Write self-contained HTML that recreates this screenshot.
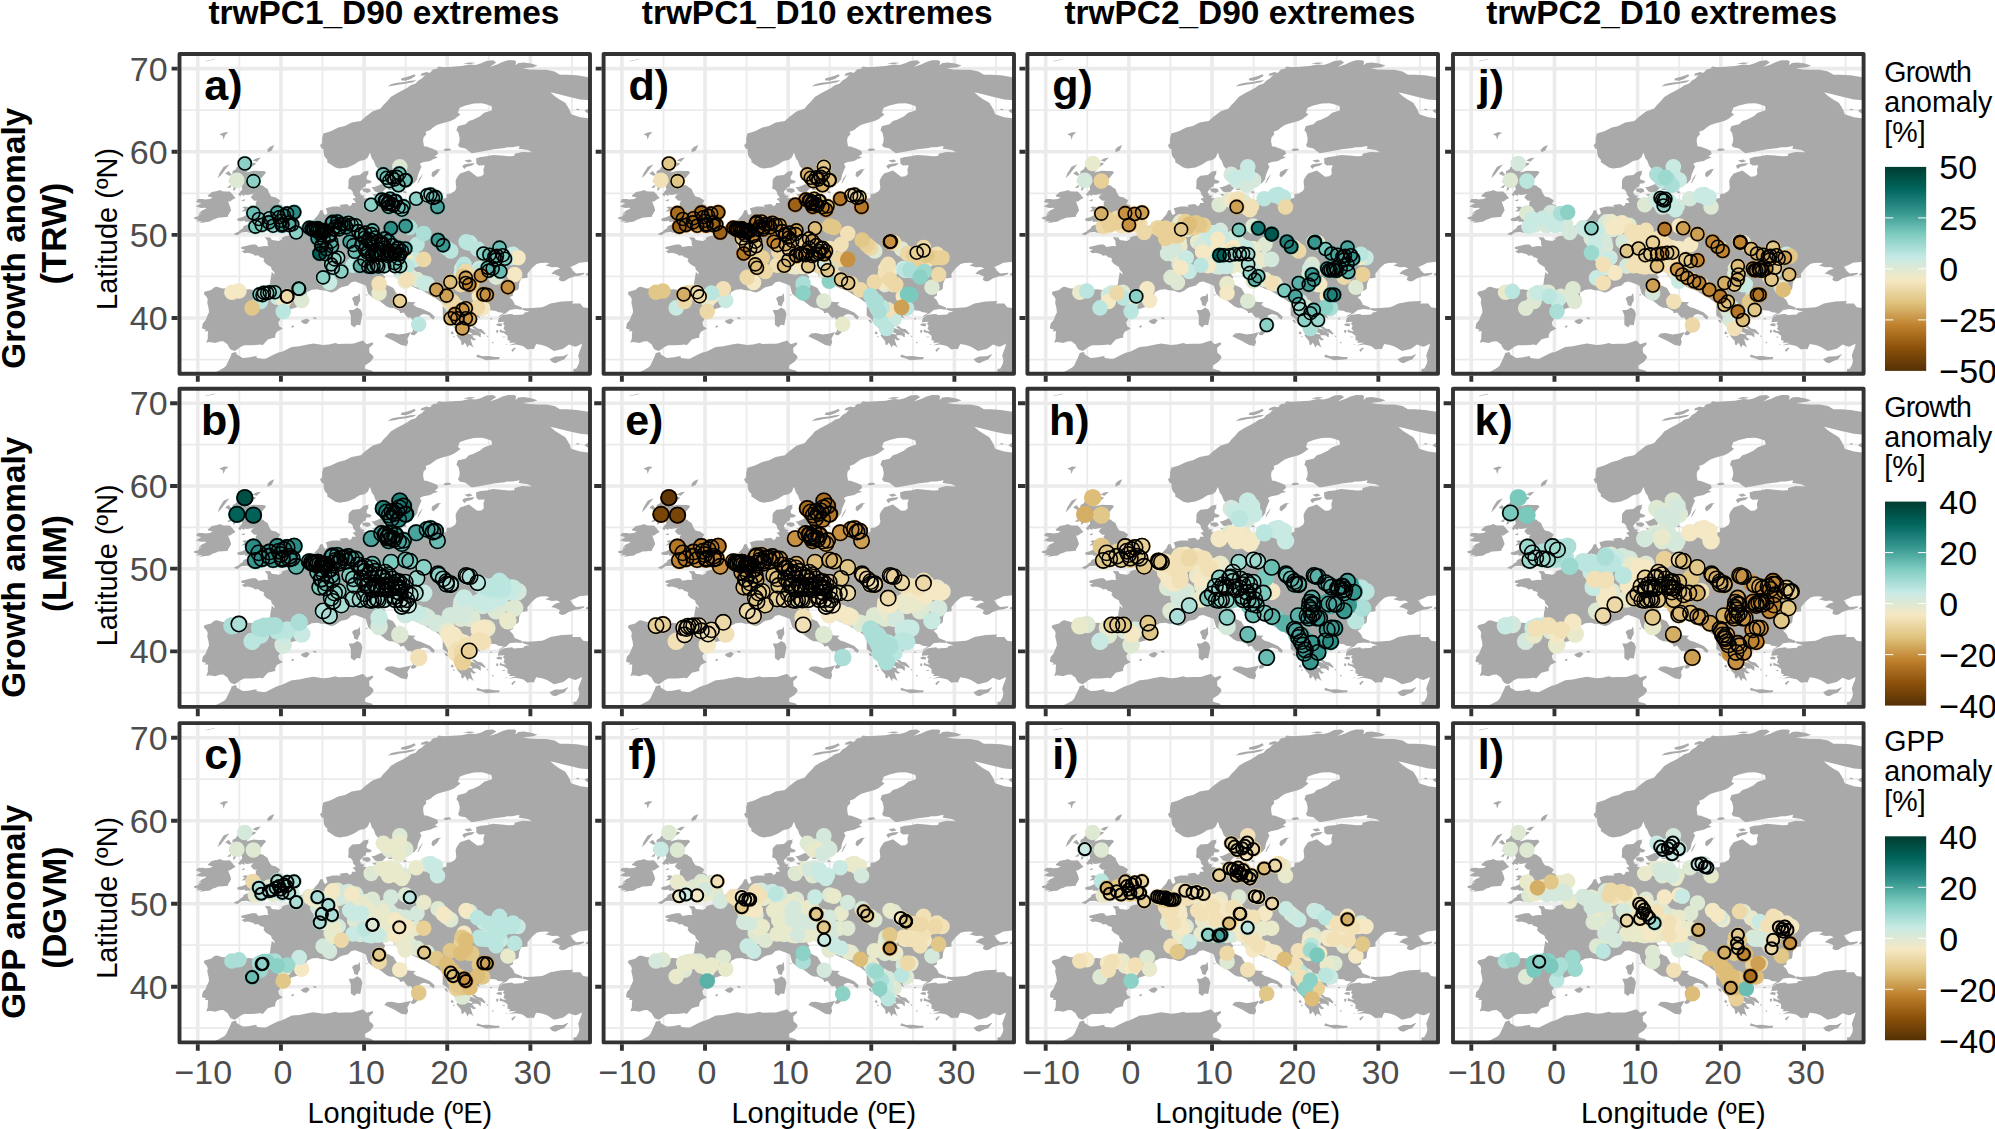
<!DOCTYPE html><html><head><meta charset="utf-8"><title>figure</title>
<style>html,body{margin:0;padding:0;background:#fff}svg{display:block}text{font-family:"Liberation Sans",Arial,Helvetica,sans-serif}.s0 circle,.s1 circle{stroke:#000;stroke-width:1.6px;fill:none}.s2 circle{stroke:#000;stroke-width:2px;fill:none}</style></head><body>
<svg width="1995" height="1129" viewBox="0 0 1995 1129">
<rect width="1995" height="1129" fill="#fff"/>
<defs>
<clipPath id="cp"><rect x="0" y="0" width="410.5" height="319.8"/></clipPath>
<linearGradient id="brbg" x1="0" y1="0" x2="0" y2="1"><stop offset="0.0000" stop-color="#003c30"/><stop offset="0.1111" stop-color="#01665e"/><stop offset="0.2222" stop-color="#35978f"/><stop offset="0.3333" stop-color="#80cdc1"/><stop offset="0.4444" stop-color="#c7eae5"/><stop offset="0.5556" stop-color="#f6e8c3"/><stop offset="0.6667" stop-color="#dfc27d"/><stop offset="0.7778" stop-color="#bf812d"/><stop offset="0.8889" stop-color="#8c510a"/><stop offset="1.0000" stop-color="#543005"/></linearGradient>
<g id="bg"><path d="M0 305.58H410.5M0 222.44H410.5M0 139.31H410.5M0 56.17H410.5M59.87 0V319.8M143.01 0V319.8M226.16 0V319.8M309.31 0V319.8M392.46 0V319.8" stroke="#ebebeb" stroke-width="1.8" fill="none"/><path d="M0 264.01H410.5M0 180.88H410.5M0 97.74H410.5M0 14.60H410.5M18.29 0V319.8M101.44 0V319.8M184.59 0V319.8M267.74 0V319.8M350.88 0V319.8" stroke="#ebebeb" stroke-width="3.6" fill="none"/><g fill="#a9a9a9"><path d="M57.0 296.0L54.9 297.1L51.1 295.6L49.1 292.7L48.2 290.6L43.7 287.3L39.9 287.5L35.8 289.0L29.9 288.1L26.7 288.8L28.3 284.4L28.3 280.6L28.7 277.3L24.9 277.2L26.6 275.7L24.1 275.0L22.4 274.2L23.3 269.4L26.2 266.1L27.4 262.8L29.5 258.2L29.1 254.5L27.7 248.5L28.3 245.7L27.4 243.2L24.4 239.9L24.9 237.8L31.6 236.0L34.9 233.3L37.4 232.7L43.2 234.5L52.8 233.7L64.0 235.7L69.8 235.2L76.5 236.2L86.5 236.2L89.0 234.9L90.6 229.1L91.0 225.4L91.9 220.8L92.3 217.9L95.2 220.8L94.8 218.3L92.3 215.8L91.5 212.9L86.5 210.0L84.0 207.1L84.8 205.0L83.1 203.7L80.7 203.3L78.6 201.2L75.7 201.7L73.2 200.0L68.2 198.8L65.1 199.2L62.1 197.2L65.7 195.8L61.8 194.8L61.9 192.9L68.2 191.5L72.3 190.4L76.5 190.4L79.0 193.1L84.8 192.1L89.0 192.3L88.1 190.5L88.1 187.1L85.3 183.2L90.9 183.4L92.3 186.1L99.4 186.9L102.3 185.4L102.7 183.4L106.4 182.1L110.4 181.5L114.3 179.2L114.6 173.6L116.8 172.8L121.2 172.1L125.6 170.6L129.3 169.2L133.9 169.2L131.4 167.2L134.7 165.5L135.5 164.2L138.9 160.5L140.8 156.3L143.4 156.3L143.8 158.4L145.5 161.3L148.0 159.3L146.3 154.3L153.0 152.6L159.6 152.6L161.3 153.4L160.1 150.9L167.1 149.9L168.8 150.9L170.0 152.2L172.1 150.9L172.5 148.9L176.3 148.9L175.4 147.2L175.0 146.5L172.9 145.1L176.3 143.5L173.4 140.1L173.4 138.1L171.3 135.4L168.6 134.7L169.0 131.0L169.0 126.4L170.0 124.3L172.9 121.7L180.4 121.0L184.2 117.7L189.6 116.5L188.3 118.1L189.2 119.1L187.1 122.7L187.1 125.2L192.3 127.3L190.8 129.3L186.7 129.7L186.3 132.2L183.8 133.5L182.5 135.1L180.4 137.6L180.4 138.9L182.5 140.6L180.0 141.0L184.2 141.4L184.8 142.5L183.3 143.7L186.3 144.3L190.4 145.1L192.9 144.3L193.7 146.0L191.2 147.2L192.1 148.0L196.6 148.3L198.7 146.4L202.0 146.1L205.4 143.7L208.7 144.0L210.4 145.1L213.3 146.8L216.2 146.8L219.9 148.3L222.8 147.6L230.9 146.1L237.0 144.7L241.5 142.8L247.4 141.3L253.8 140.7L257.8 142.6L254.8 141.6L255.7 143.5L256.5 144.7L262.7 144.7L266.9 143.9L266.9 142.4L267.3 139.7L271.1 139.7L275.6 136.8L276.9 133.5L276.5 131.7L276.1 126.8L277.5 123.5L280.6 119.4L289.4 116.4L294.3 120.2L297.7 122.7L301.8 122.3L304.3 120.2L303.9 115.4L305.2 111.3L299.3 111.5L296.8 109.5L296.8 106.5L296.4 104.4L301.0 102.9L307.2 102.3L313.5 100.9L321.8 101.5L329.3 102.3L334.7 102.1L335.1 99.8L342.6 97.9L352.5 98.3L348.4 96.1L339.2 94.8L340.1 91.9L332.6 93.2L327.6 93.2L325.1 94.0L314.3 95.2L308.9 96.3L301.0 97.7L292.3 99.2L289.4 97.3L286.0 94.4L280.2 93.2L278.5 91.1L279.8 88.3L280.2 84.4L279.0 78.9L276.9 76.1L278.5 72.0L286.0 70.3L289.4 67.0L293.5 65.7L300.2 62.4L304.7 58.8L312.6 56.2L311.8 52.0L305.6 50.1L302.2 49.3L294.3 49.5L286.0 51.6L280.2 53.7L278.5 58.7L281.0 60.5L275.2 64.9L271.1 67.0L261.9 69.5L257.3 71.1L253.6 73.6L250.7 75.9L246.1 77.8L246.9 80.3L244.0 83.4L243.6 86.9L244.5 92.2L247.8 92.7L254.4 95.2L257.8 96.9L258.6 99.8L255.3 102.3L258.6 103.6L253.6 105.2L250.7 106.9L243.2 108.3L240.3 109.8L242.0 112.7L240.3 116.4L238.6 120.4L237.6 125.5L234.5 129.3L231.2 129.7L224.9 129.6L220.3 131.6L220.8 134.7L216.2 135.8L208.3 136.1L209.5 134.3L207.0 130.6L205.0 128.5L208.3 125.6L203.3 121.8L200.4 116.9L196.2 112.1L194.1 106.6L192.5 104.8L190.4 98.6L188.3 103.6L185.0 106.1L180.0 107.1L174.6 110.6L168.0 113.4L160.1 114.5L155.9 113.5L151.3 110.6L147.6 108.1L148.0 106.1L145.1 102.7L144.3 99.8L143.8 94.4L142.6 95.2L140.5 91.3L142.6 89.0L142.6 84.4L143.8 79.4L151.3 77.2L158.8 73.6L165.5 72.0L172.1 68.6L181.3 67.0L185.4 63.2L192.9 57.4L201.2 54.5L203.7 51.2L207.9 47.0L211.2 42.9L217.0 39.5L222.8 36.6L227.8 33.7L231.2 31.2L236.1 29.6L238.6 26.7L242.8 24.2L244.5 22.1L249.4 19.2L256.1 15.0L264.4 13.2L272.7 12.7L281.9 12.1L290.2 10.4L296.0 10.9L301.0 9.6L306.8 6.9L313.5 6.3L316.8 8.4L310.1 12.9L317.6 10.4L323.0 7.9L328.4 6.3L334.7 6.3L336.7 7.5L335.9 11.3L338.9 8.9L344.2 8.4L351.7 9.6L358.0 11.6L353.8 13.2L343.2 14.3L349.6 15.4L358.0 15.8L366.7 15.8L375.0 17.5L380.4 20.7L387.5 20.7L397.4 21.3L414.7 24.2L414.7 46.6L400.8 45.4L387.1 42.2L378.3 40.0L370.8 38.3L375.0 42.0L380.0 45.4L385.8 48.7L388.3 52.8L390.4 56.6L391.6 60.3L400.8 63.2L414.7 64.9L414.7 205.8L407.4 207.9L399.9 208.7L395.0 211.2L390.8 212.7L393.3 216.6L396.6 219.5L404.5 218.7L404.9 220.0L399.1 222.0L395.8 222.2L389.1 224.5L385.4 227.0L382.1 227.5L379.2 225.8L380.4 222.4L375.8 220.4L371.7 219.5L375.8 216.2L380.8 214.5L377.5 212.9L372.5 213.3L365.8 211.6L370.0 209.6L366.7 208.7L360.9 208.9L357.1 210.0L352.5 214.1L348.0 219.5L348.0 223.7L341.7 224.5L339.7 229.3L339.2 234.5L338.4 235.7L333.4 237.4L333.4 241.6L330.1 243.2L333.0 246.0L334.3 248.2L335.1 250.5L342.6 253.6L342.2 255.7L336.3 255.1L330.1 255.9L326.8 259.0L323.2 260.7L319.0 263.6L320.1 261.5L324.3 259.0L318.0 258.0L316.8 256.9L309.3 256.1L304.3 256.3L298.5 258.2L300.2 260.7L304.3 262.9L298.9 261.1L301.0 264.4L295.6 261.9L298.9 264.6L292.7 261.1L292.3 259.0L289.4 259.9L289.4 262.4L292.3 267.3L295.6 271.1L292.3 269.4L291.4 271.9L288.9 273.4L294.3 275.2L297.7 276.8L301.4 279.4L301.2 283.6L297.9 281.2L292.7 281.2L293.9 283.7L296.8 285.6L293.9 286.5L291.0 284.4L291.8 287.7L293.1 291.6L294.3 293.7L291.0 291.4L289.1 291.0L288.4 294.0L286.0 289.8L285.2 288.8L283.4 291.3L281.9 290.5L281.6 286.9L278.5 283.6L276.9 281.2L279.4 279.0L282.1 278.6L287.7 279.4L292.3 280.6L292.7 279.4L287.7 277.5L283.0 277.4L279.4 277.7L276.7 276.2L274.0 272.7L271.1 270.0L269.8 268.2L267.7 265.1L263.2 261.5L263.2 256.5L263.2 253.0L264.2 249.0L261.1 248.1L255.7 244.1L251.9 242.0L246.5 238.7L242.8 236.6L238.2 234.9L233.6 233.0L228.0 229.8L225.3 224.9L225.3 222.4L221.4 219.7L219.5 222.0L217.0 224.1L214.8 221.8L213.7 218.3L215.9 217.0L213.9 216.0L210.6 216.8L204.1 218.9L203.7 220.8L205.8 222.9L203.5 227.3L206.0 230.2L213.9 233.9L216.6 238.7L219.7 243.5L226.2 247.4L231.2 248.0L236.0 248.2L233.8 250.5L236.8 253.0L241.7 254.6L250.7 258.6L255.3 262.8L254.1 265.7L250.9 263.6L249.9 261.5L244.7 260.1L241.1 261.1L238.6 266.1L243.9 270.7L244.5 272.1L239.7 273.8L239.3 276.9L235.0 281.2L231.6 281.1L231.6 279.0L233.6 277.1L233.1 275.5L236.3 273.2L234.7 269.4L232.6 265.5L231.4 263.4L228.5 263.8L226.0 261.1L224.2 258.4L220.6 259.3L219.9 257.1L214.3 254.0L209.9 253.8L206.4 252.0L203.1 249.3L199.4 246.6L193.7 244.1L188.7 239.7L187.1 234.5L186.5 231.8L183.2 230.2L175.7 227.4L171.9 228.3L168.2 231.8L164.6 232.6L161.9 233.3L159.6 234.5L156.7 236.8L152.6 238.4L150.7 238.2L145.9 236.6L141.4 236.2L138.0 235.3L132.2 235.7L130.5 236.7L127.2 238.2L126.8 241.6L129.0 244.7L127.6 245.3L127.5 248.6L124.7 250.1L119.6 252.5L111.8 254.9L108.7 258.0L105.3 260.1L101.4 264.3L98.8 268.6L99.8 272.3L103.4 274.6L97.4 277.7L95.8 280.8L95.7 283.7L93.3 284.1L88.3 285.6L83.2 291.3L80.9 290.4L76.3 291.0L72.2 291.3L64.7 291.3L60.9 293.1Z"/><path d="M343.4 253.9L347.6 254.2L352.5 254.0L362.5 253.2L365.8 252.0L370.8 249.5L382.1 247.6L393.7 247.1L392.5 249.5L400.8 249.6L403.7 253.2L414.7 254.9L414.7 324.0L393.3 324.0L394.1 314.7L396.6 314.7L399.1 310.2L399.9 306.4L398.7 301.4L400.4 296.4L402.0 292.4L402.4 289.8L397.4 292.3L395.4 292.7L389.5 290.6L383.7 294.8L374.6 297.1L367.5 292.7L362.5 290.9L356.7 290.0L354.2 295.6L352.1 294.8L348.0 295.6L343.4 292.1L340.9 291.4L336.3 290.5L328.8 291.6L336.7 288.7L329.3 288.7L330.9 286.9L328.0 286.0L328.0 281.7L324.3 279.0L320.1 278.0L320.5 275.2L323.4 276.9L326.8 277.2L323.9 275.1L325.1 271.7L323.4 269.8L325.1 267.8L318.2 268.3L319.3 264.0L320.9 262.8L323.4 261.1L328.4 260.3L332.6 259.9L334.3 261.1L343.8 260.4L345.1 258.6L350.1 257.8L342.6 255.7Z"/><path d="M414.7 218.7L407.8 219.0L405.8 220.8L408.3 221.6L414.7 222.4Z"/><path d="M414.7 54.5L407.8 54.9L404.9 56.8L407.4 58.7L414.7 61.6Z"/><path d="M30.3 324.0L30.8 320.1L38.2 317.2L44.7 313.6L46.6 311.7L50.3 303.9L51.3 301.7L52.2 299.1L56.5 297.9L57.4 300.6L63.2 303.9L68.8 303.5L76.9 302.0L77.3 304.1L83.1 304.8L86.1 304.8L96.0 299.8L98.9 298.5L102.1 297.9L112.2 292.9L119.7 292.3L126.8 290.8L133.9 289.6L143.7 291.0L149.4 290.5L155.9 289.0L158.8 290.0L166.0 289.8L171.7 289.8L174.2 289.4L183.5 286.5L187.1 290.2L193.3 288.3L193.7 290.2L189.6 293.9L190.0 298.7L193.3 301.4L194.1 303.7L191.0 307.8L185.4 311.4L185.4 314.7L192.1 316.4L193.7 318.1L195.4 324.0Z"/><path d="M54.0 180.3L58.2 181.2L61.9 178.4L66.9 178.0L71.2 179.0L73.2 175.9L76.9 175.1L81.1 176.6L84.4 176.1L90.6 174.6L94.8 174.8L103.5 174.8L109.5 173.3L112.7 171.5L113.4 169.4L108.9 169.5L105.6 168.8L107.7 168.2L109.3 167.6L111.0 166.1L112.2 164.7L114.6 163.6L116.1 160.3L115.8 159.3L112.2 156.5L105.6 156.3L103.1 157.6L102.3 156.3L104.4 154.7L102.3 151.1L98.9 149.9L100.8 146.6L96.5 143.5L91.9 142.4L89.8 139.3L88.1 135.1L84.8 132.9L83.7 131.8L80.7 131.0L74.8 131.2L70.7 130.7L79.8 128.7L77.3 127.3L80.0 126.4L84.1 121.4L86.6 118.5L84.8 116.9L80.7 117.0L74.2 116.7L66.5 118.5L70.0 115.4L67.3 115.2L71.1 113.4L75.8 110.6L76.3 109.0L73.3 108.8L66.5 109.8L59.9 109.1L59.0 112.3L57.4 113.1L56.5 115.2L53.2 116.9L52.8 119.4L54.0 120.4L53.0 122.7L49.6 124.9L55.7 127.7L54.9 130.2L53.4 136.8L55.3 136.0L57.0 132.7L60.7 131.8L61.9 131.4L62.8 135.6L61.1 137.2L58.6 140.6L60.9 142.4L61.5 140.6L64.9 142.0L64.9 140.4L67.8 141.1L76.1 139.6L73.2 140.4L71.3 143.5L74.7 146.8L77.7 146.8L76.2 148.2L76.3 150.5L76.1 152.4L73.8 153.0L69.4 153.2L65.7 152.4L62.8 153.3L65.3 154.9L61.9 157.6L67.2 157.2L67.8 158.3L67.5 160.8L62.5 163.3L59.3 164.0L57.4 165.2L58.6 166.9L62.4 167.2L65.3 166.6L65.7 168.0L68.6 167.6L70.7 168.7L75.1 168.8L76.9 168.2L79.4 167.6L78.8 168.4L76.5 169.8L76.1 170.9L72.6 170.7L67.2 170.7L63.8 172.4L63.6 174.0L60.3 176.3L59.2 177.4L55.9 179.0Z"/><path d="M40.2 136.1L43.7 137.5L46.1 137.6L50.3 137.4L53.2 140.6L54.0 141.8L56.1 143.9L52.8 145.8L50.7 147.5L48.6 147.6L49.5 149.9L50.7 153.0L51.6 156.2L49.9 159.3L48.6 161.3L48.5 162.8L43.8 163.3L38.7 163.7L36.2 164.8L32.8 165.9L30.5 167.6L24.1 168.4L19.8 168.8L22.4 167.2L16.6 167.6L19.1 165.9L15.0 165.1L14.4 163.4L19.5 162.0L18.7 160.8L22.4 159.4L18.9 159.6L23.0 156.2L26.6 154.7L26.2 153.7L21.6 153.9L16.4 152.6L19.1 150.8L21.6 149.3L16.6 147.9L18.3 145.1L23.7 144.9L24.9 145.5L30.3 145.1L33.3 143.5L28.7 142.4L28.3 141.6L32.4 138.1L35.2 137.4L38.0 137.0Z"/><path d="M204.8 282.3L207.5 279.4L212.4 279.0L219.5 280.6L226.2 279.4L231.6 278.1L227.8 284.8L228.7 288.5L227.0 291.9L221.6 291.0L214.5 286.9L208.7 284.2Z"/><path d="M169.2 256.1L171.3 261.5L171.3 270.7L175.0 273.4L177.1 270.7L180.8 271.2L182.1 264.0L182.9 259.9L181.3 255.7L177.9 253.6L173.8 256.1Z"/><path d="M172.5 244.5L174.2 248.2L174.6 251.1L177.9 252.6L179.6 248.6L180.8 246.6L180.4 240.7L179.6 239.1L178.8 241.6L174.6 242.4Z"/><path d="M121.0 267.3L124.3 269.8L127.2 270.1L130.4 266.5L127.2 264.4L123.1 266.1Z"/><path d="M133.0 263.8L135.5 265.3L137.2 264.8L135.9 263.3Z"/><path d="M111.4 273.2L113.5 273.6L114.7 271.9L113.1 271.3Z"/><path d="M296.8 303.1L297.7 300.6L302.7 302.3L309.3 302.1L315.5 303.1L320.1 303.1L319.7 305.2L313.5 305.7L306.8 306.2L301.0 303.9Z"/><path d="M370.0 305.2L372.5 308.1L375.8 309.2L381.6 306.4L384.6 305.6L389.1 299.9L383.3 302.3L375.8 302.4L372.5 303.9Z"/><path d="M331.8 296.0L333.0 298.1L336.3 293.9L335.1 293.5Z"/><path d="M292.3 272.7L295.2 272.1L298.1 274.4L302.2 275.2L306.0 279.4L305.6 280.8L302.2 279.0L298.1 277.3L296.0 275.7Z"/><path d="M316.4 270.7L319.3 269.2L322.6 269.8L322.2 272.2L318.5 271.9Z"/><path d="M316.8 276.1L318.9 276.1L318.5 279.0L316.8 278.6Z"/><path d="M192.1 133.1L195.4 137.6L198.7 138.5L202.5 139.3L203.7 137.2L206.6 134.3L206.2 130.6L201.2 130.2L198.7 131.4L194.6 133.1Z"/><path d="M182.5 135.1L183.8 137.6L187.9 139.1L191.2 137.6L190.8 135.6L188.7 134.2L184.6 134.6Z"/><path d="M192.5 140.6L195.4 142.2L200.0 142.6L202.5 140.6L200.0 139.7L195.4 139.9Z"/><path d="M223.7 138.5L225.7 139.3L227.4 138.3L224.5 136.8Z"/><path d="M237.8 129.3L239.9 124.3L243.6 119.6L241.5 123.9L239.0 128.5Z"/><path d="M251.9 121.0L253.6 123.5L257.8 119.8L260.3 115.6L262.3 114.8L257.8 115.2L252.8 118.1Z"/><path d="M282.7 111.9L284.8 115.0L286.9 113.1L292.7 111.5L295.2 109.0L290.2 109.4L285.2 110.2Z"/><path d="M284.8 106.6L288.5 108.5L293.1 107.3L290.2 105.4Z"/><path d="M263.6 96.1L266.9 97.3L271.9 96.1L270.2 94.4L266.1 94.6Z"/><path d="M208.3 32.5L214.5 31.6L220.3 30.4L227.0 29.6L233.6 28.3L237.0 26.2L231.2 26.7L225.3 27.9L217.8 28.7L212.0 30.0Z"/><path d="M221.2 26.2L226.2 26.7L231.2 25.0L236.1 22.1L235.3 20.2L230.3 22.1L226.2 23.3L222.0 24.2Z"/><path d="M241.1 21.7L246.9 21.3L251.1 19.2L246.9 17.9L242.0 19.6Z"/><path d="M251.1 17.5L257.8 17.9L260.3 15.8L254.4 15.0Z"/><path d="M256.9 14.6L264.4 15.0L265.2 13.4L259.4 12.5Z"/><path d="M283.5 10.0L291.8 10.0L296.0 8.8L289.4 8.4Z"/><path d="M396.6 55.8L399.9 56.2L399.5 54.9L397.0 54.7Z"/><path d="M39.9 80.3L44.9 78.2L49.1 78.6L45.7 81.1L44.1 85.7L43.2 81.9Z"/><path d="M88.1 98.6L92.3 96.5L94.8 91.1L90.6 92.7L88.1 95.2Z"/><path d="M73.2 106.5L77.3 107.7L81.5 103.6L76.5 104.4Z"/><path d="M38.2 124.3L41.6 121.0L49.9 110.2L44.1 112.7L39.9 119.4Z"/><path d="M45.7 119.4L49.1 116.9L52.4 121.0L49.9 121.8Z"/><path d="M49.1 128.5L54.0 126.8L49.9 126.0Z"/><path d="M47.4 133.5L50.7 133.9L52.4 130.2L49.9 131.8Z"/><path d="M61.5 146.8L65.3 145.1L64.9 147.2Z"/><path d="M26.2 7.5L34.9 5.5L35.3 4.9L26.2 7.0Z"/><path d="M264.8 266.1L267.3 265.7L268.6 269.0L266.5 268.6Z"/><path d="M271.1 279.0L272.7 276.9L274.4 279.8L272.3 280.2Z"/><path d="M273.1 281.9L275.6 282.7L274.4 283.6Z"/><path d="M312.2 288.1L314.3 287.7L313.5 289.4Z"/><path d="M306.8 281.1L308.9 282.7L307.6 283.1Z"/><path d="M322.2 282.7L326.4 282.7L324.3 283.6Z"/><path d="M325.5 291.0L328.4 289.8L326.8 291.0Z"/><path d="M309.7 264.8L312.6 264.0L312.2 265.7Z"/><path d="M305.6 258.2L307.2 257.8L306.8 259.2Z"/><path d="M185.4 240.9L187.9 240.3L187.9 241.4Z"/></g></g>
</defs>
<g transform="translate(179.5 54.0) scale(1.00000 1.00000)" clip-path="url(#cp)">
<use href="#bg"/>
<g fill="none" stroke-linecap="round" stroke-width="15.6"><path d="M57.4 126.3h0M220.2 204.9h0M230.8 222.6h0M237.5 225.6h0M316.6 223.1h0M220.3 112.8h0M122.2 246.6h0" stroke="#dee9d4"/><path d="M222.4 218.9h0M282.4 214.6h0M281.8 219.7h0" stroke="#d4e9dc"/><path d="M225.7 227.3h0M199.6 239.0h0" stroke="#e9e9cc"/><path d="M150.0 228.4h0M230.8 207.1h0M235.8 205.4h0M244.6 229.0h0M247.6 229.8h0M288.0 188.6h0M290.5 188.9h0M331.7 203.7h0M333.4 200.3h0M299.8 214.6h0M303.1 216.3h0M306.5 216.3h0M320.0 210.4h0M282.9 265.1h0M97.8 243.3h0M305.7 215.3h0M278.7 253.4h0" stroke="#c9eae3"/><path d="M225.7 203.7h0M338.5 203.7h0M335.1 220.5h0M303.1 254.2h0M299.8 242.4h0M52.4 238.2h0M59.4 237.0h0M104.5 246.6h0" stroke="#f4e8c5"/><path d="M173.5 211.3h0M224.0 216.3h0M227.4 212.1h0M237.5 190.6h0M267.0 193.9h0M271.2 197.0h0M286.6 187.7h0M298.1 195.0h0M284.6 210.4h0M271.2 250.0h0M273.7 254.2h0M286.3 258.4h0M277.0 266.0h0M81.0 247.5h0M103.7 257.6h0M239.2 270.2h0M301.3 216.3h0" stroke="#bbe5df"/><path d="M227.4 225.6h0M269.5 247.5h0M199.6 229.8h0" stroke="#f2e1b7"/><path d="M230.3 173.4h0M244.2 179.6h0M284.8 216.3h0M268.5 243.4h0" stroke="#abded7"/><path d="M244.2 205.4h0M286.3 217.2h0M281.3 230.6h0M279.6 228.1h0M298.1 253.4h0M272.8 247.5h0" stroke="#edd9a7"/><path d="M283.8 222.2h0M292.2 230.6h0M72.6 253.9h0" stroke="#e2c888"/><path d="M107.9 242.4h0M107.3 242.5h0" stroke="#edd9a7"/><path d="M158.7 203.7h0M215.6 212.1h0M220.7 212.1h0" stroke="#9bd8ce"/><path d="M220.3 247.0h0" stroke="#e8d097"/><path d="M65.3 109.5h0M73.9 127.1h0M93.6 171.7h0M116.7 178.5h0M136.2 175.1h0M144.9 176.8h0M172.2 170.9h0M155.0 205.4h0M151.7 210.4h0M161.8 217.5h0M143.6 223.4h0M153.4 213.8h0M194.1 212.1h0M204.7 212.1h0M182.0 180.1h0M185.3 183.5h0M215.6 197.0h0M202.2 201.2h0M220.7 200.3h0M304.0 199.5h0M323.3 201.2h0M191.7 150.7h0M207.2 123.8h0M209.7 127.1h0M236.7 144.8h0M247.6 141.4h0M251.0 140.6h0M80.1 240.4h0M84.4 238.7h0M87.7 239.0h0M90.2 238.2h0M95.3 238.2h0M119.7 234.8h0M83.0 241.1h0M203.3 189.1h0M184.8 206.2h0M138.4 174.4h0M144.4 186.2h0M89.9 164.2h0M216.0 147.0h0M226.2 126.0h0M119.0 234.6h0" stroke="#8bd1c6"/><path d="M79.3 165.0h0M75.9 172.6h0M82.3 170.9h0M104.5 161.6h0M134.0 174.8h0M147.0 176.8h0M155.9 172.6h0M165.1 170.0h0M168.8 168.7h0M176.1 171.2h0M173.9 191.1h0M191.7 213.0h0M198.8 212.5h0M192.1 180.1h0M205.5 193.6h0M222.4 197.0h0M198.8 200.3h0M197.1 199.5h0M212.3 200.3h0M201.7 200.7h0M316.6 205.4h0M214.8 125.5h0M219.0 131.3h0M208.9 148.2h0M213.9 151.5h0M253.5 144.0h0M217.3 194.3h0M197.3 211.1h0M145.1 176.9h0M143.1 176.3h0M159.7 175.4h0M109.8 171.1h0M206.4 146.7h0M207.7 150.0h0M314.9 202.7h0M325.5 204.7h0" stroke="#7ac9bd"/><path d="M270.8 228.1h0M286.3 229.0h0" stroke="#ddbd77"/><path d="M73.9 159.1h0M99.5 163.3h0M109.9 168.4h0M132.0 174.3h0M142.4 191.1h0M151.7 187.7h0M175.2 197.8h0M198.8 186.9h0M208.9 197.0h0M188.7 197.0h0M309.9 200.7h0M317.4 201.7h0M320.0 193.6h0M320.8 217.5h0M203.8 120.4h0M217.3 122.9h0M225.7 126.3h0M219.8 119.6h0M202.2 145.6h0M205.5 146.5h0M212.3 149.9h0M215.6 147.3h0M219.0 153.2h0M222.4 155.7h0M224.0 152.4h0M256.0 143.1h0M209.2 152.9h0M187.9 198.7h0M181.3 180.8h0M218.8 204.4h0M204.5 197.6h0M215.1 209.1h0M137.7 177.3h0M132.5 175.6h0M146.1 200.2h0M159.7 173.4h0M208.7 149.0h0M212.6 123.4h0" stroke="#6abdb2"/><path d="M277.9 264.3h0M290.5 265.1h0M286.3 254.2h0M271.2 264.3h0" stroke="#d5ae65"/><path d="M112.6 170.4h0M129.8 173.8h0M148.8 182.2h0M141.6 181.0h0M153.7 175.4h0M161.8 170.0h0M152.5 192.3h0M180.6 211.8h0M188.7 212.5h0M178.6 177.1h0M188.7 186.9h0M192.9 202.0h0M309.0 216.8h0M313.2 214.6h0M308.2 213.8h0M210.6 144.8h0M185.7 178.6h0M192.9 176.4h0M208.7 202.0h0M219.2 193.8h0M144.4 176.1h0M141.7 191.6h0M150.5 181.7h0M153.2 167.9h0" stroke="#59b1a7"/><path d="M286.3 223.9h0M256.9 235.7h0M267.0 241.6h0M282.9 274.4h0" stroke="#cea053"/><path d="M89.4 168.4h0M97.8 158.6h0M102.9 170.4h0M170.2 187.7h0M195.4 183.5h0M202.2 190.2h0M212.8 191.1h0M225.7 194.5h0M195.4 197.0h0M207.2 199.5h0M205.5 184.4h0M182.0 190.2h0M208.9 186.9h0M258.0 152.9h0M190.4 185.0h0M134.3 176.1h0M152.2 169.2h0" stroke="#48a49c"/><path d="M328.4 233.2h0M275.4 260.1h0M282.9 255.9h0M304.0 240.4h0M307.3 240.7h0M301.5 221.4h0M286.3 264.3h0" stroke="#c79141"/><path d="M101.2 166.7h0M107.6 159.6h0M138.2 174.4h0M140.2 176.4h0M142.4 177.1h0M138.2 184.4h0M166.8 173.4h0M146.6 195.3h0M219.0 200.3h0M192.1 190.2h0M192.1 201.2h0M215.6 199.5h0M185.3 195.3h0M226.1 172.1h0M258.5 186.0h0M263.6 191.1h0M102.5 171.4h0" stroke="#379890"/><path d="M289.7 230.6h0" stroke="#c0832f"/><path d="M114.6 158.3h0M157.9 167.5h0M211.4 174.3h0" stroke="#2b8d85"/><path d="M140.2 199.5h0" stroke="#016259"/></g><g class="s0"><circle cx="65.3" cy="109.5" r="6.5"/><circle cx="73.9" cy="127.1" r="6.5"/><circle cx="73.9" cy="159.1" r="6.5"/><circle cx="79.3" cy="165.0" r="6.5"/><circle cx="75.9" cy="172.6" r="6.5"/><circle cx="82.3" cy="170.9" r="6.5"/><circle cx="89.4" cy="168.4" r="6.5"/><circle cx="93.6" cy="171.7" r="6.5"/><circle cx="97.8" cy="158.6" r="6.5"/><circle cx="99.5" cy="163.3" r="6.5"/><circle cx="101.2" cy="166.7" r="6.5"/><circle cx="102.9" cy="170.4" r="6.5"/><circle cx="104.5" cy="161.6" r="6.5"/><circle cx="107.6" cy="159.6" r="6.5"/><circle cx="109.9" cy="168.4" r="6.5"/><circle cx="114.6" cy="158.3" r="6.5"/><circle cx="112.6" cy="170.4" r="6.5"/><circle cx="116.7" cy="178.5" r="6.5"/><circle cx="129.8" cy="173.8" r="6.5"/><circle cx="132.0" cy="174.3" r="6.5"/><circle cx="134.0" cy="174.8" r="6.5"/><circle cx="136.2" cy="175.1" r="6.5"/><circle cx="138.2" cy="174.4" r="6.5"/><circle cx="140.2" cy="176.4" r="6.5"/><circle cx="142.4" cy="177.1" r="6.5"/><circle cx="144.9" cy="176.8" r="6.5"/><circle cx="147.0" cy="176.8" r="6.5"/><circle cx="148.8" cy="182.2" r="6.5"/><circle cx="138.2" cy="184.4" r="6.5"/><circle cx="141.6" cy="181.0" r="6.5"/><circle cx="153.7" cy="175.4" r="6.5"/><circle cx="157.9" cy="167.5" r="6.5"/><circle cx="155.9" cy="172.6" r="6.5"/><circle cx="161.8" cy="170.0" r="6.5"/><circle cx="165.1" cy="170.0" r="6.5"/><circle cx="168.8" cy="168.7" r="6.5"/><circle cx="172.2" cy="170.9" r="6.5"/><circle cx="176.1" cy="171.2" r="6.5"/><circle cx="166.8" cy="173.4" r="6.5"/><circle cx="142.4" cy="191.1" r="6.5"/><circle cx="152.5" cy="192.3" r="6.5"/><circle cx="140.2" cy="199.5" r="6.5"/><circle cx="146.6" cy="195.3" r="6.5"/><circle cx="151.7" cy="187.7" r="6.5"/><circle cx="155.0" cy="205.4" r="6.5"/><circle cx="151.7" cy="210.4" r="6.5"/><circle cx="158.7" cy="203.7" r="6.5"/><circle cx="161.8" cy="217.5" r="6.5"/><circle cx="143.6" cy="223.4" r="6.5"/><circle cx="153.4" cy="213.8" r="6.5"/><circle cx="170.2" cy="187.7" r="6.5"/><circle cx="173.9" cy="191.1" r="6.5"/><circle cx="175.2" cy="197.8" r="6.5"/><circle cx="180.6" cy="211.8" r="6.5"/><circle cx="188.7" cy="212.5" r="6.5"/><circle cx="191.7" cy="213.0" r="6.5"/><circle cx="194.1" cy="212.1" r="6.5"/><circle cx="198.8" cy="212.5" r="6.5"/><circle cx="204.7" cy="212.1" r="6.5"/><circle cx="178.6" cy="177.1" r="6.5"/><circle cx="182.0" cy="180.1" r="6.5"/><circle cx="185.3" cy="183.5" r="6.5"/><circle cx="188.7" cy="186.9" r="6.5"/><circle cx="192.1" cy="180.1" r="6.5"/><circle cx="195.4" cy="183.5" r="6.5"/><circle cx="198.8" cy="186.9" r="6.5"/><circle cx="202.2" cy="190.2" r="6.5"/><circle cx="205.5" cy="193.6" r="6.5"/><circle cx="208.9" cy="197.0" r="6.5"/><circle cx="212.8" cy="191.1" r="6.5"/><circle cx="215.6" cy="197.0" r="6.5"/><circle cx="219.0" cy="200.3" r="6.5"/><circle cx="222.4" cy="197.0" r="6.5"/><circle cx="225.7" cy="194.5" r="6.5"/><circle cx="192.1" cy="190.2" r="6.5"/><circle cx="195.4" cy="197.0" r="6.5"/><circle cx="198.8" cy="200.3" r="6.5"/><circle cx="202.2" cy="201.2" r="6.5"/><circle cx="188.7" cy="197.0" r="6.5"/><circle cx="192.1" cy="201.2" r="6.5"/><circle cx="197.1" cy="199.5" r="6.5"/><circle cx="207.2" cy="199.5" r="6.5"/><circle cx="212.3" cy="200.3" r="6.5"/><circle cx="215.6" cy="199.5" r="6.5"/><circle cx="220.7" cy="200.3" r="6.5"/><circle cx="201.7" cy="200.7" r="6.5"/><circle cx="205.5" cy="184.4" r="6.5"/><circle cx="182.0" cy="190.2" r="6.5"/><circle cx="185.3" cy="195.3" r="6.5"/><circle cx="208.9" cy="186.9" r="6.5"/><circle cx="192.9" cy="202.0" r="6.5"/><circle cx="215.6" cy="212.1" r="6.5"/><circle cx="220.7" cy="212.1" r="6.5"/><circle cx="211.4" cy="174.3" r="6.5"/><circle cx="226.1" cy="172.1" r="6.5"/><circle cx="258.5" cy="186.0" r="6.5"/><circle cx="263.6" cy="191.1" r="6.5"/><circle cx="304.0" cy="199.5" r="6.5"/><circle cx="309.9" cy="200.7" r="6.5"/><circle cx="317.4" cy="201.7" r="6.5"/><circle cx="323.3" cy="201.2" r="6.5"/><circle cx="316.6" cy="205.4" r="6.5"/><circle cx="320.0" cy="193.6" r="6.5"/><circle cx="309.0" cy="216.8" r="6.5"/><circle cx="313.2" cy="214.6" r="6.5"/><circle cx="320.8" cy="217.5" r="6.5"/><circle cx="328.4" cy="233.2" r="6.5"/><circle cx="308.2" cy="213.8" r="6.5"/><circle cx="286.3" cy="223.9" r="6.5"/><circle cx="270.8" cy="228.1" r="6.5"/><circle cx="289.7" cy="230.6" r="6.5"/><circle cx="256.9" cy="235.7" r="6.5"/><circle cx="267.0" cy="241.6" r="6.5"/><circle cx="275.4" cy="260.1" r="6.5"/><circle cx="277.9" cy="264.3" r="6.5"/><circle cx="282.9" cy="255.9" r="6.5"/><circle cx="290.5" cy="265.1" r="6.5"/><circle cx="282.9" cy="274.4" r="6.5"/><circle cx="304.0" cy="240.4" r="6.5"/><circle cx="307.3" cy="240.7" r="6.5"/><circle cx="191.7" cy="150.7" r="6.5"/><circle cx="203.8" cy="120.4" r="6.5"/><circle cx="207.2" cy="123.8" r="6.5"/><circle cx="209.7" cy="127.1" r="6.5"/><circle cx="214.8" cy="125.5" r="6.5"/><circle cx="217.3" cy="122.9" r="6.5"/><circle cx="225.7" cy="126.3" r="6.5"/><circle cx="219.8" cy="119.6" r="6.5"/><circle cx="219.0" cy="131.3" r="6.5"/><circle cx="202.2" cy="145.6" r="6.5"/><circle cx="205.5" cy="146.5" r="6.5"/><circle cx="208.9" cy="148.2" r="6.5"/><circle cx="212.3" cy="149.9" r="6.5"/><circle cx="215.6" cy="147.3" r="6.5"/><circle cx="219.0" cy="153.2" r="6.5"/><circle cx="222.4" cy="155.7" r="6.5"/><circle cx="224.0" cy="152.4" r="6.5"/><circle cx="210.6" cy="144.8" r="6.5"/><circle cx="213.9" cy="151.5" r="6.5"/><circle cx="236.7" cy="144.8" r="6.5"/><circle cx="247.6" cy="141.4" r="6.5"/><circle cx="251.0" cy="140.6" r="6.5"/><circle cx="253.5" cy="144.0" r="6.5"/><circle cx="256.0" cy="143.1" r="6.5"/><circle cx="258.0" cy="152.9" r="6.5"/><circle cx="209.2" cy="152.9" r="6.5"/><circle cx="80.1" cy="240.4" r="6.5"/><circle cx="84.4" cy="238.7" r="6.5"/><circle cx="87.7" cy="239.0" r="6.5"/><circle cx="90.2" cy="238.2" r="6.5"/><circle cx="95.3" cy="238.2" r="6.5"/><circle cx="107.9" cy="242.4" r="6.5"/><circle cx="119.7" cy="234.8" r="6.5"/><circle cx="83.0" cy="241.1" r="6.5"/><circle cx="220.3" cy="247.0" r="6.5"/><circle cx="185.7" cy="178.6" r="6.5"/><circle cx="192.9" cy="176.4" r="6.5"/><circle cx="190.4" cy="185.0" r="6.5"/><circle cx="187.9" cy="198.7" r="6.5"/><circle cx="181.3" cy="180.8" r="6.5"/><circle cx="218.8" cy="204.4" r="6.5"/><circle cx="217.3" cy="194.3" r="6.5"/><circle cx="203.3" cy="189.1" r="6.5"/><circle cx="208.7" cy="202.0" r="6.5"/><circle cx="204.5" cy="197.6" r="6.5"/><circle cx="219.2" cy="193.8" r="6.5"/><circle cx="184.8" cy="206.2" r="6.5"/><circle cx="215.1" cy="209.1" r="6.5"/><circle cx="197.3" cy="211.1" r="6.5"/><circle cx="138.4" cy="174.4" r="6.5"/><circle cx="145.1" cy="176.9" r="6.5"/><circle cx="134.3" cy="176.1" r="6.5"/><circle cx="137.7" cy="177.3" r="6.5"/><circle cx="132.5" cy="175.6" r="6.5"/><circle cx="144.4" cy="176.1" r="6.5"/><circle cx="143.1" cy="176.3" r="6.5"/><circle cx="144.4" cy="186.2" r="6.5"/><circle cx="141.7" cy="191.6" r="6.5"/><circle cx="146.1" cy="200.2" r="6.5"/><circle cx="150.5" cy="181.7" r="6.5"/><circle cx="159.7" cy="173.4" r="6.5"/><circle cx="153.2" cy="167.9" r="6.5"/><circle cx="152.2" cy="169.2" r="6.5"/><circle cx="159.7" cy="175.4" r="6.5"/><circle cx="89.9" cy="164.2" r="6.5"/><circle cx="102.5" cy="171.4" r="6.5"/><circle cx="109.8" cy="171.1" r="6.5"/><circle cx="208.7" cy="149.0" r="6.5"/><circle cx="206.4" cy="146.7" r="6.5"/><circle cx="207.7" cy="150.0" r="6.5"/><circle cx="216.0" cy="147.0" r="6.5"/><circle cx="212.6" cy="123.4" r="6.5"/><circle cx="226.2" cy="126.0" r="6.5"/><circle cx="314.9" cy="202.7" r="6.5"/><circle cx="325.5" cy="204.7" r="6.5"/><circle cx="286.3" cy="229.0" r="6.5"/><circle cx="301.5" cy="221.4" r="6.5"/><circle cx="286.3" cy="254.2" r="6.5"/><circle cx="271.2" cy="264.3" r="6.5"/><circle cx="286.3" cy="264.3" r="6.5"/><circle cx="107.3" cy="242.5" r="6.5"/><circle cx="119.0" cy="234.6" r="6.5"/></g>
</g>
<text x="204.3" y="100.2" font-size="43" font-weight="bold" fill="#000">a)</text>
<rect x="179.5" y="54.0" width="410.50" height="319.80" fill="none" stroke="#333" stroke-width="3.9" stroke-linejoin="round"/>
<path d="M197.79 375.7v6M280.94 375.7v6M364.09 375.7v6M447.24 375.7v6M530.38 375.7v6M177.6 318.01h-6M177.6 234.88h-6M177.6 151.74h-6M177.6 68.60h-6" stroke="#333" stroke-width="3.9" fill="none"/>
<text x="167.7" y="330.0" font-size="34" fill="#4d4d4d" text-anchor="end">40</text>
<text x="167.7" y="246.9" font-size="34" fill="#4d4d4d" text-anchor="end">50</text>
<text x="167.7" y="163.7" font-size="34" fill="#4d4d4d" text-anchor="end">60</text>
<text x="167.7" y="80.6" font-size="34" fill="#4d4d4d" text-anchor="end">70</text>
<text transform="translate(116.5 228.9) rotate(-90)" font-size="29" text-anchor="middle" fill="#000">Latitude (ºN)</text>
<g transform="translate(603.6 54.0) scale(0.99976 1.00000)" clip-path="url(#cp)">
<use href="#bg"/>
<g fill="none" stroke-linecap="round" stroke-width="15.6"><path d="M222.4 218.9h0M227.4 212.1h0M271.2 197.0h0M298.1 195.0h0M320.0 210.4h0M328.4 233.2h0M286.3 217.2h0M283.8 222.2h0M281.3 230.6h0M273.7 254.2h0M104.5 246.6h0M220.3 247.0h0M215.1 209.1h0" stroke="#dee9d4"/><path d="M188.7 212.5h0M191.7 213.0h0M194.1 212.1h0M198.8 212.5h0M239.2 270.2h0" stroke="#e9e9cc"/><path d="M150.0 228.4h0M279.6 228.1h0M299.8 242.4h0M107.9 242.4h0M218.8 204.4h0M197.3 211.1h0M282.4 214.6h0M284.8 216.3h0" stroke="#f4e8c5"/><path d="M299.8 214.6h0M303.1 216.3h0M309.0 216.8h0M269.5 247.5h0M277.9 262.6h0M286.3 258.4h0M290.5 265.1h0M282.9 265.1h0M72.6 253.9h0M122.2 246.6h0" stroke="#c9eae3"/><path d="M57.4 126.3h0M173.5 211.3h0M195.4 183.5h0M225.7 194.5h0M192.1 190.2h0M207.2 199.5h0M220.2 204.9h0M227.4 225.6h0M230.8 222.6h0M225.7 203.7h0M244.2 179.6h0M237.5 190.6h0M290.5 188.9h0M333.4 200.3h0M284.6 210.4h0M289.7 230.6h0M284.6 255.9h0M87.7 239.0h0M119.7 234.8h0M83.0 241.1h0M187.9 198.7h0M203.3 189.1h0M141.7 191.6h0M146.1 200.2h0M325.5 204.7h0M281.8 219.7h0" stroke="#f2e1b7"/><path d="M230.8 207.1h0M308.2 213.8h0M277.0 266.0h0M282.9 274.4h0M303.1 254.2h0M305.7 215.3h0M301.3 216.3h0M278.7 253.4h0M268.5 243.4h0M107.9 239.0h0" stroke="#bbe5df"/><path d="M155.0 205.4h0M161.8 217.5h0M143.6 223.4h0M175.2 197.8h0M208.9 197.0h0M219.0 200.3h0M188.7 197.0h0M215.6 212.1h0M235.8 205.4h0M247.6 229.8h0M267.0 193.9h0M288.0 188.6h0M304.0 199.5h0M317.4 201.7h0M320.0 193.6h0M335.1 220.5h0M286.3 225.6h0M270.8 228.1h0M292.2 230.6h0M256.9 235.7h0M84.4 238.7h0M90.2 238.2h0M81.0 247.5h0M103.7 257.6h0M190.4 185.0h0M144.4 186.2h0" stroke="#edd9a7"/><path d="M306.5 216.3h0M313.2 214.6h0M267.0 241.6h0M271.2 250.0h0M275.4 257.6h0M272.8 247.5h0M199.6 229.8h0" stroke="#abded7"/><path d="M158.7 203.7h0M202.2 190.2h0M195.4 197.0h0M263.6 191.1h0M309.9 200.7h0M331.7 203.7h0M316.6 205.4h0M338.5 203.7h0M314.9 202.7h0" stroke="#e8d097"/><path d="M320.8 217.5h0" stroke="#9bd8ce"/><path d="M225.7 227.3h0M316.6 223.1h0M199.6 239.0h0" stroke="#8bd1c6"/><path d="M226.1 172.1h0M230.3 173.4h0M258.5 186.0h0M323.3 201.2h0M52.4 238.2h0M59.4 237.0h0" stroke="#e2c888"/><path d="M304.0 240.4h0M307.3 240.7h0" stroke="#7ac9bd"/><path d="M298.1 253.4h0" stroke="#cea053"/><path d="M244.2 205.4h0" stroke="#c79141"/><path d="M220.7 209.6h0" stroke="#c9eae3"/><path d="M93.6 238.2h0M96.1 242.4h0" stroke="#edd9a7"/><path d="M142.4 191.1h0M198.8 186.9h0M212.8 191.1h0M215.6 197.0h0M215.6 199.5h0M185.3 195.3h0M247.6 141.4h0M251.0 140.6h0M253.5 144.0h0M256.0 143.1h0M181.3 180.8h0M219.2 193.8h0M313.2 198.7h0M320.0 196.5h0" stroke="#e8d097"/><path d="M65.3 109.5h0M73.9 127.1h0M138.2 184.4h0M152.5 192.3h0M146.6 195.3h0M151.7 187.7h0M204.7 212.1h0M202.2 201.2h0M192.1 201.2h0M201.7 200.7h0M224.0 216.3h0M237.5 225.6h0M244.6 229.0h0M220.3 112.8h0M219.8 119.6h0M217.3 194.3h0M184.8 206.2h0M226.2 126.0h0" stroke="#e2c888"/><path d="M151.7 210.4h0M153.4 213.8h0M173.9 191.1h0M180.6 211.8h0M188.7 186.9h0M192.1 180.1h0M222.4 197.0h0M205.5 184.4h0M211.4 174.3h0M209.7 127.1h0M225.7 126.3h0M215.6 147.3h0M224.0 152.4h0M208.7 202.0h0M204.5 197.6h0M143.1 176.3h0M216.0 147.0h0M212.6 123.4h0" stroke="#ddbd77"/><path d="M134.0 174.8h0M142.4 177.1h0M141.6 181.0h0M157.9 167.5h0M185.3 183.5h0M182.0 190.2h0M203.8 120.4h0M207.2 123.8h0M217.3 122.9h0M219.0 131.3h0M212.3 149.9h0M219.0 153.2h0M210.6 144.8h0M80.1 240.4h0M138.4 174.4h0M150.5 181.7h0" stroke="#d5ae65"/><path d="M136.2 175.1h0M138.2 174.4h0M140.2 176.4h0M153.7 175.4h0M168.8 168.7h0M176.1 171.2h0M212.3 200.3h0M208.9 186.9h0M214.8 125.5h0M213.9 151.5h0M192.9 176.4h0M152.2 169.2h0" stroke="#cea053"/><path d="M93.6 171.7h0M99.5 163.3h0M112.6 170.4h0M147.0 176.8h0M161.8 170.0h0M165.1 170.0h0M172.2 170.9h0M182.0 180.1h0M205.5 193.6h0M198.8 200.3h0M197.1 199.5h0M220.7 200.3h0M192.9 202.0h0M286.6 187.7h0M145.1 176.9h0M144.4 176.1h0M208.7 149.0h0M207.7 150.0h0M286.5 187.9h0M287.1 187.5h0" stroke="#c79141"/><path d="M79.3 165.0h0M107.6 159.6h0M148.8 182.2h0M170.2 187.7h0M178.6 177.1h0M202.2 145.6h0M205.5 146.5h0M185.7 178.6h0M89.9 164.2h0M206.4 146.7h0" stroke="#c0832f"/><path d="M102.9 170.4h0M166.8 173.4h0M140.2 199.5h0M208.9 148.2h0M222.4 155.7h0M236.7 144.8h0M258.0 152.9h0M209.2 152.9h0M134.3 176.1h0M132.5 175.6h0M159.7 173.4h0M153.2 167.9h0" stroke="#b57726"/><path d="M73.9 159.1h0M101.2 166.7h0M104.5 161.6h0M114.6 158.3h0M144.9 176.8h0M137.7 177.3h0M159.7 175.4h0M102.5 171.4h0M109.8 171.1h0" stroke="#a96d1e"/><path d="M75.9 172.6h0M82.3 170.9h0M89.4 168.4h0M97.8 158.6h0M109.9 168.4h0M116.7 178.5h0M129.8 173.8h0M132.0 174.3h0M155.9 172.6h0M191.7 150.7h0" stroke="#9e6216"/></g><g class="s0"><circle cx="65.3" cy="109.5" r="6.5"/><circle cx="73.9" cy="127.1" r="6.5"/><circle cx="73.9" cy="159.1" r="6.5"/><circle cx="79.3" cy="165.0" r="6.5"/><circle cx="75.9" cy="172.6" r="6.5"/><circle cx="82.3" cy="170.9" r="6.5"/><circle cx="89.4" cy="168.4" r="6.5"/><circle cx="93.6" cy="171.7" r="6.5"/><circle cx="97.8" cy="158.6" r="6.5"/><circle cx="99.5" cy="163.3" r="6.5"/><circle cx="101.2" cy="166.7" r="6.5"/><circle cx="102.9" cy="170.4" r="6.5"/><circle cx="104.5" cy="161.6" r="6.5"/><circle cx="107.6" cy="159.6" r="6.5"/><circle cx="109.9" cy="168.4" r="6.5"/><circle cx="114.6" cy="158.3" r="6.5"/><circle cx="112.6" cy="170.4" r="6.5"/><circle cx="116.7" cy="178.5" r="6.5"/><circle cx="129.8" cy="173.8" r="6.5"/><circle cx="132.0" cy="174.3" r="6.5"/><circle cx="134.0" cy="174.8" r="6.5"/><circle cx="136.2" cy="175.1" r="6.5"/><circle cx="138.2" cy="174.4" r="6.5"/><circle cx="140.2" cy="176.4" r="6.5"/><circle cx="142.4" cy="177.1" r="6.5"/><circle cx="144.9" cy="176.8" r="6.5"/><circle cx="147.0" cy="176.8" r="6.5"/><circle cx="148.8" cy="182.2" r="6.5"/><circle cx="138.2" cy="184.4" r="6.5"/><circle cx="141.6" cy="181.0" r="6.5"/><circle cx="153.7" cy="175.4" r="6.5"/><circle cx="157.9" cy="167.5" r="6.5"/><circle cx="155.9" cy="172.6" r="6.5"/><circle cx="161.8" cy="170.0" r="6.5"/><circle cx="165.1" cy="170.0" r="6.5"/><circle cx="168.8" cy="168.7" r="6.5"/><circle cx="172.2" cy="170.9" r="6.5"/><circle cx="176.1" cy="171.2" r="6.5"/><circle cx="166.8" cy="173.4" r="6.5"/><circle cx="142.4" cy="191.1" r="6.5"/><circle cx="152.5" cy="192.3" r="6.5"/><circle cx="140.2" cy="199.5" r="6.5"/><circle cx="146.6" cy="195.3" r="6.5"/><circle cx="151.7" cy="187.7" r="6.5"/><circle cx="151.7" cy="210.4" r="6.5"/><circle cx="153.4" cy="213.8" r="6.5"/><circle cx="170.2" cy="187.7" r="6.5"/><circle cx="173.9" cy="191.1" r="6.5"/><circle cx="180.6" cy="211.8" r="6.5"/><circle cx="204.7" cy="212.1" r="6.5"/><circle cx="178.6" cy="177.1" r="6.5"/><circle cx="182.0" cy="180.1" r="6.5"/><circle cx="185.3" cy="183.5" r="6.5"/><circle cx="188.7" cy="186.9" r="6.5"/><circle cx="192.1" cy="180.1" r="6.5"/><circle cx="198.8" cy="186.9" r="6.5"/><circle cx="205.5" cy="193.6" r="6.5"/><circle cx="212.8" cy="191.1" r="6.5"/><circle cx="215.6" cy="197.0" r="6.5"/><circle cx="222.4" cy="197.0" r="6.5"/><circle cx="198.8" cy="200.3" r="6.5"/><circle cx="202.2" cy="201.2" r="6.5"/><circle cx="192.1" cy="201.2" r="6.5"/><circle cx="197.1" cy="199.5" r="6.5"/><circle cx="212.3" cy="200.3" r="6.5"/><circle cx="215.6" cy="199.5" r="6.5"/><circle cx="220.7" cy="200.3" r="6.5"/><circle cx="201.7" cy="200.7" r="6.5"/><circle cx="205.5" cy="184.4" r="6.5"/><circle cx="182.0" cy="190.2" r="6.5"/><circle cx="185.3" cy="195.3" r="6.5"/><circle cx="208.9" cy="186.9" r="6.5"/><circle cx="192.9" cy="202.0" r="6.5"/><circle cx="220.7" cy="209.6" r="6.5"/><circle cx="224.0" cy="216.3" r="6.5"/><circle cx="237.5" cy="225.6" r="6.5"/><circle cx="244.6" cy="229.0" r="6.5"/><circle cx="211.4" cy="174.3" r="6.5"/><circle cx="286.6" cy="187.7" r="6.5"/><circle cx="191.7" cy="150.7" r="6.5"/><circle cx="203.8" cy="120.4" r="6.5"/><circle cx="207.2" cy="123.8" r="6.5"/><circle cx="209.7" cy="127.1" r="6.5"/><circle cx="214.8" cy="125.5" r="6.5"/><circle cx="217.3" cy="122.9" r="6.5"/><circle cx="220.3" cy="112.8" r="6.5"/><circle cx="225.7" cy="126.3" r="6.5"/><circle cx="219.8" cy="119.6" r="6.5"/><circle cx="219.0" cy="131.3" r="6.5"/><circle cx="202.2" cy="145.6" r="6.5"/><circle cx="205.5" cy="146.5" r="6.5"/><circle cx="208.9" cy="148.2" r="6.5"/><circle cx="212.3" cy="149.9" r="6.5"/><circle cx="215.6" cy="147.3" r="6.5"/><circle cx="219.0" cy="153.2" r="6.5"/><circle cx="222.4" cy="155.7" r="6.5"/><circle cx="224.0" cy="152.4" r="6.5"/><circle cx="210.6" cy="144.8" r="6.5"/><circle cx="213.9" cy="151.5" r="6.5"/><circle cx="236.7" cy="144.8" r="6.5"/><circle cx="247.6" cy="141.4" r="6.5"/><circle cx="251.0" cy="140.6" r="6.5"/><circle cx="253.5" cy="144.0" r="6.5"/><circle cx="256.0" cy="143.1" r="6.5"/><circle cx="258.0" cy="152.9" r="6.5"/><circle cx="209.2" cy="152.9" r="6.5"/><circle cx="80.1" cy="240.4" r="6.5"/><circle cx="93.6" cy="238.2" r="6.5"/><circle cx="96.1" cy="242.4" r="6.5"/><circle cx="185.7" cy="178.6" r="6.5"/><circle cx="192.9" cy="176.4" r="6.5"/><circle cx="181.3" cy="180.8" r="6.5"/><circle cx="217.3" cy="194.3" r="6.5"/><circle cx="208.7" cy="202.0" r="6.5"/><circle cx="204.5" cy="197.6" r="6.5"/><circle cx="219.2" cy="193.8" r="6.5"/><circle cx="184.8" cy="206.2" r="6.5"/><circle cx="138.4" cy="174.4" r="6.5"/><circle cx="145.1" cy="176.9" r="6.5"/><circle cx="134.3" cy="176.1" r="6.5"/><circle cx="137.7" cy="177.3" r="6.5"/><circle cx="132.5" cy="175.6" r="6.5"/><circle cx="144.4" cy="176.1" r="6.5"/><circle cx="143.1" cy="176.3" r="6.5"/><circle cx="150.5" cy="181.7" r="6.5"/><circle cx="159.7" cy="173.4" r="6.5"/><circle cx="153.2" cy="167.9" r="6.5"/><circle cx="152.2" cy="169.2" r="6.5"/><circle cx="159.7" cy="175.4" r="6.5"/><circle cx="89.9" cy="164.2" r="6.5"/><circle cx="102.5" cy="171.4" r="6.5"/><circle cx="109.8" cy="171.1" r="6.5"/><circle cx="208.7" cy="149.0" r="6.5"/><circle cx="206.4" cy="146.7" r="6.5"/><circle cx="207.7" cy="150.0" r="6.5"/><circle cx="216.0" cy="147.0" r="6.5"/><circle cx="212.6" cy="123.4" r="6.5"/><circle cx="226.2" cy="126.0" r="6.5"/><circle cx="286.5" cy="187.9" r="6.5"/><circle cx="287.1" cy="187.5" r="6.5"/><circle cx="313.2" cy="198.7" r="6.5"/><circle cx="320.0" cy="196.5" r="6.5"/></g>
</g>
<text x="628.4" y="100.2" font-size="43" font-weight="bold" fill="#000">d)</text>
<rect x="603.6" y="54.0" width="410.40" height="319.80" fill="none" stroke="#333" stroke-width="3.9" stroke-linejoin="round"/>
<path d="M621.89 375.7v6M705.02 375.7v6M788.14 375.7v6M871.27 375.7v6M954.40 375.7v6M601.7 318.01h-6M601.7 234.88h-6M601.7 151.74h-6M601.7 68.60h-6" stroke="#333" stroke-width="3.9" fill="none"/>
<g transform="translate(1027.4 54.0) scale(1.00024 1.00000)" clip-path="url(#cp)">
<use href="#bg"/>
<g fill="none" stroke-linecap="round" stroke-width="15.6"><path d="M142.4 191.1h0M155.0 205.4h0M151.7 210.4h0M143.6 223.4h0M150.0 228.4h0M194.1 212.1h0M182.0 180.1h0M185.3 183.5h0M188.7 186.9h0M198.8 186.9h0M198.8 200.3h0M205.5 184.4h0M182.0 190.2h0M235.8 205.4h0M225.7 203.7h0M225.7 172.1h0M237.5 190.6h0M328.4 233.2h0M284.6 210.4h0M286.3 217.2h0M269.5 247.5h0M277.9 262.6h0M191.7 150.7h0M225.7 126.3h0M212.3 149.9h0M215.6 147.3h0M219.0 153.2h0M213.9 151.5h0M95.3 238.2h0M220.3 247.0h0M203.3 189.1h0M215.1 209.1h0M144.4 186.2h0M152.2 169.2h0M159.7 175.4h0M207.7 150.0h0M216.0 147.0h0M212.6 123.4h0M284.8 216.3h0M278.7 253.4h0M268.5 243.4h0" stroke="#dee9d4"/><path d="M65.3 109.5h0M152.5 192.3h0M151.7 187.7h0M170.2 187.7h0M204.7 212.1h0M222.4 197.0h0M225.7 194.5h0M192.9 202.0h0M215.6 212.1h0M227.4 212.1h0M230.8 207.1h0M237.5 225.6h0M247.6 229.8h0M225.7 227.3h0M290.5 188.9h0M279.6 228.1h0M282.9 265.1h0M202.2 145.6h0M52.4 238.2h0M104.5 246.6h0M199.6 229.8h0M217.3 194.3h0M141.7 191.6h0M146.1 200.2h0M153.2 167.9h0M281.8 219.7h0" stroke="#e9e9cc"/><path d="M57.4 126.3h0M140.2 199.5h0M146.6 195.3h0M173.9 191.1h0M188.7 212.5h0M191.7 213.0h0M178.6 177.1h0M192.1 180.1h0M202.2 190.2h0M208.9 197.0h0M212.8 191.1h0M219.0 200.3h0M192.1 190.2h0M208.9 186.9h0M244.2 205.4h0M286.6 187.7h0M289.7 230.6h0M272.8 247.5h0M203.8 120.4h0M209.7 127.1h0M214.8 125.5h0M217.3 122.9h0M219.0 131.3h0M81.0 240.7h0M87.7 239.0h0M192.9 176.4h0M187.9 198.7h0M218.8 204.4h0M184.8 206.2h0M226.2 126.0h0M282.4 214.6h0" stroke="#d4e9dc"/><path d="M158.7 203.7h0M161.8 217.5h0M198.8 212.5h0M195.4 183.5h0M215.6 197.0h0M185.3 195.3h0M220.2 204.9h0M224.0 216.3h0M338.5 203.7h0M286.3 258.4h0M207.2 123.8h0M220.3 112.8h0M219.8 119.6h0M84.4 238.7h0M83.0 241.1h0M185.7 178.6h0M181.3 180.8h0M219.2 193.8h0M197.3 211.1h0" stroke="#c9eae3"/><path d="M153.4 213.8h0M175.2 197.8h0M180.6 211.8h0M205.5 193.6h0M195.4 197.0h0M188.7 197.0h0M201.7 200.7h0M267.0 193.9h0M331.7 203.7h0M292.2 230.6h0M275.4 257.6h0M299.8 242.4h0M205.5 146.5h0M81.0 247.5h0M119.7 234.8h0M122.2 246.6h0M199.6 239.0h0M190.4 185.0h0M208.7 202.0h0M206.4 146.7h0" stroke="#f4e8c5"/><path d="M93.6 171.7h0M101.2 166.7h0M102.9 170.4h0M112.6 170.4h0M132.0 174.3h0M134.0 174.8h0M140.2 176.4h0M142.4 177.1h0M244.6 229.0h0M208.9 148.2h0M222.4 155.7h0M224.0 152.4h0M210.6 144.8h0M204.5 197.6h0M134.3 176.1h0M137.7 177.3h0M144.4 176.1h0M109.8 171.1h0M208.7 149.0h0" stroke="#f2e1b7"/><path d="M173.5 211.3h0M333.4 200.3h0M236.7 144.8h0M247.6 141.4h0M251.0 140.6h0M253.5 144.0h0M256.0 143.1h0M59.4 237.0h0M72.6 253.9h0M96.1 244.1h0M103.7 257.6h0" stroke="#bbe5df"/><path d="M75.9 172.6h0M99.5 163.3h0M104.5 161.6h0M109.9 168.4h0M116.7 178.5h0M129.8 173.8h0M138.2 174.4h0M148.8 182.2h0M271.2 197.0h0M316.6 223.1h0M258.0 152.9h0M89.4 239.0h0M145.1 176.9h0M143.1 176.3h0M89.9 164.2h0" stroke="#edd9a7"/><path d="M282.9 274.4h0M303.1 254.2h0" stroke="#abded7"/><path d="M73.9 127.1h0M79.3 165.0h0M82.3 170.9h0M89.4 168.4h0M136.2 175.1h0M144.9 176.8h0M147.0 176.8h0M138.2 184.4h0M141.6 181.0h0M157.9 167.5h0M155.9 172.6h0M165.1 170.0h0M176.1 171.2h0M166.8 173.4h0M335.1 220.5h0M138.4 174.4h0M132.5 175.6h0M150.5 181.7h0" stroke="#e8d097"/><path d="M168.8 168.7h0M172.2 170.9h0" stroke="#e2c888"/><path d="M298.1 253.4h0" stroke="#8bd1c6"/><path d="M161.8 170.0h0M159.7 173.4h0" stroke="#ddbd77"/><path d="M196.3 201.2h0M220.7 210.4h0" stroke="#abded7"/><path d="M202.2 201.2h0M215.6 199.5h0M220.7 200.3h0M222.4 218.9h0M271.2 250.0h0M272.8 255.0h0M290.5 266.0h0" stroke="#9bd8ce"/><path d="M153.7 175.4h0" stroke="#e2c888"/><path d="M207.2 200.3h0M212.3 200.3h0M277.0 266.0h0M108.8 242.4h0M239.2 271.0h0M282.9 259.2h0" stroke="#8bd1c6"/><path d="M230.8 222.2h0M211.4 175.9h0M298.1 195.0h0M317.4 201.7h0M256.9 236.5h0M314.9 202.7h0" stroke="#7ac9bd"/><path d="M73.9 159.6h0" stroke="#d5ae65"/><path d="M286.3 255.9h0" stroke="#6abdb2"/><path d="M114.6 158.6h0M209.2 152.9h0" stroke="#cea053"/><path d="M227.4 225.6h0M309.9 200.7h0M320.8 218.0h0M320.0 210.4h0M271.2 229.0h0" stroke="#59b1a7"/><path d="M97.8 159.1h0M107.1 160.0h0M101.5 170.9h0" stroke="#c79141"/><path d="M304.0 199.5h0M316.6 205.4h0M320.0 193.6h0M299.8 214.6h0M309.0 216.8h0M267.8 242.4h0M325.5 204.7h0M305.7 215.3h0M301.3 216.3h0" stroke="#48a49c"/><path d="M287.1 188.6h0M323.3 201.2h0M306.5 216.3h0M313.2 214.6h0M284.6 220.5h0M286.3 225.6h0M281.3 230.6h0M287.4 188.0h0" stroke="#379890"/><path d="M303.1 216.3h0M308.2 213.8h0" stroke="#2b8d85"/><path d="M259.4 187.7h0M263.6 192.8h0M303.1 240.7h0M306.5 240.7h0" stroke="#1f827a"/><path d="M230.8 174.3h0" stroke="#13776f"/><path d="M192.1 201.2h0" stroke="#016259"/><path d="M244.2 180.1h0" stroke="#01584f"/></g><g class="s0"><circle cx="73.9" cy="159.6" r="6.5"/><circle cx="97.8" cy="159.1" r="6.5"/><circle cx="107.1" cy="160.0" r="6.5"/><circle cx="114.6" cy="158.6" r="6.5"/><circle cx="153.7" cy="175.4" r="6.5"/><circle cx="202.2" cy="201.2" r="6.5"/><circle cx="192.1" cy="201.2" r="6.5"/><circle cx="196.3" cy="201.2" r="6.5"/><circle cx="207.2" cy="200.3" r="6.5"/><circle cx="212.3" cy="200.3" r="6.5"/><circle cx="215.6" cy="199.5" r="6.5"/><circle cx="220.7" cy="200.3" r="6.5"/><circle cx="220.7" cy="210.4" r="6.5"/><circle cx="222.4" cy="218.9" r="6.5"/><circle cx="227.4" cy="225.6" r="6.5"/><circle cx="230.8" cy="222.2" r="6.5"/><circle cx="211.4" cy="175.9" r="6.5"/><circle cx="230.8" cy="174.3" r="6.5"/><circle cx="244.2" cy="180.1" r="6.5"/><circle cx="259.4" cy="187.7" r="6.5"/><circle cx="263.6" cy="192.8" r="6.5"/><circle cx="287.1" cy="188.6" r="6.5"/><circle cx="298.1" cy="195.0" r="6.5"/><circle cx="304.0" cy="199.5" r="6.5"/><circle cx="309.9" cy="200.7" r="6.5"/><circle cx="317.4" cy="201.7" r="6.5"/><circle cx="323.3" cy="201.2" r="6.5"/><circle cx="316.6" cy="205.4" r="6.5"/><circle cx="320.0" cy="193.6" r="6.5"/><circle cx="299.8" cy="214.6" r="6.5"/><circle cx="303.1" cy="216.3" r="6.5"/><circle cx="306.5" cy="216.3" r="6.5"/><circle cx="309.0" cy="216.8" r="6.5"/><circle cx="313.2" cy="214.6" r="6.5"/><circle cx="320.8" cy="218.0" r="6.5"/><circle cx="320.0" cy="210.4" r="6.5"/><circle cx="308.2" cy="213.8" r="6.5"/><circle cx="284.6" cy="220.5" r="6.5"/><circle cx="286.3" cy="225.6" r="6.5"/><circle cx="281.3" cy="230.6" r="6.5"/><circle cx="271.2" cy="229.0" r="6.5"/><circle cx="256.9" cy="236.5" r="6.5"/><circle cx="267.8" cy="242.4" r="6.5"/><circle cx="271.2" cy="250.0" r="6.5"/><circle cx="272.8" cy="255.0" r="6.5"/><circle cx="286.3" cy="255.9" r="6.5"/><circle cx="290.5" cy="266.0" r="6.5"/><circle cx="277.0" cy="266.0" r="6.5"/><circle cx="303.1" cy="240.7" r="6.5"/><circle cx="306.5" cy="240.7" r="6.5"/><circle cx="209.2" cy="152.9" r="6.5"/><circle cx="108.8" cy="242.4" r="6.5"/><circle cx="239.2" cy="271.0" r="6.5"/><circle cx="101.5" cy="170.9" r="6.5"/><circle cx="314.9" cy="202.7" r="6.5"/><circle cx="325.5" cy="204.7" r="6.5"/><circle cx="305.7" cy="215.3" r="6.5"/><circle cx="301.3" cy="216.3" r="6.5"/><circle cx="282.9" cy="259.2" r="6.5"/><circle cx="287.4" cy="188.0" r="6.5"/></g>
</g>
<text x="1052.2" y="100.2" font-size="43" font-weight="bold" fill="#000">g)</text>
<rect x="1027.4" y="54.0" width="410.60" height="319.80" fill="none" stroke="#333" stroke-width="3.9" stroke-linejoin="round"/>
<path d="M1045.70 375.7v6M1128.86 375.7v6M1212.03 375.7v6M1295.20 375.7v6M1378.37 375.7v6M1025.5 318.01h-6M1025.5 234.88h-6M1025.5 151.74h-6M1025.5 68.60h-6" stroke="#333" stroke-width="3.9" fill="none"/>
<g transform="translate(1453.0 54.0) scale(1.00024 1.00000)" clip-path="url(#cp)">
<use href="#bg"/>
<g fill="none" stroke-linecap="round" stroke-width="15.6"><path d="M57.4 126.3h0M73.9 159.1h0M89.4 168.4h0M99.5 163.3h0M104.5 161.6h0M112.6 170.4h0M136.2 175.1h0M147.0 176.8h0M148.8 182.2h0M138.2 184.4h0M153.7 175.4h0M176.1 171.2h0M142.4 191.1h0M152.5 192.3h0M146.6 195.3h0M173.9 191.1h0M222.4 218.9h0M237.5 225.6h0M290.5 188.9h0M328.4 233.2h0M286.3 217.2h0M279.6 228.1h0M277.0 266.0h0M191.7 150.7h0M258.0 152.9h0M72.7 254.2h0M81.2 240.7h0M90.2 238.2h0M95.3 238.2h0M81.0 247.5h0M107.9 242.4h0M119.9 234.8h0M121.5 247.5h0M83.0 241.1h0M134.3 176.1h0M137.7 177.3h0M144.4 186.2h0M159.7 175.4h0M282.4 214.6h0M281.8 219.7h0" stroke="#dee9d4"/><path d="M65.3 109.5h0M82.3 170.9h0M93.6 171.7h0M97.8 158.6h0M109.9 168.4h0M116.7 178.5h0M129.8 173.8h0M134.0 174.8h0M144.9 176.8h0M161.8 170.0h0M151.7 187.7h0M156.9 203.7h0M153.4 213.8h0M170.2 187.7h0M173.7 212.1h0M247.6 229.8h0M267.0 193.9h0M316.6 223.1h0M273.7 254.2h0M275.4 257.6h0M277.9 262.6h0M286.3 258.4h0M282.9 265.1h0M299.8 242.4h0M202.2 145.6h0M205.5 146.5h0M208.9 148.2h0M224.0 152.4h0M210.6 144.8h0M236.7 144.8h0M209.2 152.9h0M87.7 239.0h0M199.6 239.0h0M145.1 176.9h0M132.5 175.6h0M146.1 200.2h0M150.5 181.7h0M153.2 167.9h0M152.2 169.2h0M109.8 171.1h0M208.7 149.0h0M278.7 253.4h0M268.5 243.4h0" stroke="#d4e9dc"/><path d="M157.9 167.5h0M155.9 172.6h0M195.4 183.5h0M195.4 197.0h0M220.7 200.3h0M192.9 202.0h0M220.7 212.1h0M52.5 238.2h0M187.9 198.7h0M215.1 209.1h0" stroke="#e9e9cc"/><path d="M79.3 165.0h0M75.9 172.6h0M101.2 166.7h0M102.9 170.4h0M132.0 174.3h0M138.2 174.4h0M140.2 176.4h0M142.4 177.1h0M141.6 181.0h0M155.0 205.4h0M143.4 223.9h0M227.4 225.6h0M225.7 227.3h0M286.6 187.7h0M333.4 200.3h0M320.8 217.5h0M320.0 210.4h0M289.7 230.6h0M292.2 230.6h0M269.5 247.5h0M298.1 253.4h0M217.3 122.9h0M220.3 112.8h0M225.7 126.3h0M219.8 119.6h0M212.3 149.9h0M215.6 147.3h0M219.0 153.2h0M222.4 155.7h0M213.9 151.5h0M247.6 141.4h0M251.0 140.6h0M253.5 144.0h0M256.0 143.1h0M84.4 238.7h0M104.5 246.6h0M144.4 176.1h0M143.1 176.3h0M141.7 191.6h0M89.9 164.2h0M102.5 171.4h0M206.4 146.7h0M207.7 150.0h0M216.0 147.0h0M226.2 126.0h0M284.8 216.3h0" stroke="#c9eae3"/><path d="M165.1 170.0h0M168.8 168.7h0M172.2 170.9h0M165.1 173.4h0M161.9 218.9h0M185.3 183.5h0M202.2 190.2h0M222.4 197.0h0M225.7 194.5h0M192.1 190.2h0M188.7 197.0h0M182.0 190.2h0M220.2 204.9h0M227.4 212.1h0M226.1 172.1h0M237.5 190.6h0M218.8 204.4h0M217.3 194.3h0M208.7 202.0h0M219.2 193.8h0M197.3 211.1h0M159.7 173.4h0" stroke="#f4e8c5"/><path d="M73.9 127.1h0M209.7 127.1h0M59.3 237.4h0M96.3 242.4h0" stroke="#bbe5df"/><path d="M150.2 210.4h0M150.2 229.0h0M180.6 211.8h0M188.7 212.5h0M191.7 213.0h0M194.1 212.1h0M198.8 212.5h0M178.6 177.1h0M182.0 180.1h0M188.7 186.9h0M192.1 180.1h0M205.5 193.6h0M208.9 197.0h0M212.8 191.1h0M215.6 197.0h0M198.8 200.3h0M212.3 200.3h0M201.7 200.7h0M205.5 184.4h0M208.9 186.9h0M215.6 212.1h0M225.7 203.7h0M281.4 274.4h0M220.8 247.5h0M185.7 178.6h0M192.9 176.4h0M190.4 185.0h0M181.3 180.8h0M203.3 189.1h0M184.8 206.2h0" stroke="#f2e1b7"/><path d="M107.6 159.6h0M203.8 120.4h0M207.2 123.8h0M214.8 125.5h0M219.0 131.3h0M103.9 257.6h0" stroke="#abded7"/><path d="M239.4 271.0h0M204.5 197.6h0" stroke="#edd9a7"/><path d="M138.4 198.7h0M212.6 123.4h0" stroke="#9bd8ce"/><path d="M114.6 158.3h0" stroke="#8bd1c6"/><path d="M337.0 202.0h0M296.6 247.5h0" stroke="#e2c888"/><path d="M330.2 235.7h0" stroke="#ddbd77"/><path d="M199.8 188.6h0" stroke="#e8d097"/><path d="M173.7 197.0h0M219.2 198.7h0M192.2 201.2h0M197.3 200.3h0M214.1 198.7h0M185.5 194.5h0M232.5 205.4h0M237.7 207.1h0M320.0 193.6h0M301.6 255.9h0M314.9 202.7h0M325.5 204.7h0M321.8 213.8h0M318.5 225.6h0" stroke="#e2c888"/><path d="M138.4 174.3h0M207.5 144.0h0M209.2 145.6h0M210.9 146.5h0M212.3 144.8h0M210.6 151.5h0" stroke="#8bd1c6"/><path d="M204.0 212.1h0M204.0 200.3h0M298.1 195.0h0M317.4 201.7h0M336.1 220.5h0M284.8 212.1h0M285.5 220.5h0M281.3 230.6h0M271.3 250.8h0M289.8 266.0h0M274.7 247.5h0" stroke="#ddbd77"/><path d="M304.0 199.5h0M323.3 201.2h0M284.6 225.6h0M271.3 229.0h0" stroke="#d5ae65"/><path d="M230.1 174.3h0M244.4 180.1h0M309.9 200.7h0M331.7 203.7h0M316.6 205.4h0M306.5 216.3h0M308.2 213.8h0M199.8 231.5h0" stroke="#cea053"/><path d="M209.1 199.5h0M224.2 215.5h0M229.3 220.5h0M299.8 214.6h0M303.1 216.3h0M309.0 216.8h0M313.2 214.6h0M305.7 215.3h0M301.3 216.3h0M234.3 223.9h0M241.0 227.3h0" stroke="#c79141"/><path d="M246.1 229.0h0M244.4 206.2h0M259.5 187.7h0M264.6 192.8h0M269.6 197.0h0M287.3 188.6h0M256.2 235.7h0M287.1 188.0h0M287.0 188.1h0" stroke="#c0832f"/><path d="M211.6 175.1h0M267.1 242.4h0M284.8 257.6h0M304.0 240.7h0M306.5 240.7h0" stroke="#b57726"/></g><g class="s0"><circle cx="173.7" cy="197.0" r="6.5"/><circle cx="204.0" cy="212.1" r="6.5"/><circle cx="199.8" cy="188.6" r="6.5"/><circle cx="219.2" cy="198.7" r="6.5"/><circle cx="204.0" cy="200.3" r="6.5"/><circle cx="192.2" cy="201.2" r="6.5"/><circle cx="197.3" cy="200.3" r="6.5"/><circle cx="209.1" cy="199.5" r="6.5"/><circle cx="214.1" cy="198.7" r="6.5"/><circle cx="185.5" cy="194.5" r="6.5"/><circle cx="224.2" cy="215.5" r="6.5"/><circle cx="229.3" cy="220.5" r="6.5"/><circle cx="232.5" cy="205.4" r="6.5"/><circle cx="237.7" cy="207.1" r="6.5"/><circle cx="246.1" cy="229.0" r="6.5"/><circle cx="211.6" cy="175.1" r="6.5"/><circle cx="230.1" cy="174.3" r="6.5"/><circle cx="244.4" cy="180.1" r="6.5"/><circle cx="244.4" cy="206.2" r="6.5"/><circle cx="259.5" cy="187.7" r="6.5"/><circle cx="264.6" cy="192.8" r="6.5"/><circle cx="269.6" cy="197.0" r="6.5"/><circle cx="287.3" cy="188.6" r="6.5"/><circle cx="298.1" cy="195.0" r="6.5"/><circle cx="304.0" cy="199.5" r="6.5"/><circle cx="309.9" cy="200.7" r="6.5"/><circle cx="317.4" cy="201.7" r="6.5"/><circle cx="323.3" cy="201.2" r="6.5"/><circle cx="331.7" cy="203.7" r="6.5"/><circle cx="316.6" cy="205.4" r="6.5"/><circle cx="320.0" cy="193.6" r="6.5"/><circle cx="299.8" cy="214.6" r="6.5"/><circle cx="303.1" cy="216.3" r="6.5"/><circle cx="306.5" cy="216.3" r="6.5"/><circle cx="309.0" cy="216.8" r="6.5"/><circle cx="313.2" cy="214.6" r="6.5"/><circle cx="336.1" cy="220.5" r="6.5"/><circle cx="308.2" cy="213.8" r="6.5"/><circle cx="284.8" cy="212.1" r="6.5"/><circle cx="285.5" cy="220.5" r="6.5"/><circle cx="284.6" cy="225.6" r="6.5"/><circle cx="281.3" cy="230.6" r="6.5"/><circle cx="271.3" cy="229.0" r="6.5"/><circle cx="256.2" cy="235.7" r="6.5"/><circle cx="267.1" cy="242.4" r="6.5"/><circle cx="271.3" cy="250.8" r="6.5"/><circle cx="284.8" cy="257.6" r="6.5"/><circle cx="289.8" cy="266.0" r="6.5"/><circle cx="301.6" cy="255.9" r="6.5"/><circle cx="304.0" cy="240.7" r="6.5"/><circle cx="306.5" cy="240.7" r="6.5"/><circle cx="274.7" cy="247.5" r="6.5"/><circle cx="199.8" cy="231.5" r="6.5"/><circle cx="138.4" cy="174.3" r="6.5"/><circle cx="314.9" cy="202.7" r="6.5"/><circle cx="325.5" cy="204.7" r="6.5"/><circle cx="305.7" cy="215.3" r="6.5"/><circle cx="301.3" cy="216.3" r="6.5"/><circle cx="207.5" cy="144.0" r="6.5"/><circle cx="209.2" cy="145.6" r="6.5"/><circle cx="210.9" cy="146.5" r="6.5"/><circle cx="212.3" cy="144.8" r="6.5"/><circle cx="210.6" cy="151.5" r="6.5"/><circle cx="234.3" cy="223.9" r="6.5"/><circle cx="241.0" cy="227.3" r="6.5"/><circle cx="321.8" cy="213.8" r="6.5"/><circle cx="318.5" cy="225.6" r="6.5"/><circle cx="287.1" cy="188.0" r="6.5"/><circle cx="287.0" cy="188.1" r="6.5"/></g>
</g>
<text x="1477.8" y="100.2" font-size="43" font-weight="bold" fill="#000">j)</text>
<rect x="1453.0" y="54.0" width="410.60" height="319.80" fill="none" stroke="#333" stroke-width="3.9" stroke-linejoin="round"/>
<path d="M1471.30 375.7v6M1554.46 375.7v6M1637.63 375.7v6M1720.80 375.7v6M1803.97 375.7v6M1451.1 318.01h-6M1451.1 234.88h-6M1451.1 151.74h-6M1451.1 68.60h-6" stroke="#333" stroke-width="3.9" fill="none"/>
<g transform="translate(179.5 388.7) scale(1.00000 0.99500)" clip-path="url(#cp)">
<use href="#bg"/>
<g fill="none" stroke-linecap="round" stroke-width="17.6"><path d="M320.8 217.5h0M335.1 220.5h0M316.6 223.1h0M283.8 222.2h0M286.3 225.6h0M281.3 230.6h0M279.6 228.1h0M289.7 230.6h0M292.2 230.6h0M267.0 241.6h0M220.3 247.0h0" stroke="#dee9d4"/><path d="M244.6 229.0h0M247.6 229.8h0M225.7 227.3h0M321.6 207.1h0M338.5 203.7h0M303.1 216.3h0M306.5 216.3h0M309.0 216.8h0M313.2 214.6h0M308.2 213.8h0M286.3 217.2h0M270.8 228.1h0M256.9 235.7h0M103.7 257.6h0M199.6 239.0h0M326.2 204.5h0M301.3 216.3h0M282.4 214.6h0M284.8 216.3h0M281.8 219.7h0M337.5 204.4h0M303.0 218.0h0M284.1 227.8h0M244.7 228.1h0" stroke="#d4e9dc"/><path d="M328.4 233.2h0M307.3 240.7h0M268.5 243.4h0M273.7 247.5h0" stroke="#e9e9cc"/><path d="M227.4 225.6h0M230.8 222.6h0M237.5 225.6h0M244.2 205.4h0M304.0 199.5h0M326.7 203.7h0M331.7 203.7h0M316.6 205.4h0M333.4 200.3h0M299.8 214.6h0M320.0 210.4h0M284.6 210.4h0M104.5 246.6h0M122.2 246.6h0M199.6 229.8h0M314.9 202.7h0M325.5 204.7h0M305.7 215.3h0M314.7 198.3h0" stroke="#c9eae3"/><path d="M269.5 247.5h0M271.2 250.0h0M273.7 254.2h0M275.4 257.6h0M284.6 255.9h0M304.0 240.4h0M299.8 242.4h0M272.8 247.5h0M278.7 253.4h0M272.3 251.3h0" stroke="#f4e8c5"/><path d="M301.5 197.0h0M306.5 199.0h0M309.9 200.7h0M314.9 199.0h0M317.4 201.7h0M320.0 196.5h0M323.3 201.2h0M320.0 193.6h0M72.6 253.9h0M81.0 247.5h0M97.8 243.3h0M107.9 242.4h0M322.8 196.5h0M311.2 199.7h0" stroke="#bbe5df"/><path d="M277.9 262.6h0M286.3 258.4h0M277.0 266.0h0M298.1 253.4h0M303.1 254.2h0M239.2 270.2h0" stroke="#f2e1b7"/><path d="M282.9 265.1h0" stroke="#edd9a7"/><path d="M52.4 238.2h0M80.1 240.4h0M84.4 238.7h0M87.7 239.0h0M90.2 238.2h0M95.3 238.2h0M119.7 234.8h0M83.0 241.1h0" stroke="#abded7"/><path d="M282.9 274.4h0" stroke="#e8d097"/><path d="M228.9 217.7h0" stroke="#c9eae3"/><path d="M215.6 212.1h0M220.7 212.1h0M222.4 218.9h0M224.0 216.3h0M227.4 212.1h0M230.8 207.1h0M271.2 197.0h0M298.1 195.0h0" stroke="#bbe5df"/><path d="M161.8 217.5h0M143.6 223.4h0M150.0 228.4h0M188.7 212.5h0M191.7 213.0h0M198.8 212.5h0M204.7 212.1h0M220.7 200.3h0M220.2 204.9h0M235.8 205.4h0M225.7 203.7h0M267.0 193.9h0M286.6 187.7h0M288.0 188.6h0M290.5 188.9h0M59.4 236.5h0M215.1 209.1h0M197.3 211.1h0M267.0 196.5h0M271.3 196.1h0" stroke="#abded7"/><path d="M155.0 205.4h0M153.4 213.8h0M173.5 211.3h0M180.6 211.8h0M194.1 212.1h0M215.6 197.0h0M219.0 200.3h0M222.4 197.0h0M225.7 194.5h0M202.2 201.2h0M188.7 197.0h0M212.3 200.3h0M215.6 199.5h0M201.7 200.7h0M237.5 190.6h0M258.5 186.0h0M263.6 191.1h0M187.9 198.7h0M218.8 204.4h0M208.7 202.0h0M204.5 197.6h0M184.8 206.2h0" stroke="#9bd8ce"/><path d="M289.7 263.5h0" stroke="#e8d097"/><path d="M151.7 210.4h0M158.7 203.7h0M175.2 197.8h0M188.7 186.9h0M202.2 190.2h0M205.5 193.6h0M208.9 197.0h0M212.8 191.1h0M192.1 190.2h0M195.4 197.0h0M198.8 200.3h0M192.1 201.2h0M197.1 199.5h0M207.2 199.5h0M205.5 184.4h0M182.0 190.2h0M208.9 186.9h0M192.9 202.0h0M244.2 179.6h0M217.3 194.3h0M219.2 193.8h0M259.4 187.4h0" stroke="#8bd1c6"/><path d="M140.2 199.5h0M170.2 187.7h0M173.9 191.1h0M182.0 180.1h0M185.3 183.5h0M195.4 183.5h0M198.8 186.9h0M185.3 195.3h0M211.4 174.3h0M230.3 173.4h0M190.4 185.0h0M181.3 180.8h0M203.3 189.1h0M146.1 200.2h0" stroke="#7ac9bd"/><path d="M148.8 182.2h0M138.2 184.4h0M141.6 181.0h0M153.7 175.4h0M142.4 191.1h0M152.5 192.3h0M146.6 195.3h0M151.7 187.7h0M178.6 177.1h0M192.1 180.1h0M226.1 172.1h0M258.0 152.9h0M185.7 178.6h0M192.9 176.4h0M144.4 186.2h0M141.7 191.6h0M150.5 181.7h0" stroke="#6abdb2"/><path d="M116.7 178.5h0M129.8 173.8h0M132.0 174.3h0M134.0 174.8h0M136.2 175.1h0M138.2 174.4h0M140.2 176.4h0M142.4 177.1h0M144.9 176.8h0M147.0 176.8h0M161.8 170.0h0M165.1 170.0h0M172.2 170.9h0M176.1 171.2h0M166.8 173.4h0M219.0 153.2h0M222.4 155.7h0M138.4 174.4h0M145.1 176.9h0M137.7 177.3h0M132.5 175.6h0M144.4 176.1h0M159.7 173.4h0M152.2 169.2h0M159.7 175.4h0" stroke="#59b1a7"/><path d="M112.6 170.4h0M157.9 167.5h0M155.9 172.6h0M168.8 168.7h0M191.7 150.7h0M208.9 148.2h0M212.3 149.9h0M215.6 147.3h0M224.0 152.4h0M210.6 144.8h0M213.9 151.5h0M236.7 144.8h0M247.6 141.4h0M251.0 140.6h0M253.5 144.0h0M256.0 143.1h0M209.2 152.9h0M134.3 176.1h0M143.1 176.3h0M153.2 167.9h0M109.8 171.1h0M206.4 146.7h0M207.7 150.0h0" stroke="#48a49c"/><path d="M75.9 172.6h0M82.3 170.9h0M89.4 168.4h0M93.6 171.7h0M101.2 166.7h0M102.9 170.4h0M104.5 161.6h0M109.9 168.4h0M202.2 145.6h0M205.5 146.5h0M102.5 171.4h0M208.7 149.0h0M216.0 147.0h0" stroke="#379890"/><path d="M73.9 159.1h0M79.3 165.0h0M97.8 158.6h0M99.5 163.3h0M107.6 159.6h0M114.6 158.3h0M207.2 123.8h0M209.7 127.1h0M211.9 130.5h0M214.8 125.5h0M219.0 131.3h0M89.9 164.2h0M212.6 123.4h0M226.2 126.0h0" stroke="#2b8d85"/><path d="M203.8 120.4h0M217.3 122.9h0M220.3 112.8h0M225.7 126.3h0M219.8 119.6h0" stroke="#1f827a"/><path d="M224.0 117.9h0" stroke="#13776f"/><path d="M57.4 126.3h0M73.9 127.1h0" stroke="#016259"/><path d="M65.3 109.5h0" stroke="#004f45"/></g><g class="s1"><circle cx="65.3" cy="109.5" r="7.7"/><circle cx="57.4" cy="126.3" r="7.7"/><circle cx="73.9" cy="127.1" r="7.7"/><circle cx="73.9" cy="159.1" r="7.7"/><circle cx="79.3" cy="165.0" r="7.7"/><circle cx="75.9" cy="172.6" r="7.7"/><circle cx="82.3" cy="170.9" r="7.7"/><circle cx="89.4" cy="168.4" r="7.7"/><circle cx="93.6" cy="171.7" r="7.7"/><circle cx="97.8" cy="158.6" r="7.7"/><circle cx="99.5" cy="163.3" r="7.7"/><circle cx="101.2" cy="166.7" r="7.7"/><circle cx="102.9" cy="170.4" r="7.7"/><circle cx="104.5" cy="161.6" r="7.7"/><circle cx="107.6" cy="159.6" r="7.7"/><circle cx="109.9" cy="168.4" r="7.7"/><circle cx="114.6" cy="158.3" r="7.7"/><circle cx="112.6" cy="170.4" r="7.7"/><circle cx="116.7" cy="178.5" r="7.7"/><circle cx="129.8" cy="173.8" r="7.7"/><circle cx="132.0" cy="174.3" r="7.7"/><circle cx="134.0" cy="174.8" r="7.7"/><circle cx="136.2" cy="175.1" r="7.7"/><circle cx="138.2" cy="174.4" r="7.7"/><circle cx="140.2" cy="176.4" r="7.7"/><circle cx="142.4" cy="177.1" r="7.7"/><circle cx="144.9" cy="176.8" r="7.7"/><circle cx="147.0" cy="176.8" r="7.7"/><circle cx="148.8" cy="182.2" r="7.7"/><circle cx="138.2" cy="184.4" r="7.7"/><circle cx="141.6" cy="181.0" r="7.7"/><circle cx="153.7" cy="175.4" r="7.7"/><circle cx="157.9" cy="167.5" r="7.7"/><circle cx="155.9" cy="172.6" r="7.7"/><circle cx="161.8" cy="170.0" r="7.7"/><circle cx="165.1" cy="170.0" r="7.7"/><circle cx="168.8" cy="168.7" r="7.7"/><circle cx="172.2" cy="170.9" r="7.7"/><circle cx="176.1" cy="171.2" r="7.7"/><circle cx="166.8" cy="173.4" r="7.7"/><circle cx="142.4" cy="191.1" r="7.7"/><circle cx="152.5" cy="192.3" r="7.7"/><circle cx="140.2" cy="199.5" r="7.7"/><circle cx="146.6" cy="195.3" r="7.7"/><circle cx="151.7" cy="187.7" r="7.7"/><circle cx="155.0" cy="205.4" r="7.7"/><circle cx="151.7" cy="210.4" r="7.7"/><circle cx="158.7" cy="203.7" r="7.7"/><circle cx="161.8" cy="217.5" r="7.7"/><circle cx="143.6" cy="223.4" r="7.7"/><circle cx="150.0" cy="228.4" r="7.7"/><circle cx="153.4" cy="213.8" r="7.7"/><circle cx="170.2" cy="187.7" r="7.7"/><circle cx="173.9" cy="191.1" r="7.7"/><circle cx="175.2" cy="197.8" r="7.7"/><circle cx="173.5" cy="211.3" r="7.7"/><circle cx="180.6" cy="211.8" r="7.7"/><circle cx="188.7" cy="212.5" r="7.7"/><circle cx="191.7" cy="213.0" r="7.7"/><circle cx="194.1" cy="212.1" r="7.7"/><circle cx="198.8" cy="212.5" r="7.7"/><circle cx="204.7" cy="212.1" r="7.7"/><circle cx="178.6" cy="177.1" r="7.7"/><circle cx="182.0" cy="180.1" r="7.7"/><circle cx="185.3" cy="183.5" r="7.7"/><circle cx="188.7" cy="186.9" r="7.7"/><circle cx="192.1" cy="180.1" r="7.7"/><circle cx="195.4" cy="183.5" r="7.7"/><circle cx="198.8" cy="186.9" r="7.7"/><circle cx="202.2" cy="190.2" r="7.7"/><circle cx="205.5" cy="193.6" r="7.7"/><circle cx="208.9" cy="197.0" r="7.7"/><circle cx="212.8" cy="191.1" r="7.7"/><circle cx="215.6" cy="197.0" r="7.7"/><circle cx="219.0" cy="200.3" r="7.7"/><circle cx="222.4" cy="197.0" r="7.7"/><circle cx="225.7" cy="194.5" r="7.7"/><circle cx="192.1" cy="190.2" r="7.7"/><circle cx="195.4" cy="197.0" r="7.7"/><circle cx="198.8" cy="200.3" r="7.7"/><circle cx="202.2" cy="201.2" r="7.7"/><circle cx="188.7" cy="197.0" r="7.7"/><circle cx="192.1" cy="201.2" r="7.7"/><circle cx="197.1" cy="199.5" r="7.7"/><circle cx="207.2" cy="199.5" r="7.7"/><circle cx="212.3" cy="200.3" r="7.7"/><circle cx="215.6" cy="199.5" r="7.7"/><circle cx="220.7" cy="200.3" r="7.7"/><circle cx="201.7" cy="200.7" r="7.7"/><circle cx="205.5" cy="184.4" r="7.7"/><circle cx="182.0" cy="190.2" r="7.7"/><circle cx="185.3" cy="195.3" r="7.7"/><circle cx="208.9" cy="186.9" r="7.7"/><circle cx="220.2" cy="204.9" r="7.7"/><circle cx="192.9" cy="202.0" r="7.7"/><circle cx="215.6" cy="212.1" r="7.7"/><circle cx="220.7" cy="212.1" r="7.7"/><circle cx="222.4" cy="218.9" r="7.7"/><circle cx="224.0" cy="216.3" r="7.7"/><circle cx="227.4" cy="212.1" r="7.7"/><circle cx="230.8" cy="207.1" r="7.7"/><circle cx="235.8" cy="205.4" r="7.7"/><circle cx="225.7" cy="203.7" r="7.7"/><circle cx="211.4" cy="174.3" r="7.7"/><circle cx="226.1" cy="172.1" r="7.7"/><circle cx="230.3" cy="173.4" r="7.7"/><circle cx="244.2" cy="179.6" r="7.7"/><circle cx="237.5" cy="190.6" r="7.7"/><circle cx="258.5" cy="186.0" r="7.7"/><circle cx="263.6" cy="191.1" r="7.7"/><circle cx="267.0" cy="193.9" r="7.7"/><circle cx="271.2" cy="197.0" r="7.7"/><circle cx="286.6" cy="187.7" r="7.7"/><circle cx="288.0" cy="188.6" r="7.7"/><circle cx="290.5" cy="188.9" r="7.7"/><circle cx="298.1" cy="195.0" r="7.7"/><circle cx="289.7" cy="263.5" r="7.7"/><circle cx="191.7" cy="150.7" r="7.7"/><circle cx="203.8" cy="120.4" r="7.7"/><circle cx="207.2" cy="123.8" r="7.7"/><circle cx="209.7" cy="127.1" r="7.7"/><circle cx="211.9" cy="130.5" r="7.7"/><circle cx="214.8" cy="125.5" r="7.7"/><circle cx="217.3" cy="122.9" r="7.7"/><circle cx="220.3" cy="112.8" r="7.7"/><circle cx="224.0" cy="117.9" r="7.7"/><circle cx="225.7" cy="126.3" r="7.7"/><circle cx="219.8" cy="119.6" r="7.7"/><circle cx="219.0" cy="131.3" r="7.7"/><circle cx="202.2" cy="145.6" r="7.7"/><circle cx="205.5" cy="146.5" r="7.7"/><circle cx="208.9" cy="148.2" r="7.7"/><circle cx="212.3" cy="149.9" r="7.7"/><circle cx="215.6" cy="147.3" r="7.7"/><circle cx="219.0" cy="153.2" r="7.7"/><circle cx="222.4" cy="155.7" r="7.7"/><circle cx="224.0" cy="152.4" r="7.7"/><circle cx="210.6" cy="144.8" r="7.7"/><circle cx="213.9" cy="151.5" r="7.7"/><circle cx="236.7" cy="144.8" r="7.7"/><circle cx="247.6" cy="141.4" r="7.7"/><circle cx="251.0" cy="140.6" r="7.7"/><circle cx="253.5" cy="144.0" r="7.7"/><circle cx="256.0" cy="143.1" r="7.7"/><circle cx="258.0" cy="152.9" r="7.7"/><circle cx="209.2" cy="152.9" r="7.7"/><circle cx="59.4" cy="236.5" r="7.7"/><circle cx="185.7" cy="178.6" r="7.7"/><circle cx="192.9" cy="176.4" r="7.7"/><circle cx="190.4" cy="185.0" r="7.7"/><circle cx="187.9" cy="198.7" r="7.7"/><circle cx="181.3" cy="180.8" r="7.7"/><circle cx="218.8" cy="204.4" r="7.7"/><circle cx="217.3" cy="194.3" r="7.7"/><circle cx="203.3" cy="189.1" r="7.7"/><circle cx="208.7" cy="202.0" r="7.7"/><circle cx="204.5" cy="197.6" r="7.7"/><circle cx="219.2" cy="193.8" r="7.7"/><circle cx="184.8" cy="206.2" r="7.7"/><circle cx="215.1" cy="209.1" r="7.7"/><circle cx="197.3" cy="211.1" r="7.7"/><circle cx="138.4" cy="174.4" r="7.7"/><circle cx="145.1" cy="176.9" r="7.7"/><circle cx="134.3" cy="176.1" r="7.7"/><circle cx="137.7" cy="177.3" r="7.7"/><circle cx="132.5" cy="175.6" r="7.7"/><circle cx="144.4" cy="176.1" r="7.7"/><circle cx="143.1" cy="176.3" r="7.7"/><circle cx="144.4" cy="186.2" r="7.7"/><circle cx="141.7" cy="191.6" r="7.7"/><circle cx="146.1" cy="200.2" r="7.7"/><circle cx="150.5" cy="181.7" r="7.7"/><circle cx="159.7" cy="173.4" r="7.7"/><circle cx="153.2" cy="167.9" r="7.7"/><circle cx="152.2" cy="169.2" r="7.7"/><circle cx="159.7" cy="175.4" r="7.7"/><circle cx="89.9" cy="164.2" r="7.7"/><circle cx="102.5" cy="171.4" r="7.7"/><circle cx="109.8" cy="171.1" r="7.7"/><circle cx="208.7" cy="149.0" r="7.7"/><circle cx="206.4" cy="146.7" r="7.7"/><circle cx="207.7" cy="150.0" r="7.7"/><circle cx="216.0" cy="147.0" r="7.7"/><circle cx="212.6" cy="123.4" r="7.7"/><circle cx="226.2" cy="126.0" r="7.7"/><circle cx="228.9" cy="217.7" r="7.7"/><circle cx="259.4" cy="187.4" r="7.7"/><circle cx="267.0" cy="196.5" r="7.7"/><circle cx="271.3" cy="196.1" r="7.7"/></g>
</g>
<text x="201.1" y="434.9" font-size="43" font-weight="bold" fill="#000">b)</text>
<rect x="179.5" y="388.7" width="410.50" height="318.20" fill="none" stroke="#333" stroke-width="3.9" stroke-linejoin="round"/>
<path d="M197.79 708.8v7.5M280.94 708.8v7.5M364.09 708.8v7.5M447.24 708.8v7.5M530.38 708.8v7.5M177.6 651.39h-7.5M177.6 568.67h-7.5M177.6 485.95h-7.5M177.6 403.23h-7.5" stroke="#333" stroke-width="3.9" fill="none"/>
<text x="167.7" y="663.4" font-size="34" fill="#4d4d4d" text-anchor="end">40</text>
<text x="167.7" y="580.7" font-size="34" fill="#4d4d4d" text-anchor="end">50</text>
<text x="167.7" y="497.9" font-size="34" fill="#4d4d4d" text-anchor="end">60</text>
<text x="167.7" y="415.2" font-size="34" fill="#4d4d4d" text-anchor="end">70</text>
<text transform="translate(116.5 565.3) rotate(-90)" font-size="29" text-anchor="middle" fill="#000">Latitude (ºN)</text>
<g transform="translate(603.6 388.7) scale(0.99976 0.99500)" clip-path="url(#cp)">
<use href="#bg"/>
<g fill="none" stroke-linecap="round" stroke-width="17.6"><path d="M320.8 217.5h0M316.6 223.1h0M281.3 230.6h0M279.6 228.1h0M270.8 228.1h0M289.7 230.6h0M256.9 235.7h0M220.3 247.0h0M284.1 227.8h0" stroke="#dee9d4"/><path d="M237.5 225.6h0M244.6 229.0h0M247.6 229.8h0M333.4 200.3h0M338.5 203.7h0M299.8 214.6h0M303.1 216.3h0M306.5 216.3h0M309.0 216.8h0M313.2 214.6h0M320.0 210.4h0M308.2 213.8h0M283.8 222.2h0M286.3 225.6h0M325.5 204.7h0M305.7 215.3h0M301.3 216.3h0M281.8 219.7h0M303.0 218.0h0" stroke="#e9e9cc"/><path d="M335.1 220.5h0M292.2 230.6h0" stroke="#d4e9dc"/><path d="M227.4 225.6h0M230.8 222.6h0M225.7 227.3h0M304.0 199.5h0M306.5 199.0h0M309.9 200.7h0M317.4 201.7h0M323.3 201.2h0M326.7 203.7h0M331.7 203.7h0M321.6 207.1h0M316.6 205.4h0M286.3 217.2h0M103.7 257.6h0M314.9 202.7h0M326.2 204.5h0M282.4 214.6h0M284.8 216.3h0M314.7 198.3h0M322.8 196.5h0M337.5 204.4h0M311.2 199.7h0M244.7 228.1h0" stroke="#f4e8c5"/><path d="M328.4 233.2h0M304.0 240.4h0M307.3 240.7h0M299.8 242.4h0M268.5 243.4h0" stroke="#c9eae3"/><path d="M301.5 197.0h0M314.9 199.0h0M320.0 193.6h0M72.6 253.9h0M122.2 246.6h0M199.6 229.8h0" stroke="#f2e1b7"/><path d="M275.4 257.6h0M284.6 255.9h0M290.5 265.1h0M282.9 265.1h0M298.1 253.4h0M303.1 254.2h0M273.7 247.5h0M272.3 251.3h0" stroke="#bbe5df"/><path d="M267.0 241.6h0M269.5 247.5h0M271.2 250.0h0M273.7 254.2h0M277.9 262.6h0M286.3 258.4h0M277.0 266.0h0M282.9 274.4h0M272.8 247.5h0M239.2 270.2h0M278.7 253.4h0" stroke="#abded7"/><path d="M222.4 218.9h0M228.9 217.7h0" stroke="#f4e8c5"/><path d="M204.7 212.1h0M220.7 212.1h0M224.0 216.3h0M227.4 212.1h0M81.0 247.5h0M97.8 243.3h0M104.5 246.6h0M199.6 237.4h0" stroke="#f2e1b7"/><path d="M143.6 223.4h0M150.0 228.4h0M180.6 211.8h0M191.7 213.0h0M198.8 212.5h0M220.7 200.3h0M215.6 212.1h0M230.8 207.1h0M235.8 205.4h0M225.7 203.7h0M244.2 205.4h0M263.6 191.1h0M267.0 193.9h0M271.2 197.0h0M286.6 187.7h0M290.5 188.9h0M298.1 195.0h0M320.0 195.3h0M284.6 210.4h0M80.1 240.4h0M84.4 238.7h0M90.2 238.2h0M95.3 238.2h0M107.9 242.4h0M119.7 234.8h0M83.0 241.1h0M218.8 204.4h0M208.7 202.0h0M215.1 209.1h0M197.3 211.1h0M259.4 187.4h0M267.0 196.5h0M271.3 196.1h0" stroke="#edd9a7"/><path d="M161.8 217.5h0M153.4 213.8h0M173.5 211.3h0M188.7 212.5h0M194.1 212.1h0M208.9 197.0h0M212.8 191.1h0M215.6 197.0h0M219.0 200.3h0M222.4 197.0h0M225.7 194.5h0M198.8 200.3h0M202.2 201.2h0M188.7 197.0h0M197.1 199.5h0M212.3 200.3h0M215.6 199.5h0M201.7 200.7h0M220.2 204.9h0M258.5 186.0h0M288.0 188.6h0M52.4 238.2h0M59.4 237.0h0M87.7 239.0h0M217.3 194.3h0M204.5 197.6h0M184.8 206.2h0" stroke="#e8d097"/><path d="M155.0 205.4h0M151.7 210.4h0M158.7 203.7h0M175.2 197.8h0M202.2 190.2h0M205.5 193.6h0M192.1 190.2h0M195.4 197.0h0M192.1 201.2h0M207.2 199.5h0M205.5 184.4h0M185.3 195.3h0M192.9 202.0h0M244.2 179.6h0M237.5 190.6h0M187.9 198.7h0M203.3 189.1h0M219.2 193.8h0" stroke="#e2c888"/><path d="M142.4 191.1h0M152.5 192.3h0M140.2 199.5h0M146.6 195.3h0M170.2 187.7h0M173.9 191.1h0M182.0 180.1h0M185.3 183.5h0M188.7 186.9h0M198.8 186.9h0M182.0 190.2h0M208.9 186.9h0M211.4 174.3h0M230.3 173.4h0M190.4 185.0h0M141.7 191.6h0M146.1 200.2h0" stroke="#ddbd77"/><path d="M147.0 176.8h0M141.6 181.0h0M153.7 175.4h0M172.2 170.9h0M166.8 173.4h0M151.7 187.7h0M192.1 180.1h0M195.4 183.5h0M226.1 172.1h0M185.7 178.6h0M192.9 176.4h0M181.3 180.8h0M145.1 176.9h0M144.4 186.2h0M150.5 181.7h0M159.7 173.4h0" stroke="#d5ae65"/><path d="M129.8 173.8h0M132.0 174.3h0M136.2 175.1h0M140.2 176.4h0M142.4 177.1h0M148.8 182.2h0M138.2 184.4h0M155.9 172.6h0M161.8 170.0h0M165.1 170.0h0M176.1 171.2h0M178.6 177.1h0M219.0 153.2h0M222.4 155.7h0M253.5 144.0h0M258.0 152.9h0M138.4 174.4h0M134.3 176.1h0M137.7 177.3h0M132.5 175.6h0M159.7 175.4h0" stroke="#cea053"/><path d="M93.6 171.7h0M116.7 178.5h0M134.0 174.8h0M138.2 174.4h0M144.9 176.8h0M157.9 167.5h0M168.8 168.7h0M191.7 150.7h0M205.5 146.5h0M208.9 148.2h0M212.3 149.9h0M215.6 147.3h0M224.0 152.4h0M213.9 151.5h0M236.7 144.8h0M247.6 141.4h0M251.0 140.6h0M256.0 143.1h0M209.2 152.9h0M144.4 176.1h0M143.1 176.3h0M153.2 167.9h0M152.2 169.2h0M102.5 171.4h0M208.7 149.0h0M206.4 146.7h0M207.7 150.0h0" stroke="#c79141"/><path d="M79.3 165.0h0M75.9 172.6h0M89.4 168.4h0M99.5 163.3h0M102.9 170.4h0M109.9 168.4h0M112.6 170.4h0M219.0 131.3h0M202.2 145.6h0M210.6 144.8h0M109.8 171.1h0M216.0 147.0h0" stroke="#c0832f"/><path d="M73.9 159.1h0M82.3 170.9h0M97.8 158.6h0M101.2 166.7h0M104.5 161.6h0M107.6 159.6h0M114.6 158.3h0M211.9 130.5h0M214.8 125.5h0M225.7 126.3h0M89.9 164.2h0M212.6 123.4h0M226.2 126.0h0" stroke="#b57726"/><path d="M203.8 120.4h0M207.2 123.8h0M209.7 127.1h0M217.3 122.9h0M220.3 112.8h0M224.0 117.9h0M219.8 119.6h0" stroke="#a96d1e"/><path d="M57.4 126.3h0M73.9 127.1h0" stroke="#7a4608"/><path d="M65.3 109.5h0" stroke="#613706"/></g><g class="s1"><circle cx="65.3" cy="109.5" r="7.7"/><circle cx="57.4" cy="126.3" r="7.7"/><circle cx="73.9" cy="127.1" r="7.7"/><circle cx="73.9" cy="159.1" r="7.7"/><circle cx="79.3" cy="165.0" r="7.7"/><circle cx="75.9" cy="172.6" r="7.7"/><circle cx="82.3" cy="170.9" r="7.7"/><circle cx="89.4" cy="168.4" r="7.7"/><circle cx="93.6" cy="171.7" r="7.7"/><circle cx="97.8" cy="158.6" r="7.7"/><circle cx="99.5" cy="163.3" r="7.7"/><circle cx="101.2" cy="166.7" r="7.7"/><circle cx="102.9" cy="170.4" r="7.7"/><circle cx="104.5" cy="161.6" r="7.7"/><circle cx="107.6" cy="159.6" r="7.7"/><circle cx="109.9" cy="168.4" r="7.7"/><circle cx="114.6" cy="158.3" r="7.7"/><circle cx="112.6" cy="170.4" r="7.7"/><circle cx="116.7" cy="178.5" r="7.7"/><circle cx="129.8" cy="173.8" r="7.7"/><circle cx="132.0" cy="174.3" r="7.7"/><circle cx="134.0" cy="174.8" r="7.7"/><circle cx="136.2" cy="175.1" r="7.7"/><circle cx="138.2" cy="174.4" r="7.7"/><circle cx="140.2" cy="176.4" r="7.7"/><circle cx="142.4" cy="177.1" r="7.7"/><circle cx="144.9" cy="176.8" r="7.7"/><circle cx="147.0" cy="176.8" r="7.7"/><circle cx="148.8" cy="182.2" r="7.7"/><circle cx="138.2" cy="184.4" r="7.7"/><circle cx="141.6" cy="181.0" r="7.7"/><circle cx="153.7" cy="175.4" r="7.7"/><circle cx="157.9" cy="167.5" r="7.7"/><circle cx="155.9" cy="172.6" r="7.7"/><circle cx="161.8" cy="170.0" r="7.7"/><circle cx="165.1" cy="170.0" r="7.7"/><circle cx="168.8" cy="168.7" r="7.7"/><circle cx="172.2" cy="170.9" r="7.7"/><circle cx="176.1" cy="171.2" r="7.7"/><circle cx="166.8" cy="173.4" r="7.7"/><circle cx="142.4" cy="191.1" r="7.7"/><circle cx="152.5" cy="192.3" r="7.7"/><circle cx="140.2" cy="199.5" r="7.7"/><circle cx="146.6" cy="195.3" r="7.7"/><circle cx="151.7" cy="187.7" r="7.7"/><circle cx="155.0" cy="205.4" r="7.7"/><circle cx="151.7" cy="210.4" r="7.7"/><circle cx="158.7" cy="203.7" r="7.7"/><circle cx="161.8" cy="217.5" r="7.7"/><circle cx="143.6" cy="223.4" r="7.7"/><circle cx="150.0" cy="228.4" r="7.7"/><circle cx="153.4" cy="213.8" r="7.7"/><circle cx="170.2" cy="187.7" r="7.7"/><circle cx="173.9" cy="191.1" r="7.7"/><circle cx="175.2" cy="197.8" r="7.7"/><circle cx="173.5" cy="211.3" r="7.7"/><circle cx="180.6" cy="211.8" r="7.7"/><circle cx="188.7" cy="212.5" r="7.7"/><circle cx="191.7" cy="213.0" r="7.7"/><circle cx="194.1" cy="212.1" r="7.7"/><circle cx="198.8" cy="212.5" r="7.7"/><circle cx="204.7" cy="212.1" r="7.7"/><circle cx="178.6" cy="177.1" r="7.7"/><circle cx="182.0" cy="180.1" r="7.7"/><circle cx="185.3" cy="183.5" r="7.7"/><circle cx="188.7" cy="186.9" r="7.7"/><circle cx="192.1" cy="180.1" r="7.7"/><circle cx="195.4" cy="183.5" r="7.7"/><circle cx="198.8" cy="186.9" r="7.7"/><circle cx="202.2" cy="190.2" r="7.7"/><circle cx="205.5" cy="193.6" r="7.7"/><circle cx="208.9" cy="197.0" r="7.7"/><circle cx="212.8" cy="191.1" r="7.7"/><circle cx="215.6" cy="197.0" r="7.7"/><circle cx="219.0" cy="200.3" r="7.7"/><circle cx="222.4" cy="197.0" r="7.7"/><circle cx="225.7" cy="194.5" r="7.7"/><circle cx="192.1" cy="190.2" r="7.7"/><circle cx="195.4" cy="197.0" r="7.7"/><circle cx="198.8" cy="200.3" r="7.7"/><circle cx="202.2" cy="201.2" r="7.7"/><circle cx="188.7" cy="197.0" r="7.7"/><circle cx="192.1" cy="201.2" r="7.7"/><circle cx="197.1" cy="199.5" r="7.7"/><circle cx="207.2" cy="199.5" r="7.7"/><circle cx="212.3" cy="200.3" r="7.7"/><circle cx="215.6" cy="199.5" r="7.7"/><circle cx="220.7" cy="200.3" r="7.7"/><circle cx="201.7" cy="200.7" r="7.7"/><circle cx="205.5" cy="184.4" r="7.7"/><circle cx="182.0" cy="190.2" r="7.7"/><circle cx="185.3" cy="195.3" r="7.7"/><circle cx="208.9" cy="186.9" r="7.7"/><circle cx="220.2" cy="204.9" r="7.7"/><circle cx="192.9" cy="202.0" r="7.7"/><circle cx="215.6" cy="212.1" r="7.7"/><circle cx="220.7" cy="212.1" r="7.7"/><circle cx="222.4" cy="218.9" r="7.7"/><circle cx="224.0" cy="216.3" r="7.7"/><circle cx="227.4" cy="212.1" r="7.7"/><circle cx="230.8" cy="207.1" r="7.7"/><circle cx="235.8" cy="205.4" r="7.7"/><circle cx="225.7" cy="203.7" r="7.7"/><circle cx="211.4" cy="174.3" r="7.7"/><circle cx="226.1" cy="172.1" r="7.7"/><circle cx="230.3" cy="173.4" r="7.7"/><circle cx="244.2" cy="179.6" r="7.7"/><circle cx="237.5" cy="190.6" r="7.7"/><circle cx="244.2" cy="205.4" r="7.7"/><circle cx="258.5" cy="186.0" r="7.7"/><circle cx="263.6" cy="191.1" r="7.7"/><circle cx="267.0" cy="193.9" r="7.7"/><circle cx="271.2" cy="197.0" r="7.7"/><circle cx="286.6" cy="187.7" r="7.7"/><circle cx="288.0" cy="188.6" r="7.7"/><circle cx="290.5" cy="188.9" r="7.7"/><circle cx="298.1" cy="195.0" r="7.7"/><circle cx="320.0" cy="195.3" r="7.7"/><circle cx="284.6" cy="210.4" r="7.7"/><circle cx="191.7" cy="150.7" r="7.7"/><circle cx="203.8" cy="120.4" r="7.7"/><circle cx="207.2" cy="123.8" r="7.7"/><circle cx="209.7" cy="127.1" r="7.7"/><circle cx="211.9" cy="130.5" r="7.7"/><circle cx="214.8" cy="125.5" r="7.7"/><circle cx="217.3" cy="122.9" r="7.7"/><circle cx="220.3" cy="112.8" r="7.7"/><circle cx="224.0" cy="117.9" r="7.7"/><circle cx="225.7" cy="126.3" r="7.7"/><circle cx="219.8" cy="119.6" r="7.7"/><circle cx="219.0" cy="131.3" r="7.7"/><circle cx="202.2" cy="145.6" r="7.7"/><circle cx="205.5" cy="146.5" r="7.7"/><circle cx="208.9" cy="148.2" r="7.7"/><circle cx="212.3" cy="149.9" r="7.7"/><circle cx="215.6" cy="147.3" r="7.7"/><circle cx="219.0" cy="153.2" r="7.7"/><circle cx="222.4" cy="155.7" r="7.7"/><circle cx="224.0" cy="152.4" r="7.7"/><circle cx="210.6" cy="144.8" r="7.7"/><circle cx="213.9" cy="151.5" r="7.7"/><circle cx="236.7" cy="144.8" r="7.7"/><circle cx="247.6" cy="141.4" r="7.7"/><circle cx="251.0" cy="140.6" r="7.7"/><circle cx="253.5" cy="144.0" r="7.7"/><circle cx="256.0" cy="143.1" r="7.7"/><circle cx="258.0" cy="152.9" r="7.7"/><circle cx="209.2" cy="152.9" r="7.7"/><circle cx="52.4" cy="238.2" r="7.7"/><circle cx="59.4" cy="237.0" r="7.7"/><circle cx="80.1" cy="240.4" r="7.7"/><circle cx="84.4" cy="238.7" r="7.7"/><circle cx="87.7" cy="239.0" r="7.7"/><circle cx="90.2" cy="238.2" r="7.7"/><circle cx="95.3" cy="238.2" r="7.7"/><circle cx="81.0" cy="247.5" r="7.7"/><circle cx="97.8" cy="243.3" r="7.7"/><circle cx="104.5" cy="246.6" r="7.7"/><circle cx="107.9" cy="242.4" r="7.7"/><circle cx="119.7" cy="234.8" r="7.7"/><circle cx="83.0" cy="241.1" r="7.7"/><circle cx="199.6" cy="237.4" r="7.7"/><circle cx="185.7" cy="178.6" r="7.7"/><circle cx="192.9" cy="176.4" r="7.7"/><circle cx="190.4" cy="185.0" r="7.7"/><circle cx="187.9" cy="198.7" r="7.7"/><circle cx="181.3" cy="180.8" r="7.7"/><circle cx="218.8" cy="204.4" r="7.7"/><circle cx="217.3" cy="194.3" r="7.7"/><circle cx="203.3" cy="189.1" r="7.7"/><circle cx="208.7" cy="202.0" r="7.7"/><circle cx="204.5" cy="197.6" r="7.7"/><circle cx="219.2" cy="193.8" r="7.7"/><circle cx="184.8" cy="206.2" r="7.7"/><circle cx="215.1" cy="209.1" r="7.7"/><circle cx="197.3" cy="211.1" r="7.7"/><circle cx="138.4" cy="174.4" r="7.7"/><circle cx="145.1" cy="176.9" r="7.7"/><circle cx="134.3" cy="176.1" r="7.7"/><circle cx="137.7" cy="177.3" r="7.7"/><circle cx="132.5" cy="175.6" r="7.7"/><circle cx="144.4" cy="176.1" r="7.7"/><circle cx="143.1" cy="176.3" r="7.7"/><circle cx="144.4" cy="186.2" r="7.7"/><circle cx="141.7" cy="191.6" r="7.7"/><circle cx="146.1" cy="200.2" r="7.7"/><circle cx="150.5" cy="181.7" r="7.7"/><circle cx="159.7" cy="173.4" r="7.7"/><circle cx="153.2" cy="167.9" r="7.7"/><circle cx="152.2" cy="169.2" r="7.7"/><circle cx="159.7" cy="175.4" r="7.7"/><circle cx="89.9" cy="164.2" r="7.7"/><circle cx="102.5" cy="171.4" r="7.7"/><circle cx="109.8" cy="171.1" r="7.7"/><circle cx="208.7" cy="149.0" r="7.7"/><circle cx="206.4" cy="146.7" r="7.7"/><circle cx="207.7" cy="150.0" r="7.7"/><circle cx="216.0" cy="147.0" r="7.7"/><circle cx="212.6" cy="123.4" r="7.7"/><circle cx="226.2" cy="126.0" r="7.7"/><circle cx="228.9" cy="217.7" r="7.7"/><circle cx="259.4" cy="187.4" r="7.7"/><circle cx="267.0" cy="196.5" r="7.7"/><circle cx="271.3" cy="196.1" r="7.7"/></g>
</g>
<text x="625.2" y="434.9" font-size="43" font-weight="bold" fill="#000">e)</text>
<rect x="603.6" y="388.7" width="410.40" height="318.20" fill="none" stroke="#333" stroke-width="3.9" stroke-linejoin="round"/>
<path d="M621.89 708.8v7.5M705.02 708.8v7.5M788.14 708.8v7.5M871.27 708.8v7.5M954.40 708.8v7.5M601.7 651.39h-7.5M601.7 568.67h-7.5M601.7 485.95h-7.5M601.7 403.23h-7.5" stroke="#333" stroke-width="3.9" fill="none"/>
<g transform="translate(1027.4 388.7) scale(1.00024 0.99500)" clip-path="url(#cp)">
<use href="#bg"/>
<g fill="none" stroke-linecap="round" stroke-width="17.6"><path d="M140.2 199.5h0M158.7 203.7h0M143.6 223.4h0M192.1 180.1h0M198.8 186.9h0M185.3 195.3h0M202.2 145.6h0M59.4 237.0h0M87.7 239.0h0M81.0 247.5h0M103.7 257.6h0M83.0 241.1h0M216.0 147.0h0M237.5 197.0h0" stroke="#dee9d4"/><path d="M144.9 176.8h0M170.2 187.7h0M175.2 197.8h0M173.5 211.3h0M185.3 183.5h0M195.4 183.5h0M208.9 148.2h0M215.6 147.3h0M213.9 151.5h0M52.4 238.2h0M80.1 240.4h0M192.9 176.4h0M190.4 185.0h0M134.3 176.1h0M132.5 175.6h0M144.4 176.1h0M143.1 176.3h0M159.7 173.4h0M208.7 149.0h0M206.4 146.7h0M207.7 150.0h0" stroke="#e9e9cc"/><path d="M155.0 205.4h0M151.7 210.4h0M153.4 213.8h0M203.8 120.4h0M214.8 125.5h0M225.7 126.3h0M219.8 119.6h0M219.0 131.3h0M97.8 243.3h0M107.9 242.4h0M199.6 239.0h0M146.1 200.2h0" stroke="#d4e9dc"/><path d="M129.8 173.8h0M136.2 175.1h0M142.4 177.1h0M147.0 176.8h0M138.2 184.4h0M141.6 181.0h0M157.9 167.5h0M168.8 168.7h0M172.2 170.9h0M166.8 173.4h0M142.4 191.1h0M146.6 195.3h0M151.7 187.7h0M173.9 191.1h0M178.6 177.1h0M188.7 186.9h0M182.0 190.2h0M244.2 203.7h0M191.7 150.7h0M205.5 146.5h0M212.3 149.9h0M219.0 153.2h0M222.4 155.7h0M224.0 152.4h0M210.6 144.8h0M209.2 152.9h0M104.5 246.6h0M185.7 178.6h0M145.1 176.9h0M137.7 177.3h0M144.4 186.2h0M141.7 191.6h0M153.2 167.9h0" stroke="#f4e8c5"/><path d="M207.2 123.8h0M209.7 127.1h0M217.3 122.9h0M220.3 112.8h0M224.0 117.9h0M247.6 141.4h0M251.0 140.6h0M253.5 144.0h0M256.0 143.1h0M258.0 152.9h0M72.6 253.9h0M212.6 123.4h0M226.2 126.0h0" stroke="#c9eae3"/><path d="M138.2 174.4h0M140.2 176.4h0M148.8 182.2h0M153.7 175.4h0M155.9 172.6h0M165.1 170.0h0M176.1 171.2h0M152.5 192.3h0M182.0 180.1h0M181.3 180.8h0M138.4 174.4h0M150.5 181.7h0M152.2 169.2h0M159.7 175.4h0" stroke="#f2e1b7"/><path d="M331.7 203.7h0M333.4 200.3h0M338.5 203.7h0M328.4 233.2h0M211.9 130.5h0M236.7 144.8h0M337.5 204.4h0" stroke="#bbe5df"/><path d="M161.8 170.0h0" stroke="#edd9a7"/><path d="M335.1 220.5h0" stroke="#abded7"/><path d="M208.9 197.0h0M188.7 197.0h0M208.9 186.9h0M192.9 202.0h0M204.5 197.6h0" stroke="#9bd8ce"/><path d="M89.9 164.2h0" stroke="#e8d097"/><path d="M73.9 127.1h0M73.9 158.3h0M102.5 171.4h0M109.8 171.1h0" stroke="#e2c888"/><path d="M204.7 212.1h0M202.2 201.2h0M215.6 199.5h0M220.7 200.3h0M201.7 200.7h0M197.3 211.1h0" stroke="#8bd1c6"/><path d="M65.3 109.5h0" stroke="#ddbd77"/><path d="M219.0 200.3h0M222.4 218.9h0M227.4 225.6h0M230.8 222.6h0M230.8 207.1h0M247.6 229.8h0M237.5 190.6h0M217.3 194.3h0M244.7 228.1h0" stroke="#7ac9bd"/><path d="M57.4 126.3h0" stroke="#d5ae65"/><path d="M256.9 235.7h0M269.5 247.5h0" stroke="#59b1a7"/><path d="M306.5 199.0h0M321.6 207.1h0M299.8 214.6h0M303.1 216.3h0M313.2 214.6h0M320.0 210.4h0M305.7 215.3h0M278.7 253.4h0M303.0 218.0h0M273.7 247.5h0M272.3 251.3h0" stroke="#48a49c"/><path d="M320.0 196.5h0M323.3 201.2h0M326.7 203.7h0M320.8 217.5h0M308.2 213.8h0M286.3 258.4h0M282.9 265.1h0M325.5 204.7h0M322.8 196.5h0" stroke="#379890"/><path d="M205.5 184.4h0" stroke="#bbe5df"/><path d="M161.8 218.0h0M150.0 229.0h0M226.1 172.1h0" stroke="#abded7"/><path d="M104.5 161.6h0M114.6 158.3h0" stroke="#e8d097"/><path d="M191.7 213.0h0M195.4 197.0h0M198.8 200.3h0M192.1 201.2h0M197.1 199.5h0M207.2 199.5h0M211.4 174.3h0M230.3 173.4h0" stroke="#9bd8ce"/><path d="M79.3 165.0h0M75.9 172.6h0M82.3 170.9h0M89.4 168.4h0M93.6 171.7h0M97.8 158.6h0M99.5 163.3h0M107.6 159.6h0M109.9 168.4h0M112.6 170.4h0M116.7 178.5h0M131.5 173.4h0M134.0 174.3h0M84.4 237.4h0M90.2 237.4h0M96.1 237.4h0M120.5 235.7h0M122.7 244.9h0M131.0 173.0h0M131.9 173.9h0" stroke="#e2c888"/><path d="M188.7 212.5h0M194.1 212.1h0M198.8 212.5h0M202.2 190.2h0M205.5 193.6h0M212.8 191.1h0M215.6 197.0h0M225.7 194.5h0M192.1 190.2h0M212.3 200.3h0M227.4 212.1h0M199.6 229.8h0M187.9 198.7h0M203.3 189.1h0M208.7 202.0h0M184.8 206.2h0" stroke="#8bd1c6"/><path d="M101.2 166.7h0M102.9 170.4h0" stroke="#ddbd77"/><path d="M180.3 210.4h0M222.4 197.0h0M220.2 204.9h0M215.6 212.1h0M220.7 212.1h0M235.8 205.4h0M225.7 203.7h0M237.5 225.6h0M263.6 191.1h0M218.8 204.4h0M219.2 193.8h0M215.1 209.1h0" stroke="#7ac9bd"/><path d="M224.0 216.3h0M225.7 227.3h0M244.2 179.6h0M258.5 186.0h0M271.2 197.0h0M286.6 187.7h0M220.3 247.0h0M239.2 270.2h0M228.9 217.7h0M259.4 187.4h0M267.0 196.5h0" stroke="#6abdb2"/><path d="M244.6 229.0h0M267.0 193.9h0M288.0 188.6h0M290.5 188.9h0M298.1 195.0h0M301.5 197.0h0M304.0 199.5h0M314.9 199.0h0M284.6 210.4h0M286.3 217.2h0M283.8 222.2h0M279.6 228.1h0M270.8 228.1h0M271.2 250.0h0M281.8 219.7h0M284.1 227.8h0M271.3 196.1h0" stroke="#59b1a7"/><path d="M309.9 200.7h0M317.4 201.7h0M316.6 205.4h0M320.0 193.6h0M306.5 216.3h0M309.0 216.8h0M286.3 225.6h0M281.3 230.6h0M292.2 230.6h0M267.0 241.6h0M273.7 254.2h0M277.9 262.6h0M298.1 253.4h0M304.0 240.4h0M272.8 247.5h0M314.9 202.7h0M301.3 216.3h0M282.4 214.6h0M284.8 216.3h0M268.5 243.4h0M311.2 199.7h0" stroke="#48a49c"/><path d="M316.6 223.1h0M289.7 230.6h0M275.4 257.6h0M284.6 255.9h0M290.5 265.1h0M277.0 266.0h0M282.9 274.4h0M307.3 240.7h0M299.8 242.4h0M326.2 204.5h0M314.7 198.3h0" stroke="#379890"/><path d="M303.1 254.2h0" stroke="#2b8d85"/></g><g class="s1"><circle cx="79.3" cy="165.0" r="7.7"/><circle cx="75.9" cy="172.6" r="7.7"/><circle cx="82.3" cy="170.9" r="7.7"/><circle cx="89.4" cy="168.4" r="7.7"/><circle cx="93.6" cy="171.7" r="7.7"/><circle cx="97.8" cy="158.6" r="7.7"/><circle cx="99.5" cy="163.3" r="7.7"/><circle cx="101.2" cy="166.7" r="7.7"/><circle cx="102.9" cy="170.4" r="7.7"/><circle cx="104.5" cy="161.6" r="7.7"/><circle cx="107.6" cy="159.6" r="7.7"/><circle cx="109.9" cy="168.4" r="7.7"/><circle cx="114.6" cy="158.3" r="7.7"/><circle cx="112.6" cy="170.4" r="7.7"/><circle cx="116.7" cy="178.5" r="7.7"/><circle cx="131.5" cy="173.4" r="7.7"/><circle cx="134.0" cy="174.3" r="7.7"/><circle cx="161.8" cy="218.0" r="7.7"/><circle cx="150.0" cy="229.0" r="7.7"/><circle cx="180.3" cy="210.4" r="7.7"/><circle cx="188.7" cy="212.5" r="7.7"/><circle cx="191.7" cy="213.0" r="7.7"/><circle cx="194.1" cy="212.1" r="7.7"/><circle cx="198.8" cy="212.5" r="7.7"/><circle cx="202.2" cy="190.2" r="7.7"/><circle cx="205.5" cy="193.6" r="7.7"/><circle cx="212.8" cy="191.1" r="7.7"/><circle cx="215.6" cy="197.0" r="7.7"/><circle cx="222.4" cy="197.0" r="7.7"/><circle cx="225.7" cy="194.5" r="7.7"/><circle cx="192.1" cy="190.2" r="7.7"/><circle cx="195.4" cy="197.0" r="7.7"/><circle cx="198.8" cy="200.3" r="7.7"/><circle cx="192.1" cy="201.2" r="7.7"/><circle cx="197.1" cy="199.5" r="7.7"/><circle cx="207.2" cy="199.5" r="7.7"/><circle cx="212.3" cy="200.3" r="7.7"/><circle cx="205.5" cy="184.4" r="7.7"/><circle cx="220.2" cy="204.9" r="7.7"/><circle cx="215.6" cy="212.1" r="7.7"/><circle cx="220.7" cy="212.1" r="7.7"/><circle cx="224.0" cy="216.3" r="7.7"/><circle cx="227.4" cy="212.1" r="7.7"/><circle cx="235.8" cy="205.4" r="7.7"/><circle cx="225.7" cy="203.7" r="7.7"/><circle cx="237.5" cy="225.6" r="7.7"/><circle cx="244.6" cy="229.0" r="7.7"/><circle cx="225.7" cy="227.3" r="7.7"/><circle cx="211.4" cy="174.3" r="7.7"/><circle cx="226.1" cy="172.1" r="7.7"/><circle cx="230.3" cy="173.4" r="7.7"/><circle cx="244.2" cy="179.6" r="7.7"/><circle cx="258.5" cy="186.0" r="7.7"/><circle cx="263.6" cy="191.1" r="7.7"/><circle cx="267.0" cy="193.9" r="7.7"/><circle cx="271.2" cy="197.0" r="7.7"/><circle cx="286.6" cy="187.7" r="7.7"/><circle cx="288.0" cy="188.6" r="7.7"/><circle cx="290.5" cy="188.9" r="7.7"/><circle cx="298.1" cy="195.0" r="7.7"/><circle cx="301.5" cy="197.0" r="7.7"/><circle cx="304.0" cy="199.5" r="7.7"/><circle cx="309.9" cy="200.7" r="7.7"/><circle cx="314.9" cy="199.0" r="7.7"/><circle cx="317.4" cy="201.7" r="7.7"/><circle cx="316.6" cy="205.4" r="7.7"/><circle cx="320.0" cy="193.6" r="7.7"/><circle cx="306.5" cy="216.3" r="7.7"/><circle cx="309.0" cy="216.8" r="7.7"/><circle cx="316.6" cy="223.1" r="7.7"/><circle cx="284.6" cy="210.4" r="7.7"/><circle cx="286.3" cy="217.2" r="7.7"/><circle cx="283.8" cy="222.2" r="7.7"/><circle cx="286.3" cy="225.6" r="7.7"/><circle cx="281.3" cy="230.6" r="7.7"/><circle cx="279.6" cy="228.1" r="7.7"/><circle cx="270.8" cy="228.1" r="7.7"/><circle cx="289.7" cy="230.6" r="7.7"/><circle cx="292.2" cy="230.6" r="7.7"/><circle cx="267.0" cy="241.6" r="7.7"/><circle cx="271.2" cy="250.0" r="7.7"/><circle cx="273.7" cy="254.2" r="7.7"/><circle cx="275.4" cy="257.6" r="7.7"/><circle cx="277.9" cy="262.6" r="7.7"/><circle cx="284.6" cy="255.9" r="7.7"/><circle cx="290.5" cy="265.1" r="7.7"/><circle cx="277.0" cy="266.0" r="7.7"/><circle cx="282.9" cy="274.4" r="7.7"/><circle cx="298.1" cy="253.4" r="7.7"/><circle cx="303.1" cy="254.2" r="7.7"/><circle cx="304.0" cy="240.4" r="7.7"/><circle cx="307.3" cy="240.7" r="7.7"/><circle cx="299.8" cy="242.4" r="7.7"/><circle cx="272.8" cy="247.5" r="7.7"/><circle cx="84.4" cy="237.4" r="7.7"/><circle cx="90.2" cy="237.4" r="7.7"/><circle cx="96.1" cy="237.4" r="7.7"/><circle cx="120.5" cy="235.7" r="7.7"/><circle cx="122.7" cy="244.9" r="7.7"/><circle cx="199.6" cy="229.8" r="7.7"/><circle cx="220.3" cy="247.0" r="7.7"/><circle cx="239.2" cy="270.2" r="7.7"/><circle cx="187.9" cy="198.7" r="7.7"/><circle cx="218.8" cy="204.4" r="7.7"/><circle cx="203.3" cy="189.1" r="7.7"/><circle cx="208.7" cy="202.0" r="7.7"/><circle cx="219.2" cy="193.8" r="7.7"/><circle cx="184.8" cy="206.2" r="7.7"/><circle cx="215.1" cy="209.1" r="7.7"/><circle cx="314.9" cy="202.7" r="7.7"/><circle cx="326.2" cy="204.5" r="7.7"/><circle cx="301.3" cy="216.3" r="7.7"/><circle cx="282.4" cy="214.6" r="7.7"/><circle cx="284.8" cy="216.3" r="7.7"/><circle cx="281.8" cy="219.7" r="7.7"/><circle cx="268.5" cy="243.4" r="7.7"/><circle cx="314.7" cy="198.3" r="7.7"/><circle cx="311.2" cy="199.7" r="7.7"/><circle cx="284.1" cy="227.8" r="7.7"/><circle cx="228.9" cy="217.7" r="7.7"/><circle cx="259.4" cy="187.4" r="7.7"/><circle cx="267.0" cy="196.5" r="7.7"/><circle cx="271.3" cy="196.1" r="7.7"/><circle cx="131.0" cy="173.0" r="7.7"/><circle cx="131.9" cy="173.9" r="7.7"/></g>
</g>
<text x="1049.0" y="434.9" font-size="43" font-weight="bold" fill="#000">h)</text>
<rect x="1027.4" y="388.7" width="410.60" height="318.20" fill="none" stroke="#333" stroke-width="3.9" stroke-linejoin="round"/>
<path d="M1045.70 708.8v7.5M1128.86 708.8v7.5M1212.03 708.8v7.5M1295.20 708.8v7.5M1378.37 708.8v7.5M1025.5 651.39h-7.5M1025.5 568.67h-7.5M1025.5 485.95h-7.5M1025.5 403.23h-7.5" stroke="#333" stroke-width="3.9" fill="none"/>
<g transform="translate(1453.0 388.7) scale(1.00024 0.99500)" clip-path="url(#cp)">
<use href="#bg"/>
<g fill="none" stroke-linecap="round" stroke-width="17.6"><path d="M157.9 167.5h0M155.9 172.6h0M172.2 170.9h0M146.6 195.3h0M158.7 203.7h0M143.6 223.4h0M182.0 180.1h0M188.7 186.9h0M182.0 190.2h0M203.8 120.4h0M207.2 123.8h0M211.9 130.5h0M214.8 125.5h0M217.3 122.9h0M220.3 112.8h0M225.7 126.3h0M219.8 119.6h0M202.2 145.6h0M222.4 155.7h0M210.6 144.8h0M213.9 151.5h0M209.2 152.9h0M87.7 239.0h0M97.8 243.3h0M192.9 176.4h0M181.3 180.8h0M146.1 200.2h0M159.7 173.4h0M206.4 146.7h0M207.7 150.0h0M216.0 147.0h0M212.6 123.4h0M226.2 126.0h0" stroke="#dee9d4"/><path d="M165.1 170.0h0M168.8 168.7h0M176.1 171.2h0M166.8 173.4h0M191.7 150.7h0M209.7 127.1h0M224.0 117.9h0M219.0 131.3h0M205.5 146.5h0M208.9 148.2h0M212.3 149.9h0M215.6 147.3h0M219.0 153.2h0M224.0 152.4h0M59.4 237.0h0M72.6 253.9h0M90.2 238.2h0" stroke="#d4e9dc"/><path d="M151.7 210.4h0M173.5 211.3h0M178.6 177.1h0M185.3 183.5h0M195.4 183.5h0M198.8 186.9h0M247.6 141.4h0M81.0 247.5h0M103.7 257.6h0M122.2 246.6h0M199.6 239.0h0M208.7 149.0h0" stroke="#e9e9cc"/><path d="M132.0 174.3h0M134.0 174.8h0M138.2 174.4h0M140.2 176.4h0M144.9 176.8h0M148.8 182.2h0M138.2 184.4h0M153.7 175.4h0M161.8 170.0h0M142.4 191.1h0M140.2 199.5h0M52.4 238.2h0M80.1 240.4h0M84.4 238.7h0M138.4 174.4h0M145.1 176.9h0M134.3 176.1h0M137.7 177.3h0M144.4 186.2h0M150.5 181.7h0" stroke="#c9eae3"/><path d="M155.0 205.4h0M153.4 213.8h0M173.9 191.1h0M175.2 197.8h0M192.1 180.1h0M185.3 195.3h0M236.7 144.8h0M251.0 140.6h0M253.5 144.0h0M256.0 143.1h0M258.0 152.9h0M104.5 246.6h0M119.7 234.8h0M185.7 178.6h0M190.4 185.0h0" stroke="#f4e8c5"/><path d="M99.5 163.3h0M102.9 170.4h0M107.6 159.6h0M112.6 170.4h0M129.8 173.8h0M136.2 175.1h0M142.4 177.1h0M147.0 176.8h0M141.6 181.0h0M151.7 187.7h0M170.2 187.7h0M132.5 175.6h0M144.4 176.1h0M143.1 176.3h0M153.2 167.9h0M159.7 175.4h0" stroke="#bbe5df"/><path d="M152.5 192.3h0M95.3 238.2h0M107.9 242.4h0M83.0 241.1h0M141.7 191.6h0M247.6 203.7h0" stroke="#f2e1b7"/><path d="M109.9 168.4h0M114.6 158.3h0M152.2 169.2h0M89.9 164.2h0M102.5 171.4h0M109.8 171.1h0" stroke="#abded7"/><path d="M101.2 166.7h0M116.7 178.5h0" stroke="#9bd8ce"/><path d="M188.7 197.0h0M211.4 171.7h0" stroke="#e8d097"/><path d="M205.5 193.6h0M222.4 197.0h0M207.2 199.5h0M212.3 200.3h0M237.5 190.6h0M208.7 202.0h0M204.5 197.6h0" stroke="#e2c888"/><path d="M65.3 109.5h0M73.9 127.1h0" stroke="#7ac9bd"/><path d="M220.2 204.9h0M215.6 212.1h0M222.4 218.9h0M224.0 216.3h0M227.4 212.1h0M215.1 209.1h0M228.9 217.7h0" stroke="#ddbd77"/><path d="M230.8 222.6h0" stroke="#d5ae65"/><path d="M244.7 228.1h0" stroke="#cea053"/><path d="M298.1 195.0h0M304.0 199.5h0M316.6 205.4h0M306.5 216.3h0M320.0 210.4h0M277.0 266.0h0M272.8 247.5h0M314.9 202.7h0M278.7 253.4h0M314.7 198.3h0M311.2 199.7h0" stroke="#c79141"/><path d="M323.3 201.2h0M326.7 203.7h0M277.9 262.6h0M326.2 204.5h0M325.5 204.7h0M301.3 216.3h0" stroke="#c0832f"/><path d="M161.8 217.2h0M150.0 228.1h0M226.1 172.1h0M187.9 198.7h0" stroke="#edd9a7"/><path d="M74.6 159.1h0M79.3 165.0h0M76.8 172.6h0M82.7 170.0h0M89.4 170.9h0M94.5 171.7h0M99.5 158.6h0M104.5 162.0h0" stroke="#9bd8ce"/><path d="M188.7 212.5h0M191.7 213.0h0M192.1 190.2h0M202.2 201.2h0M197.1 199.5h0M205.5 184.4h0M208.9 186.9h0M333.4 200.3h0M184.8 206.2h0M197.3 211.1h0M337.5 204.4h0" stroke="#e8d097"/><path d="M181.1 210.4h0M194.1 212.1h0M204.7 212.1h0M202.2 190.2h0M208.9 197.0h0M212.8 191.1h0M215.6 197.0h0M195.4 197.0h0M198.8 200.3h0M192.1 201.2h0M215.6 199.5h0M220.7 200.3h0M201.7 200.7h0M192.9 202.0h0M230.8 207.1h0M244.2 179.6h0M331.7 203.7h0M338.5 203.7h0M335.1 220.5h0M328.4 233.2h0M199.6 229.8h0M217.3 194.3h0M203.3 189.1h0M219.2 193.8h0" stroke="#e2c888"/><path d="M57.4 124.9h0" stroke="#7ac9bd"/><path d="M198.8 212.5h0M219.0 200.3h0M225.7 194.5h0M220.7 212.1h0M227.4 225.6h0M235.8 205.4h0M225.7 203.7h0M237.5 225.6h0M225.7 227.3h0M230.3 173.4h0M258.5 186.0h0M263.6 191.1h0M218.8 204.4h0" stroke="#ddbd77"/><path d="M244.2 205.4h0M267.0 193.9h0M271.2 197.0h0M290.5 188.9h0M270.8 228.1h0M220.3 247.0h0M259.4 187.4h0M267.0 196.5h0M271.3 196.1h0" stroke="#d5ae65"/><path d="M244.6 229.0h0M247.6 229.8h0M286.6 187.7h0M301.5 197.0h0M306.5 199.0h0M308.2 213.8h0M284.6 210.4h0M286.3 217.2h0M283.8 222.2h0M292.2 230.6h0M256.9 235.7h0M267.0 241.6h0M271.2 250.0h0M275.4 257.6h0M239.2 270.2h0M282.4 214.6h0M284.8 216.3h0M284.1 227.8h0M273.7 247.5h0M272.3 251.3h0" stroke="#cea053"/><path d="M288.0 188.6h0M309.9 200.7h0M314.9 199.0h0M320.0 196.5h0M321.6 207.1h0M303.1 216.3h0M286.3 225.6h0M281.3 230.6h0M279.6 228.1h0M289.7 230.6h0M269.5 247.5h0M273.7 254.2h0M284.6 255.9h0M286.3 258.4h0M290.5 265.1h0M282.9 265.1h0M282.9 274.4h0M298.1 253.4h0M304.0 240.4h0M307.3 240.7h0M299.8 242.4h0M281.8 219.7h0M268.5 243.4h0M322.8 196.5h0M303.0 218.0h0" stroke="#c79141"/><path d="M317.4 201.7h0M320.0 193.6h0M299.8 214.6h0M309.0 216.8h0M313.2 214.6h0M320.8 217.5h0M316.6 223.1h0M303.1 254.2h0M305.7 215.3h0" stroke="#c0832f"/></g><g class="s1"><circle cx="57.4" cy="124.9" r="7.7"/><circle cx="74.6" cy="159.1" r="7.7"/><circle cx="79.3" cy="165.0" r="7.7"/><circle cx="76.8" cy="172.6" r="7.7"/><circle cx="82.7" cy="170.0" r="7.7"/><circle cx="89.4" cy="170.9" r="7.7"/><circle cx="94.5" cy="171.7" r="7.7"/><circle cx="99.5" cy="158.6" r="7.7"/><circle cx="104.5" cy="162.0" r="7.7"/><circle cx="161.8" cy="217.2" r="7.7"/><circle cx="150.0" cy="228.1" r="7.7"/><circle cx="181.1" cy="210.4" r="7.7"/><circle cx="188.7" cy="212.5" r="7.7"/><circle cx="191.7" cy="213.0" r="7.7"/><circle cx="194.1" cy="212.1" r="7.7"/><circle cx="198.8" cy="212.5" r="7.7"/><circle cx="204.7" cy="212.1" r="7.7"/><circle cx="202.2" cy="190.2" r="7.7"/><circle cx="208.9" cy="197.0" r="7.7"/><circle cx="212.8" cy="191.1" r="7.7"/><circle cx="215.6" cy="197.0" r="7.7"/><circle cx="219.0" cy="200.3" r="7.7"/><circle cx="225.7" cy="194.5" r="7.7"/><circle cx="192.1" cy="190.2" r="7.7"/><circle cx="195.4" cy="197.0" r="7.7"/><circle cx="198.8" cy="200.3" r="7.7"/><circle cx="202.2" cy="201.2" r="7.7"/><circle cx="192.1" cy="201.2" r="7.7"/><circle cx="197.1" cy="199.5" r="7.7"/><circle cx="215.6" cy="199.5" r="7.7"/><circle cx="220.7" cy="200.3" r="7.7"/><circle cx="201.7" cy="200.7" r="7.7"/><circle cx="205.5" cy="184.4" r="7.7"/><circle cx="208.9" cy="186.9" r="7.7"/><circle cx="192.9" cy="202.0" r="7.7"/><circle cx="220.7" cy="212.1" r="7.7"/><circle cx="227.4" cy="225.6" r="7.7"/><circle cx="230.8" cy="207.1" r="7.7"/><circle cx="235.8" cy="205.4" r="7.7"/><circle cx="225.7" cy="203.7" r="7.7"/><circle cx="237.5" cy="225.6" r="7.7"/><circle cx="244.6" cy="229.0" r="7.7"/><circle cx="247.6" cy="229.8" r="7.7"/><circle cx="225.7" cy="227.3" r="7.7"/><circle cx="226.1" cy="172.1" r="7.7"/><circle cx="230.3" cy="173.4" r="7.7"/><circle cx="244.2" cy="179.6" r="7.7"/><circle cx="244.2" cy="205.4" r="7.7"/><circle cx="258.5" cy="186.0" r="7.7"/><circle cx="263.6" cy="191.1" r="7.7"/><circle cx="267.0" cy="193.9" r="7.7"/><circle cx="271.2" cy="197.0" r="7.7"/><circle cx="286.6" cy="187.7" r="7.7"/><circle cx="288.0" cy="188.6" r="7.7"/><circle cx="290.5" cy="188.9" r="7.7"/><circle cx="301.5" cy="197.0" r="7.7"/><circle cx="306.5" cy="199.0" r="7.7"/><circle cx="309.9" cy="200.7" r="7.7"/><circle cx="314.9" cy="199.0" r="7.7"/><circle cx="317.4" cy="201.7" r="7.7"/><circle cx="320.0" cy="196.5" r="7.7"/><circle cx="331.7" cy="203.7" r="7.7"/><circle cx="321.6" cy="207.1" r="7.7"/><circle cx="333.4" cy="200.3" r="7.7"/><circle cx="338.5" cy="203.7" r="7.7"/><circle cx="320.0" cy="193.6" r="7.7"/><circle cx="299.8" cy="214.6" r="7.7"/><circle cx="303.1" cy="216.3" r="7.7"/><circle cx="309.0" cy="216.8" r="7.7"/><circle cx="313.2" cy="214.6" r="7.7"/><circle cx="320.8" cy="217.5" r="7.7"/><circle cx="335.1" cy="220.5" r="7.7"/><circle cx="316.6" cy="223.1" r="7.7"/><circle cx="328.4" cy="233.2" r="7.7"/><circle cx="308.2" cy="213.8" r="7.7"/><circle cx="284.6" cy="210.4" r="7.7"/><circle cx="286.3" cy="217.2" r="7.7"/><circle cx="283.8" cy="222.2" r="7.7"/><circle cx="286.3" cy="225.6" r="7.7"/><circle cx="281.3" cy="230.6" r="7.7"/><circle cx="279.6" cy="228.1" r="7.7"/><circle cx="270.8" cy="228.1" r="7.7"/><circle cx="289.7" cy="230.6" r="7.7"/><circle cx="292.2" cy="230.6" r="7.7"/><circle cx="256.9" cy="235.7" r="7.7"/><circle cx="267.0" cy="241.6" r="7.7"/><circle cx="269.5" cy="247.5" r="7.7"/><circle cx="271.2" cy="250.0" r="7.7"/><circle cx="273.7" cy="254.2" r="7.7"/><circle cx="275.4" cy="257.6" r="7.7"/><circle cx="284.6" cy="255.9" r="7.7"/><circle cx="286.3" cy="258.4" r="7.7"/><circle cx="290.5" cy="265.1" r="7.7"/><circle cx="282.9" cy="265.1" r="7.7"/><circle cx="282.9" cy="274.4" r="7.7"/><circle cx="298.1" cy="253.4" r="7.7"/><circle cx="303.1" cy="254.2" r="7.7"/><circle cx="304.0" cy="240.4" r="7.7"/><circle cx="307.3" cy="240.7" r="7.7"/><circle cx="299.8" cy="242.4" r="7.7"/><circle cx="199.6" cy="229.8" r="7.7"/><circle cx="220.3" cy="247.0" r="7.7"/><circle cx="239.2" cy="270.2" r="7.7"/><circle cx="187.9" cy="198.7" r="7.7"/><circle cx="218.8" cy="204.4" r="7.7"/><circle cx="217.3" cy="194.3" r="7.7"/><circle cx="203.3" cy="189.1" r="7.7"/><circle cx="219.2" cy="193.8" r="7.7"/><circle cx="184.8" cy="206.2" r="7.7"/><circle cx="197.3" cy="211.1" r="7.7"/><circle cx="305.7" cy="215.3" r="7.7"/><circle cx="282.4" cy="214.6" r="7.7"/><circle cx="284.8" cy="216.3" r="7.7"/><circle cx="281.8" cy="219.7" r="7.7"/><circle cx="268.5" cy="243.4" r="7.7"/><circle cx="322.8" cy="196.5" r="7.7"/><circle cx="337.5" cy="204.4" r="7.7"/><circle cx="303.0" cy="218.0" r="7.7"/><circle cx="284.1" cy="227.8" r="7.7"/><circle cx="273.7" cy="247.5" r="7.7"/><circle cx="272.3" cy="251.3" r="7.7"/><circle cx="259.4" cy="187.4" r="7.7"/><circle cx="267.0" cy="196.5" r="7.7"/><circle cx="271.3" cy="196.1" r="7.7"/></g>
</g>
<text x="1474.6" y="434.9" font-size="43" font-weight="bold" fill="#000">k)</text>
<rect x="1453.0" y="388.7" width="410.60" height="318.20" fill="none" stroke="#333" stroke-width="3.9" stroke-linejoin="round"/>
<path d="M1471.30 708.8v7.5M1554.46 708.8v7.5M1637.63 708.8v7.5M1720.80 708.8v7.5M1803.97 708.8v7.5M1451.1 651.39h-7.5M1451.1 568.67h-7.5M1451.1 485.95h-7.5M1451.1 403.23h-7.5" stroke="#333" stroke-width="3.9" fill="none"/>
<g transform="translate(179.5 723.1) scale(1.00000 0.99844)" clip-path="url(#cp)">
<use href="#bg"/>
<g fill="none" stroke-linecap="round" stroke-width="15.6"><path d="M57.4 126.3h0M73.9 127.1h0M129.8 173.8h0M136.2 175.1h0M157.9 167.5h0M165.1 170.0h0M176.1 171.2h0M166.8 173.4h0M151.7 210.4h0M175.2 197.8h0M204.7 212.1h0M185.3 183.5h0M192.1 180.1h0M195.4 183.5h0M198.8 186.9h0M202.2 190.2h0M205.5 193.6h0M208.9 197.0h0M222.4 197.0h0M192.1 190.2h0M198.8 200.3h0M197.1 199.5h0M215.6 199.5h0M205.5 184.4h0M208.9 186.9h0M220.7 212.1h0M227.4 225.6h0M230.8 222.6h0M235.8 205.4h0M237.5 225.6h0M226.1 172.1h0M258.5 186.0h0M271.2 197.0h0M282.9 274.4h0M191.7 150.7h0M209.7 127.1h0M214.8 125.5h0M220.3 112.8h0M225.7 126.3h0M205.5 146.5h0M212.3 149.9h0M224.0 152.4h0M247.6 141.4h0M185.7 178.6h0M192.9 176.4h0M190.4 185.0h0M218.8 204.4h0M219.2 193.8h0M132.5 175.6h0M159.7 173.4h0M207.7 150.0h0M216.0 147.0h0M212.6 123.4h0M226.2 126.0h0" stroke="#dee9d4"/><path d="M65.3 109.5h0M112.6 170.4h0M144.9 176.8h0M138.2 184.4h0M153.7 175.4h0M155.9 172.6h0M161.8 170.0h0M168.8 168.7h0M146.6 195.3h0M158.7 203.7h0M143.6 223.4h0M150.0 228.4h0M180.6 211.8h0M178.6 177.1h0M212.8 191.1h0M225.7 194.5h0M220.7 200.3h0M185.3 195.3h0M247.6 229.8h0M211.4 174.3h0M237.5 190.6h0M288.0 188.6h0M290.5 188.9h0M187.9 198.7h0M217.3 194.3h0M215.1 209.1h0M144.4 176.1h0M143.1 176.3h0M141.7 191.6h0M159.7 175.4h0" stroke="#d4e9dc"/><path d="M75.9 172.6h0M93.6 171.7h0M109.9 168.4h0M147.0 176.8h0M155.0 205.4h0M153.4 213.8h0M182.0 180.1h0M188.7 186.9h0M195.4 197.0h0M202.2 201.2h0M188.7 197.0h0M192.1 201.2h0M207.2 199.5h0M212.3 200.3h0M201.7 200.7h0M222.4 218.9h0M224.0 216.3h0M227.4 212.1h0M230.8 207.1h0M225.7 227.3h0M244.2 179.6h0M267.0 193.9h0M328.4 233.2h0M203.8 120.4h0M207.2 123.8h0M217.3 122.9h0M219.8 119.6h0M219.0 131.3h0M202.2 145.6h0M208.9 148.2h0M215.6 147.3h0M219.0 153.2h0M222.4 155.7h0M210.6 144.8h0M213.9 151.5h0M236.7 144.8h0M209.2 152.9h0M104.5 246.6h0M181.3 180.8h0M203.3 189.1h0M208.7 202.0h0M204.5 197.6h0M138.4 174.4h0M145.1 176.9h0M134.3 176.1h0M137.7 177.3h0M144.4 186.2h0M146.1 200.2h0M150.5 181.7h0M89.9 164.2h0M208.7 149.0h0M206.4 146.7h0" stroke="#e9e9cc"/><path d="M132.0 174.3h0M134.0 174.8h0M140.2 176.4h0M142.4 177.1h0M141.6 181.0h0M172.2 170.9h0M151.7 187.7h0M215.6 197.0h0M219.0 200.3h0M215.6 212.1h0M225.7 203.7h0M263.6 191.1h0M286.6 187.7h0M284.6 210.4h0M122.2 246.6h0M220.3 247.0h0M153.2 167.9h0M152.2 169.2h0" stroke="#f4e8c5"/><path d="M170.2 187.7h0M173.9 191.1h0M173.5 211.3h0M188.7 212.5h0M191.7 213.0h0M194.1 212.1h0M198.8 212.5h0M182.0 190.2h0M304.0 199.5h0M323.3 201.2h0M338.5 203.7h0M309.0 216.8h0M320.8 217.5h0M308.2 213.8h0M251.0 140.6h0M253.5 144.0h0M256.0 143.1h0M258.0 152.9h0M119.7 234.8h0M197.3 211.1h0M102.5 171.4h0M305.7 215.3h0" stroke="#c9eae3"/><path d="M298.1 195.0h0M309.9 200.7h0M317.4 201.7h0M331.7 203.7h0M316.6 205.4h0M333.4 200.3h0M320.0 193.6h0M299.8 214.6h0M303.1 216.3h0M306.5 216.3h0M313.2 214.6h0M320.0 210.4h0M335.1 220.5h0M316.6 223.1h0M184.8 206.2h0M314.9 202.7h0M325.5 204.7h0M301.3 216.3h0" stroke="#bbe5df"/><path d="M73.4 158.6h0M161.8 217.5h0M199.6 239.0h0" stroke="#edd9a7"/><path d="M52.4 238.2h0M59.4 237.0h0M80.1 240.4h0M90.2 238.2h0M95.3 238.2h0" stroke="#abded7"/><path d="M244.2 205.4h0M283.8 222.2h0M279.6 228.1h0M275.4 257.6h0M277.0 266.0h0M281.8 219.7h0M268.5 243.4h0" stroke="#e8d097"/><path d="M81.0 247.5h0M107.9 242.4h0" stroke="#9bd8ce"/><path d="M270.8 228.1h0M289.7 230.6h0M292.2 230.6h0M256.9 235.7h0M277.9 262.6h0M282.9 265.1h0M303.1 254.2h0M299.8 242.4h0M103.7 258.4h0M239.2 270.2h0M282.4 214.6h0M284.8 216.3h0M278.7 253.4h0" stroke="#e2c888"/><path d="M84.4 238.7h0M87.7 239.0h0M97.8 243.3h0" stroke="#8bd1c6"/><path d="M286.3 217.2h0M286.3 225.6h0M281.3 230.6h0M267.0 241.6h0M269.5 247.5h0M290.5 265.1h0M298.1 253.4h0M272.8 247.5h0" stroke="#ddbd77"/><path d="M192.9 202.0h0M193.1 202.0h0" stroke="#dee9d4"/><path d="M101.2 166.7h0M230.3 174.6h0" stroke="#bbe5df"/><path d="M219.8 204.5h0" stroke="#f2e1b7"/><path d="M79.3 165.0h0M81.8 170.9h0M89.4 168.4h0M97.8 158.3h0M99.5 163.3h0M102.9 170.0h0M104.5 161.6h0M114.6 158.6h0M116.7 179.3h0M137.9 174.3h0M148.8 182.2h0M142.4 191.1h0M152.5 192.3h0M140.2 199.5h0M109.6 170.0h0M92.8 167.5h0M107.1 163.3h0" stroke="#abded7"/><path d="M107.9 159.1h0M96.1 165.0h0" stroke="#9bd8ce"/><path d="M244.6 229.8h0M199.6 232.0h0" stroke="#e2c888"/><path d="M83.0 241.1h0M82.3 241.4h0" stroke="#8bd1c6"/><path d="M271.2 250.0h0M273.7 253.4h0" stroke="#ddbd77"/><path d="M72.6 254.5h0" stroke="#6abdb2"/><path d="M304.0 240.4h0M307.3 240.7h0" stroke="#cea053"/><path d="M284.6 255.9h0M286.3 258.4h0" stroke="#c79141"/></g><g class="s2"><circle cx="79.3" cy="165.0" r="6.1"/><circle cx="81.8" cy="170.9" r="6.1"/><circle cx="89.4" cy="168.4" r="6.1"/><circle cx="97.8" cy="158.3" r="6.1"/><circle cx="99.5" cy="163.3" r="6.1"/><circle cx="101.2" cy="166.7" r="6.1"/><circle cx="102.9" cy="170.0" r="6.1"/><circle cx="104.5" cy="161.6" r="6.1"/><circle cx="107.9" cy="159.1" r="6.1"/><circle cx="114.6" cy="158.6" r="6.1"/><circle cx="116.7" cy="179.3" r="6.1"/><circle cx="137.9" cy="174.3" r="6.1"/><circle cx="148.8" cy="182.2" r="6.1"/><circle cx="142.4" cy="191.1" r="6.1"/><circle cx="152.5" cy="192.3" r="6.1"/><circle cx="140.2" cy="199.5" r="6.1"/><circle cx="219.8" cy="204.5" r="6.1"/><circle cx="192.9" cy="202.0" r="6.1"/><circle cx="244.6" cy="229.8" r="6.1"/><circle cx="230.3" cy="174.6" r="6.1"/><circle cx="271.2" cy="250.0" r="6.1"/><circle cx="273.7" cy="253.4" r="6.1"/><circle cx="284.6" cy="255.9" r="6.1"/><circle cx="286.3" cy="258.4" r="6.1"/><circle cx="304.0" cy="240.4" r="6.1"/><circle cx="307.3" cy="240.7" r="6.1"/><circle cx="72.6" cy="254.5" r="6.1"/><circle cx="83.0" cy="241.1" r="6.1"/><circle cx="199.6" cy="232.0" r="6.1"/><circle cx="109.6" cy="170.0" r="6.1"/><circle cx="92.8" cy="167.5" r="6.1"/><circle cx="96.1" cy="165.0" r="6.1"/><circle cx="107.1" cy="163.3" r="6.1"/><circle cx="82.3" cy="241.4" r="6.1"/><circle cx="193.1" cy="202.0" r="6.1"/></g>
</g>
<text x="204.3" y="769.3" font-size="43" font-weight="bold" fill="#000">c)</text>
<rect x="179.5" y="723.1" width="410.50" height="319.30" fill="none" stroke="#333" stroke-width="3.9" stroke-linejoin="round"/>
<path d="M197.79 1044.3000000000002v6.5M280.94 1044.3000000000002v6.5M364.09 1044.3000000000002v6.5M447.24 1044.3000000000002v6.5M530.38 1044.3000000000002v6.5M177.6 986.70h-6.5M177.6 903.69h-6.5M177.6 820.68h-6.5M177.6 737.68h-6.5" stroke="#333" stroke-width="3.9" fill="none"/>
<text x="167.7" y="998.7" font-size="34" fill="#4d4d4d" text-anchor="end">40</text>
<text x="167.7" y="915.7" font-size="34" fill="#4d4d4d" text-anchor="end">50</text>
<text x="167.7" y="832.7" font-size="34" fill="#4d4d4d" text-anchor="end">60</text>
<text x="167.7" y="749.7" font-size="34" fill="#4d4d4d" text-anchor="end">70</text>
<text transform="translate(116.5 897.8) rotate(-90)" font-size="29" text-anchor="middle" fill="#000">Latitude (ºN)</text>
<text x="203.3" y="1084.4" font-size="34" fill="#4d4d4d" text-anchor="middle">−10</text>
<text x="282.9" y="1084.4" font-size="34" fill="#4d4d4d" text-anchor="middle">0</text>
<text x="366.1" y="1084.4" font-size="34" fill="#4d4d4d" text-anchor="middle">10</text>
<text x="449.2" y="1084.4" font-size="34" fill="#4d4d4d" text-anchor="middle">20</text>
<text x="532.4" y="1084.4" font-size="34" fill="#4d4d4d" text-anchor="middle">30</text>
<text x="399.8" y="1122.6" font-size="29" text-anchor="middle" fill="#000">Longitude (ºE)</text>
<g transform="translate(603.6 723.1) scale(0.99976 0.99844)" clip-path="url(#cp)">
<use href="#bg"/>
<g fill="none" stroke-linecap="round" stroke-width="15.6"><path d="M65.3 109.5h0M73.9 127.1h0M89.4 168.4h0M97.8 158.6h0M102.9 170.4h0M104.5 161.6h0M107.6 159.6h0M109.9 168.4h0M112.6 170.4h0M165.1 170.0h0M166.8 173.4h0M142.4 191.1h0M152.5 192.3h0M151.7 210.4h0M161.8 217.5h0M153.4 213.8h0M173.9 191.1h0M180.6 211.8h0M198.8 212.5h0M178.6 177.1h0M192.1 180.1h0M198.8 186.9h0M202.2 190.2h0M215.6 197.0h0M219.0 200.3h0M222.4 197.0h0M202.2 201.2h0M192.1 201.2h0M212.3 200.3h0M215.6 199.5h0M220.7 200.3h0M201.7 200.7h0M182.0 190.2h0M208.9 186.9h0M235.8 205.4h0M247.6 229.8h0M225.7 227.3h0M226.1 172.1h0M244.2 205.4h0M267.0 193.9h0M271.2 197.0h0M288.0 188.6h0M290.5 188.9h0M281.3 230.6h0M279.6 228.1h0M289.7 230.6h0M267.0 241.6h0M273.7 254.2h0M290.5 265.1h0M303.1 254.2h0M191.7 150.7h0M203.8 120.4h0M207.2 123.8h0M214.8 125.5h0M213.9 151.5h0M209.2 152.9h0M59.4 237.0h0M84.4 238.7h0M90.2 238.2h0M95.3 238.2h0M81.0 247.5h0M119.7 234.8h0M192.9 176.4h0M187.9 198.7h0M203.3 189.1h0M208.7 202.0h0M204.5 197.6h0M215.1 209.1h0M197.3 211.1h0M141.7 191.6h0M159.7 173.4h0M153.2 167.9h0M89.9 164.2h0M109.8 171.1h0M212.6 123.4h0M282.4 214.6h0M278.7 253.4h0" stroke="#dee9d4"/><path d="M73.9 159.1h0M79.3 165.0h0M99.5 163.3h0M132.0 174.3h0M134.0 174.8h0M136.2 175.1h0M148.8 182.2h0M153.7 175.4h0M161.8 170.0h0M155.0 205.4h0M158.7 203.7h0M170.2 187.7h0M175.2 197.8h0M173.5 211.3h0M188.7 212.5h0M191.7 213.0h0M204.7 212.1h0M182.0 180.1h0M185.3 183.5h0M195.4 183.5h0M205.5 193.6h0M192.1 190.2h0M205.5 184.4h0M185.3 195.3h0M192.9 202.0h0M215.6 212.1h0M220.7 212.1h0M224.0 216.3h0M227.4 225.6h0M230.8 207.1h0M244.6 229.0h0M230.3 173.4h0M237.5 190.6h0M286.6 187.7h0M303.1 216.3h0M286.3 217.2h0M283.8 222.2h0M270.8 228.1h0M292.2 230.6h0M277.9 262.6h0M286.3 258.4h0M307.3 240.7h0M209.7 127.1h0M217.3 122.9h0M219.8 119.6h0M202.2 145.6h0M208.9 148.2h0M247.6 141.4h0M251.0 140.6h0M253.5 144.0h0M256.0 143.1h0M72.6 253.9h0M80.1 240.4h0M87.7 239.0h0M97.8 243.3h0M104.5 246.6h0M107.9 242.4h0M122.2 246.6h0M83.0 241.1h0M185.7 178.6h0M181.3 180.8h0M218.8 204.4h0M217.3 194.3h0M219.2 193.8h0M184.8 206.2h0M137.7 177.3h0M144.4 176.1h0M143.1 176.3h0M150.5 181.7h0M159.7 175.4h0M102.5 171.4h0M208.7 149.0h0M206.4 146.7h0M207.7 150.0h0M226.2 126.0h0M281.8 219.7h0M268.5 243.4h0" stroke="#e9e9cc"/><path d="M101.2 166.7h0M116.7 178.5h0M157.9 167.5h0M176.1 171.2h0M140.2 199.5h0M146.6 195.3h0M194.1 212.1h0M188.7 186.9h0M208.9 197.0h0M225.7 194.5h0M195.4 197.0h0M198.8 200.3h0M188.7 197.0h0M197.1 199.5h0M207.2 199.5h0M227.4 212.1h0M225.7 203.7h0M244.2 179.6h0M258.5 186.0h0M328.4 233.2h0M271.2 250.0h0M284.6 255.9h0M299.8 242.4h0M220.3 112.8h0M225.7 126.3h0M219.0 131.3h0M205.5 146.5h0M212.3 149.9h0M210.6 144.8h0M258.0 152.9h0M52.4 238.2h0M220.7 247.5h0M190.4 185.0h0M146.1 200.2h0M284.8 216.3h0" stroke="#d4e9dc"/><path d="M57.4 126.3h0M168.8 168.7h0M143.6 223.4h0M150.0 228.4h0M230.8 222.6h0M237.5 225.6h0M211.4 174.3h0M282.9 264.3h0M215.6 147.3h0M219.0 153.2h0M222.4 155.7h0M224.0 152.4h0M236.7 144.8h0M216.0 147.0h0" stroke="#c9eae3"/><path d="M140.2 176.4h0M141.6 181.0h0M151.7 187.7h0M323.3 201.2h0M316.6 205.4h0M309.0 216.8h0M313.2 214.6h0M320.8 217.5h0M308.2 213.8h0M145.1 176.9h0M144.4 186.2h0M305.7 215.3h0M301.3 216.3h0" stroke="#f4e8c5"/><path d="M129.8 173.8h0M155.9 172.6h0M333.4 200.3h0M338.5 203.7h0M320.0 193.6h0M299.8 214.6h0M306.5 216.3h0M320.0 210.4h0M316.6 223.1h0M138.4 174.4h0M134.3 176.1h0M132.5 175.6h0M152.2 169.2h0M314.9 202.7h0M325.5 204.7h0" stroke="#f2e1b7"/><path d="M172.2 170.9h0M284.6 276.1h0M298.1 252.5h0" stroke="#bbe5df"/><path d="M309.9 200.7h0M317.4 201.7h0M331.7 203.7h0M304.0 240.4h0" stroke="#edd9a7"/><path d="M269.5 247.5h0M277.9 257.6h0M199.6 239.0h0" stroke="#abded7"/><path d="M272.8 249.1h0" stroke="#9bd8ce"/><path d="M335.1 221.4h0M286.3 212.1h0" stroke="#e2c888"/><path d="M276.2 266.0h0M199.6 230.6h0M239.2 271.0h0" stroke="#8bd1c6"/><path d="M256.9 236.5h0" stroke="#ddbd77"/><path d="M103.7 258.4h0" stroke="#59b1a7"/><path d="M75.6 173.4h0M93.6 172.6h0M297.2 195.3h0" stroke="#f4e8c5"/><path d="M82.3 171.7h0M220.7 217.2h0" stroke="#c9eae3"/><path d="M113.8 158.6h0M138.2 174.3h0M141.6 176.8h0M144.9 176.4h0M146.6 176.8h0" stroke="#f2e1b7"/><path d="M138.2 184.4h0M212.3 191.1h0M220.2 204.5h0M263.6 192.8h0M302.3 198.7h0M212.9 191.5h0M260.2 188.6h0M302.3 198.1h0M302.4 198.6h0" stroke="#e2c888"/><path d="M286.3 225.6h0" stroke="#c79141"/></g><g class="s2"><circle cx="75.6" cy="173.4" r="6.1"/><circle cx="82.3" cy="171.7" r="6.1"/><circle cx="93.6" cy="172.6" r="6.1"/><circle cx="113.8" cy="158.6" r="6.1"/><circle cx="138.2" cy="174.3" r="6.1"/><circle cx="141.6" cy="176.8" r="6.1"/><circle cx="144.9" cy="176.4" r="6.1"/><circle cx="146.6" cy="176.8" r="6.1"/><circle cx="138.2" cy="184.4" r="6.1"/><circle cx="212.3" cy="191.1" r="6.1"/><circle cx="220.2" cy="204.5" r="6.1"/><circle cx="220.7" cy="217.2" r="6.1"/><circle cx="263.6" cy="192.8" r="6.1"/><circle cx="297.2" cy="195.3" r="6.1"/><circle cx="302.3" cy="198.7" r="6.1"/><circle cx="286.3" cy="225.6" r="6.1"/><circle cx="212.9" cy="191.5" r="6.1"/><circle cx="260.2" cy="188.6" r="6.1"/><circle cx="302.3" cy="198.1" r="6.1"/><circle cx="302.4" cy="198.6" r="6.1"/></g>
</g>
<text x="628.4" y="769.3" font-size="43" font-weight="bold" fill="#000">f)</text>
<rect x="603.6" y="723.1" width="410.40" height="319.30" fill="none" stroke="#333" stroke-width="3.9" stroke-linejoin="round"/>
<path d="M621.89 1044.3000000000002v6.5M705.02 1044.3000000000002v6.5M788.14 1044.3000000000002v6.5M871.27 1044.3000000000002v6.5M954.40 1044.3000000000002v6.5M601.7 986.70h-6.5M601.7 903.69h-6.5M601.7 820.68h-6.5M601.7 737.68h-6.5" stroke="#333" stroke-width="3.9" fill="none"/>
<text x="627.4" y="1084.4" font-size="34" fill="#4d4d4d" text-anchor="middle">−10</text>
<text x="707.0" y="1084.4" font-size="34" fill="#4d4d4d" text-anchor="middle">0</text>
<text x="790.1" y="1084.4" font-size="34" fill="#4d4d4d" text-anchor="middle">10</text>
<text x="873.3" y="1084.4" font-size="34" fill="#4d4d4d" text-anchor="middle">20</text>
<text x="956.4" y="1084.4" font-size="34" fill="#4d4d4d" text-anchor="middle">30</text>
<text x="823.8" y="1122.6" font-size="29" text-anchor="middle" fill="#000">Longitude (ºE)</text>
<g transform="translate(1027.4 723.1) scale(1.00024 0.99844)" clip-path="url(#cp)">
<use href="#bg"/>
<g fill="none" stroke-linecap="round" stroke-width="15.6"><path d="M65.3 109.5h0M73.9 127.1h0M140.2 199.5h0M158.7 203.7h0M182.0 180.1h0M202.2 190.2h0M205.5 193.6h0M215.6 197.0h0M197.1 199.5h0M220.7 200.3h0M211.4 174.3h0M333.4 200.3h0M308.2 213.8h0M286.3 212.1h0M286.3 225.6h0M304.0 240.4h0M307.3 240.7h0M72.6 254.2h0M119.7 234.8h0M83.0 241.1h0M199.6 239.0h0M217.3 194.3h0M203.3 189.1h0M159.7 173.4h0M314.9 202.7h0M278.7 253.4h0" stroke="#dee9d4"/><path d="M75.9 172.6h0M155.9 172.6h0M166.8 173.4h0M151.7 187.7h0M151.7 210.4h0M153.4 213.8h0M175.2 197.8h0M173.5 211.3h0M198.8 212.5h0M178.6 177.1h0M188.7 186.9h0M192.1 180.1h0M222.4 197.0h0M195.4 197.0h0M198.8 200.3h0M202.2 201.2h0M207.2 199.5h0M182.0 190.2h0M222.4 218.9h0M227.4 225.6h0M227.4 212.1h0M230.8 207.1h0M235.8 205.4h0M225.7 203.7h0M244.6 229.0h0M244.2 205.4h0M304.0 199.5h0M316.6 205.4h0M299.8 214.6h0M309.0 216.8h0M313.2 214.6h0M316.6 223.1h0M286.3 217.2h0M281.3 230.6h0M282.9 265.1h0M299.8 242.4h0M253.5 144.0h0M256.0 143.1h0M258.0 152.9h0M90.2 238.2h0M95.3 238.2h0M97.8 243.3h0M122.2 246.6h0M192.9 176.4h0M204.5 197.6h0M219.2 193.8h0M184.8 206.2h0M197.3 211.1h0M141.7 191.6h0M153.2 167.9h0M282.4 214.6h0M284.8 216.3h0" stroke="#e9e9cc"/><path d="M204.7 212.1h0M263.6 191.1h0M267.0 193.9h0M286.6 187.7h0" stroke="#d4e9dc"/><path d="M148.8 182.2h0M141.6 181.0h0M153.7 175.4h0M161.8 170.0h0M152.5 192.3h0M146.6 195.3h0M155.0 205.4h0M188.7 212.5h0M195.4 183.5h0M198.8 186.9h0M208.9 197.0h0M219.0 200.3h0M192.1 190.2h0M192.1 201.2h0M212.3 200.3h0M215.6 199.5h0M185.3 195.3h0M208.9 186.9h0M192.9 202.0h0M215.6 212.1h0M237.5 225.6h0M247.6 229.8h0M225.7 227.3h0M237.5 190.6h0M323.3 201.2h0M331.7 203.7h0M338.5 203.7h0M320.0 193.6h0M303.1 216.3h0M320.0 210.4h0M328.4 233.2h0M292.2 230.6h0M271.2 250.0h0M275.4 257.6h0M277.9 262.6h0M286.3 258.4h0M59.4 237.0h0M80.1 240.4h0M87.7 239.0h0M104.5 246.6h0M185.7 178.6h0M190.4 185.0h0M187.9 198.7h0M181.3 180.8h0M218.8 204.4h0M208.7 202.0h0M215.1 209.1h0M150.5 181.7h0M152.2 169.2h0M305.7 215.3h0M301.3 216.3h0M281.8 219.7h0M268.5 243.4h0" stroke="#f4e8c5"/><path d="M161.8 218.9h0M258.5 186.0h0M271.2 197.0h0M288.0 188.6h0M290.5 188.9h0M269.5 247.5h0M303.1 254.2h0" stroke="#c9eae3"/><path d="M73.9 158.3h0M298.1 195.0h0M283.8 222.2h0M298.1 252.5h0M272.8 249.1h0" stroke="#bbe5df"/><path d="M138.2 184.4h0M172.2 170.9h0M142.4 191.1h0M143.6 223.4h0M170.2 187.7h0M173.9 191.1h0M185.3 183.5h0M225.7 194.5h0M188.7 197.0h0M205.5 184.4h0M220.7 212.1h0M224.0 216.3h0M230.8 222.6h0M309.9 200.7h0M317.4 201.7h0M306.5 216.3h0M320.8 217.5h0M279.6 228.1h0M270.8 228.1h0M267.0 241.6h0M273.7 254.2h0M220.3 112.8h0M251.0 140.6h0M52.4 238.2h0M84.4 238.7h0M81.0 247.5h0M107.9 242.4h0M220.3 247.0h0M144.4 186.2h0M146.1 200.2h0M159.7 175.4h0M325.5 204.7h0" stroke="#f2e1b7"/><path d="M199.6 230.6h0M138.4 174.4h0M134.3 176.1h0M212.6 123.4h0" stroke="#edd9a7"/><path d="M289.7 266.0h0M145.1 176.9h0M137.7 177.3h0M144.4 176.1h0M143.1 176.3h0M109.8 171.1h0M206.4 146.7h0M207.7 150.0h0M216.0 147.0h0M226.2 126.0h0" stroke="#e8d097"/><path d="M282.9 227.3h0" stroke="#9bd8ce"/><path d="M150.0 229.0h0M335.1 221.4h0M239.2 271.0h0M132.5 175.6h0M89.9 164.2h0M102.5 171.4h0" stroke="#e2c888"/><path d="M282.9 257.6h0M277.9 266.0h0M103.7 258.4h0" stroke="#8bd1c6"/><path d="M289.7 232.3h0" stroke="#7ac9bd"/><path d="M256.9 236.5h0M284.6 276.1h0M208.7 149.0h0" stroke="#ddbd77"/><path d="M57.4 126.3h0" stroke="#c9eae3"/><path d="M220.2 204.9h0" stroke="#bbe5df"/><path d="M217.3 122.9h0M219.0 131.3h0" stroke="#f2e1b7"/><path d="M129.8 173.8h0M132.0 174.3h0M157.9 167.9h0M165.1 170.0h0M169.3 169.2h0M176.1 171.2h0M227.4 173.4h0M230.8 174.3h0M244.6 180.7h0M225.7 126.3h0M219.8 119.6h0M247.6 142.8h0" stroke="#edd9a7"/><path d="M82.3 170.9h0M89.4 168.4h0M104.5 161.6h0M109.9 168.4h0M114.6 158.3h0M116.7 178.5h0M134.0 174.8h0M138.2 174.4h0M140.2 176.4h0M144.9 176.8h0M147.0 176.8h0M212.8 191.1h0M191.7 152.4h0M203.8 120.4h0M207.2 123.8h0M209.7 127.1h0M214.8 125.5h0M202.2 145.6h0M222.4 155.7h0M224.0 152.4h0M210.6 144.8h0M209.2 152.9h0M212.3 191.0h0" stroke="#e8d097"/><path d="M93.6 171.7h0M97.8 158.6h0M99.5 163.3h0M101.2 166.7h0M102.9 170.4h0M107.6 159.6h0M112.6 170.4h0M136.2 175.1h0M142.4 177.1h0M205.5 146.5h0M208.9 148.2h0M212.3 149.9h0M215.6 147.3h0M219.0 153.2h0" stroke="#e2c888"/><path d="M180.6 212.1h0" stroke="#8bd1c6"/><path d="M201.7 200.7h0M213.9 151.5h0M236.7 145.6h0" stroke="#ddbd77"/><path d="M79.3 165.3h0M320.0 196.5h0" stroke="#d5ae65"/><path d="M191.2 213.0h0" stroke="#59b1a7"/><path d="M193.7 212.1h0" stroke="#48a49c"/></g><g class="s2"><circle cx="57.4" cy="126.3" r="6.1"/><circle cx="79.3" cy="165.3" r="6.1"/><circle cx="82.3" cy="170.9" r="6.1"/><circle cx="89.4" cy="168.4" r="6.1"/><circle cx="93.6" cy="171.7" r="6.1"/><circle cx="97.8" cy="158.6" r="6.1"/><circle cx="99.5" cy="163.3" r="6.1"/><circle cx="101.2" cy="166.7" r="6.1"/><circle cx="102.9" cy="170.4" r="6.1"/><circle cx="104.5" cy="161.6" r="6.1"/><circle cx="107.6" cy="159.6" r="6.1"/><circle cx="109.9" cy="168.4" r="6.1"/><circle cx="114.6" cy="158.3" r="6.1"/><circle cx="112.6" cy="170.4" r="6.1"/><circle cx="116.7" cy="178.5" r="6.1"/><circle cx="129.8" cy="173.8" r="6.1"/><circle cx="132.0" cy="174.3" r="6.1"/><circle cx="134.0" cy="174.8" r="6.1"/><circle cx="136.2" cy="175.1" r="6.1"/><circle cx="138.2" cy="174.4" r="6.1"/><circle cx="140.2" cy="176.4" r="6.1"/><circle cx="142.4" cy="177.1" r="6.1"/><circle cx="144.9" cy="176.8" r="6.1"/><circle cx="147.0" cy="176.8" r="6.1"/><circle cx="157.9" cy="167.9" r="6.1"/><circle cx="165.1" cy="170.0" r="6.1"/><circle cx="169.3" cy="169.2" r="6.1"/><circle cx="176.1" cy="171.2" r="6.1"/><circle cx="180.6" cy="212.1" r="6.1"/><circle cx="191.2" cy="213.0" r="6.1"/><circle cx="193.7" cy="212.1" r="6.1"/><circle cx="212.8" cy="191.1" r="6.1"/><circle cx="201.7" cy="200.7" r="6.1"/><circle cx="220.2" cy="204.9" r="6.1"/><circle cx="227.4" cy="173.4" r="6.1"/><circle cx="230.8" cy="174.3" r="6.1"/><circle cx="244.6" cy="180.7" r="6.1"/><circle cx="191.7" cy="152.4" r="6.1"/><circle cx="203.8" cy="120.4" r="6.1"/><circle cx="207.2" cy="123.8" r="6.1"/><circle cx="209.7" cy="127.1" r="6.1"/><circle cx="214.8" cy="125.5" r="6.1"/><circle cx="217.3" cy="122.9" r="6.1"/><circle cx="225.7" cy="126.3" r="6.1"/><circle cx="219.8" cy="119.6" r="6.1"/><circle cx="219.0" cy="131.3" r="6.1"/><circle cx="202.2" cy="145.6" r="6.1"/><circle cx="205.5" cy="146.5" r="6.1"/><circle cx="208.9" cy="148.2" r="6.1"/><circle cx="212.3" cy="149.9" r="6.1"/><circle cx="215.6" cy="147.3" r="6.1"/><circle cx="219.0" cy="153.2" r="6.1"/><circle cx="222.4" cy="155.7" r="6.1"/><circle cx="224.0" cy="152.4" r="6.1"/><circle cx="210.6" cy="144.8" r="6.1"/><circle cx="213.9" cy="151.5" r="6.1"/><circle cx="236.7" cy="145.6" r="6.1"/><circle cx="247.6" cy="142.8" r="6.1"/><circle cx="209.2" cy="152.9" r="6.1"/><circle cx="212.3" cy="191.0" r="6.1"/><circle cx="320.0" cy="196.5" r="6.1"/></g>
</g>
<text x="1052.2" y="769.3" font-size="43" font-weight="bold" fill="#000">i)</text>
<rect x="1027.4" y="723.1" width="410.60" height="319.30" fill="none" stroke="#333" stroke-width="3.9" stroke-linejoin="round"/>
<path d="M1045.70 1044.3000000000002v6.5M1128.86 1044.3000000000002v6.5M1212.03 1044.3000000000002v6.5M1295.20 1044.3000000000002v6.5M1378.37 1044.3000000000002v6.5M1025.5 986.70h-6.5M1025.5 903.69h-6.5M1025.5 820.68h-6.5M1025.5 737.68h-6.5" stroke="#333" stroke-width="3.9" fill="none"/>
<text x="1051.2" y="1084.4" font-size="34" fill="#4d4d4d" text-anchor="middle">−10</text>
<text x="1130.9" y="1084.4" font-size="34" fill="#4d4d4d" text-anchor="middle">0</text>
<text x="1214.0" y="1084.4" font-size="34" fill="#4d4d4d" text-anchor="middle">10</text>
<text x="1297.2" y="1084.4" font-size="34" fill="#4d4d4d" text-anchor="middle">20</text>
<text x="1380.4" y="1084.4" font-size="34" fill="#4d4d4d" text-anchor="middle">30</text>
<text x="1247.7" y="1122.6" font-size="29" text-anchor="middle" fill="#000">Longitude (ºE)</text>
<g transform="translate(1453.0 723.1) scale(1.00024 0.99844)" clip-path="url(#cp)">
<use href="#bg"/>
<g fill="none" stroke-linecap="round" stroke-width="15.6"><path d="M65.3 109.5h0M57.4 126.3h0M73.9 127.1h0M75.9 172.6h0M99.5 163.3h0M101.2 166.7h0M104.5 161.6h0M132.0 174.3h0M134.0 174.8h0M144.9 176.8h0M153.7 175.4h0M142.4 191.1h0M152.5 192.3h0M140.2 199.5h0M146.6 195.3h0M151.7 187.7h0M143.6 223.4h0M153.4 213.8h0M173.9 191.1h0M198.8 212.5h0M198.8 186.9h0M205.5 193.6h0M212.8 191.1h0M215.6 197.0h0M219.0 200.3h0M222.4 197.0h0M198.8 200.3h0M202.2 201.2h0M205.5 184.4h0M185.3 195.3h0M208.9 186.9h0M220.2 204.9h0M192.9 202.0h0M222.4 218.9h0M230.8 222.6h0M230.8 207.1h0M237.5 225.6h0M247.6 229.8h0M225.7 227.3h0M244.4 180.1h0M237.5 190.6h0M323.3 201.2h0M316.6 205.4h0M299.8 214.6h0M303.1 216.3h0M205.5 146.5h0M208.9 148.2h0M215.6 147.3h0M224.0 152.4h0M236.7 144.8h0M209.2 152.9h0M72.6 254.2h0M199.6 229.8h0M199.6 239.0h0M192.9 176.4h0M181.3 180.8h0M217.3 194.3h0M219.2 193.8h0M184.8 206.2h0M215.1 209.1h0M145.1 176.9h0M137.7 177.3h0M144.4 176.1h0M143.1 176.3h0M141.7 191.6h0M146.1 200.2h0M150.5 181.7h0M109.8 171.1h0" stroke="#dee9d4"/><path d="M73.9 159.1h0M79.3 165.0h0M82.3 170.9h0M102.9 170.4h0M107.6 159.6h0M114.6 158.3h0M116.7 178.5h0M138.2 174.4h0M140.2 176.4h0M147.0 176.8h0M141.6 181.0h0M155.0 205.4h0M173.5 211.3h0M180.6 211.8h0M188.7 212.5h0M191.7 213.0h0M194.1 212.1h0M204.7 212.1h0M178.6 177.1h0M182.0 180.1h0M185.3 183.5h0M192.1 180.1h0M195.4 183.5h0M208.9 197.0h0M225.7 194.5h0M182.0 190.2h0M224.0 216.3h0M235.8 205.4h0M225.7 203.7h0M244.6 229.0h0M269.6 197.0h0M290.5 188.9h0M298.3 195.3h0M304.0 199.5h0M320.0 210.4h0M308.2 213.8h0M191.7 150.7h0M202.2 145.6h0M212.3 149.9h0M222.4 155.7h0M210.6 144.8h0M213.9 151.5h0M258.0 152.9h0M218.8 204.4h0M204.5 197.6h0M138.4 174.4h0M144.4 186.2h0M152.2 169.2h0M159.7 175.4h0M89.9 164.2h0M208.7 149.0h0" stroke="#e9e9cc"/><path d="M89.4 168.4h0M93.6 171.7h0M109.9 168.4h0M112.6 170.4h0M129.8 173.8h0M136.2 175.1h0M142.4 177.1h0M148.8 182.2h0M138.2 184.4h0M151.7 210.4h0M158.7 203.7h0M161.8 217.5h0M170.2 187.7h0M227.4 225.6h0M267.0 193.9h0M288.0 188.6h0M306.5 216.3h0M309.0 216.8h0M313.2 214.6h0M316.6 223.1h0M220.3 112.8h0M219.0 153.2h0M251.0 140.6h0M134.3 176.1h0M132.5 175.6h0M153.2 167.9h0M102.5 171.4h0M206.4 146.7h0M207.7 150.0h0M216.0 147.0h0M226.2 126.0h0M305.7 215.3h0M301.3 216.3h0" stroke="#d4e9dc"/><path d="M176.1 171.2h0M166.8 173.4h0M202.2 190.2h0M192.1 201.2h0M197.1 199.5h0M207.2 199.5h0M212.3 200.3h0M220.7 200.3h0M220.7 212.1h0M227.4 212.1h0M211.4 174.3h0M226.1 172.1h0M259.5 187.7h0M264.6 192.8h0M309.9 200.7h0M317.4 201.7h0M333.4 200.3h0M338.5 203.7h0M187.9 198.7h0M208.7 202.0h0M197.3 211.1h0M323.5 195.3h0" stroke="#f4e8c5"/><path d="M229.3 173.4h0M203.8 120.4h0M212.6 123.4h0M306.7 198.7h0" stroke="#c9eae3"/><path d="M161.8 170.0h0M165.1 170.0h0M215.6 199.5h0M215.6 212.1h0M320.0 193.6h0M220.8 247.5h0M203.3 189.1h0M159.7 173.4h0M314.9 202.7h0" stroke="#f2e1b7"/><path d="M150.0 228.4h0M103.7 257.6h0" stroke="#bbe5df"/><path d="M157.9 167.5h0M155.9 172.6h0M168.8 168.7h0M172.2 170.9h0M286.5 188.6h0M307.3 240.7h0" stroke="#edd9a7"/><path d="M52.4 238.2h0M104.5 246.6h0M107.9 242.4h0" stroke="#abded7"/><path d="M271.2 250.0h0M277.9 262.6h0M283.1 276.1h0M299.8 242.4h0M281.8 219.7h0" stroke="#e8d097"/><path d="M59.4 237.0h0M119.7 234.8h0M122.2 246.6h0" stroke="#9bd8ce"/><path d="M98.0 159.1h0M328.4 233.2h0M286.3 217.2h0M281.3 230.6h0M279.6 228.1h0M267.0 241.6h0M269.5 247.5h0M284.6 255.9h0M286.3 258.4h0M290.5 265.1h0M282.4 214.6h0" stroke="#e2c888"/><path d="M84.4 238.7h0M95.3 238.2h0" stroke="#8bd1c6"/><path d="M292.2 230.6h0M256.9 235.7h0M273.7 254.2h0M275.4 257.6h0M282.9 265.1h0M303.1 254.2h0M272.8 247.5h0M239.4 271.0h0M284.8 216.3h0M278.7 253.4h0M268.5 243.4h0" stroke="#ddbd77"/><path d="M80.1 240.4h0M90.2 238.2h0M81.0 247.5h0M97.8 243.3h0M83.0 241.1h0" stroke="#7ac9bd"/><path d="M84.5 165.0h0" stroke="#d5ae65"/><path d="M293.2 266.0h0" stroke="#6abdb2"/><path d="M305.0 240.7h0" stroke="#cea053"/><path d="M209.7 127.1h0M217.3 122.9h0M219.8 119.6h0M219.0 131.3h0M248.4 140.6h0M251.8 144.0h0M254.3 144.8h0M244.6 141.4h0" stroke="#c9eae3"/><path d="M207.2 123.8h0M214.8 125.5h0M225.7 126.3h0" stroke="#bbe5df"/><path d="M173.7 197.8h0M191.2 186.9h0M189.5 190.2h0M196.3 195.3h0M187.0 196.1h0M331.7 203.7h0M320.1 217.2h0M186.2 181.0h0M188.7 183.5h0M325.9 204.5h0M193.7 191.9h0M318.5 225.6h0M329.2 206.2h0M334.3 207.1h0M330.1 208.8h0" stroke="#edd9a7"/><path d="M201.5 200.3h0" stroke="#9bd8ce"/><path d="M284.8 212.1h0M284.0 220.5h0M284.8 225.6h0" stroke="#e2c888"/><path d="M86.2 239.0h0" stroke="#8bd1c6"/><path d="M245.2 207.1h0M271.3 229.8h0" stroke="#d5ae65"/><path d="M277.7 265.1h0" stroke="#cea053"/><path d="M337.0 220.5h0" stroke="#c79141"/><path d="M290.7 231.5h0" stroke="#c0832f"/><path d="M297.4 253.4h0" stroke="#a96d1e"/></g><g class="s2"><circle cx="173.7" cy="197.8" r="6.1"/><circle cx="191.2" cy="186.9" r="6.1"/><circle cx="189.5" cy="190.2" r="6.1"/><circle cx="196.3" cy="195.3" r="6.1"/><circle cx="187.0" cy="196.1" r="6.1"/><circle cx="201.5" cy="200.3" r="6.1"/><circle cx="245.2" cy="207.1" r="6.1"/><circle cx="331.7" cy="203.7" r="6.1"/><circle cx="320.1" cy="217.2" r="6.1"/><circle cx="337.0" cy="220.5" r="6.1"/><circle cx="284.8" cy="212.1" r="6.1"/><circle cx="284.0" cy="220.5" r="6.1"/><circle cx="284.8" cy="225.6" r="6.1"/><circle cx="271.3" cy="229.8" r="6.1"/><circle cx="290.7" cy="231.5" r="6.1"/><circle cx="277.7" cy="265.1" r="6.1"/><circle cx="297.4" cy="253.4" r="6.1"/><circle cx="207.2" cy="123.8" r="6.1"/><circle cx="209.7" cy="127.1" r="6.1"/><circle cx="214.8" cy="125.5" r="6.1"/><circle cx="217.3" cy="122.9" r="6.1"/><circle cx="225.7" cy="126.3" r="6.1"/><circle cx="219.8" cy="119.6" r="6.1"/><circle cx="219.0" cy="131.3" r="6.1"/><circle cx="248.4" cy="140.6" r="6.1"/><circle cx="251.8" cy="144.0" r="6.1"/><circle cx="254.3" cy="144.8" r="6.1"/><circle cx="86.2" cy="239.0" r="6.1"/><circle cx="186.2" cy="181.0" r="6.1"/><circle cx="188.7" cy="183.5" r="6.1"/><circle cx="325.9" cy="204.5" r="6.1"/><circle cx="244.6" cy="141.4" r="6.1"/><circle cx="193.7" cy="191.9" r="6.1"/><circle cx="318.5" cy="225.6" r="6.1"/><circle cx="329.2" cy="206.2" r="6.1"/><circle cx="334.3" cy="207.1" r="6.1"/><circle cx="330.1" cy="208.8" r="6.1"/></g>
</g>
<text x="1477.8" y="769.3" font-size="43" font-weight="bold" fill="#000">l)</text>
<rect x="1453.0" y="723.1" width="410.60" height="319.30" fill="none" stroke="#333" stroke-width="3.9" stroke-linejoin="round"/>
<path d="M1471.30 1044.3000000000002v6.5M1554.46 1044.3000000000002v6.5M1637.63 1044.3000000000002v6.5M1720.80 1044.3000000000002v6.5M1803.97 1044.3000000000002v6.5M1451.1 986.70h-6.5M1451.1 903.69h-6.5M1451.1 820.68h-6.5M1451.1 737.68h-6.5" stroke="#333" stroke-width="3.9" fill="none"/>
<text x="1476.8" y="1084.4" font-size="34" fill="#4d4d4d" text-anchor="middle">−10</text>
<text x="1556.5" y="1084.4" font-size="34" fill="#4d4d4d" text-anchor="middle">0</text>
<text x="1639.6" y="1084.4" font-size="34" fill="#4d4d4d" text-anchor="middle">10</text>
<text x="1722.8" y="1084.4" font-size="34" fill="#4d4d4d" text-anchor="middle">20</text>
<text x="1806.0" y="1084.4" font-size="34" fill="#4d4d4d" text-anchor="middle">30</text>
<text x="1673.3" y="1122.6" font-size="29" text-anchor="middle" fill="#000">Longitude (ºE)</text>
<text x="383.9" y="24.1" font-size="33.4" font-weight="bold" text-anchor="middle" fill="#000">trwPC1_D90 extremes</text>
<text x="817.2" y="24.1" font-size="33.4" font-weight="bold" text-anchor="middle" fill="#000">trwPC1_D10 extremes</text>
<text x="1239.9" y="24.1" font-size="33.4" font-weight="bold" text-anchor="middle" fill="#000">trwPC2_D90 extremes</text>
<text x="1661.6" y="24.1" font-size="33.4" font-weight="bold" text-anchor="middle" fill="#000">trwPC2_D10 extremes</text>
<text transform="translate(24.8 238.2) rotate(-90)" font-size="33.3" font-weight="bold" text-anchor="middle" fill="#000">Growth anomaly</text>
<text transform="translate(65.7 233.6) rotate(-90)" font-size="34.8" font-weight="bold" text-anchor="middle" fill="#000">(TRW)</text>
<text transform="translate(24.8 567.2) rotate(-90)" font-size="33.3" font-weight="bold" text-anchor="middle" fill="#000">Growth anomaly</text>
<text transform="translate(65.7 563.5) rotate(-90)" font-size="33.0" font-weight="bold" text-anchor="middle" fill="#000">(LMM)</text>
<text transform="translate(24.8 911.8) rotate(-90)" font-size="33.3" font-weight="bold" text-anchor="middle" fill="#000">GPP anomaly</text>
<text transform="translate(65.7 907.8) rotate(-90)" font-size="33.3" font-weight="bold" text-anchor="middle" fill="#000">(DGVM)</text>
<text x="1884.3" y="81.9" font-size="28.6" fill="#000" letter-spacing="-0.9">Growth</text>
<text x="1884.3" y="111.8" font-size="28.6" fill="#000">anomaly</text>
<text x="1884.3" y="141.7" font-size="28.6" fill="#000">[%]</text>
<rect x="1885" y="166.9" width="41.2" height="204" fill="url(#brbg)"/>
<text x="1939.3" y="179.3" font-size="34" fill="#000">50</text>
<text x="1939.3" y="230.3" font-size="34" fill="#000">25</text>
<text x="1939.3" y="281.3" font-size="34" fill="#000">0</text>
<text x="1939.3" y="332.3" font-size="34" fill="#000">−25</text>
<text x="1939.3" y="383.3" font-size="34" fill="#000">−50</text>
<path d="M1885 217.9h8.2M1926.2 217.9h-8.2M1885 268.9h8.2M1926.2 268.9h-8.2M1885 319.9h8.2M1926.2 319.9h-8.2" stroke="#fff" stroke-width="1" fill="none"/>
<text x="1884.3" y="416.6" font-size="28.6" fill="#000" letter-spacing="-0.9">Growth</text>
<text x="1884.3" y="446.5" font-size="28.6" fill="#000">anomaly</text>
<text x="1884.3" y="476.4" font-size="28.6" fill="#000">[%]</text>
<rect x="1885" y="501.6" width="41.2" height="204" fill="url(#brbg)"/>
<text x="1939.3" y="514.0" font-size="34" fill="#000">40</text>
<text x="1939.3" y="565.0" font-size="34" fill="#000">20</text>
<text x="1939.3" y="616.0" font-size="34" fill="#000">0</text>
<text x="1939.3" y="667.0" font-size="34" fill="#000">−20</text>
<text x="1939.3" y="718.0" font-size="34" fill="#000">−40</text>
<path d="M1885 552.6h8.2M1926.2 552.6h-8.2M1885 603.6h8.2M1926.2 603.6h-8.2M1885 654.6h8.2M1926.2 654.6h-8.2" stroke="#fff" stroke-width="1" fill="none"/>
<text x="1884.3" y="751.3" font-size="28.6" fill="#000">GPP</text>
<text x="1884.3" y="781.2" font-size="28.6" fill="#000">anomaly</text>
<text x="1884.3" y="811.1" font-size="28.6" fill="#000">[%]</text>
<rect x="1885" y="836.3" width="41.2" height="204" fill="url(#brbg)"/>
<text x="1939.3" y="848.7" font-size="34" fill="#000">40</text>
<text x="1939.3" y="899.7" font-size="34" fill="#000">20</text>
<text x="1939.3" y="950.7" font-size="34" fill="#000">0</text>
<text x="1939.3" y="1001.7" font-size="34" fill="#000">−20</text>
<text x="1939.3" y="1052.7" font-size="34" fill="#000">−40</text>
<path d="M1885 887.3h8.2M1926.2 887.3h-8.2M1885 938.3h8.2M1926.2 938.3h-8.2M1885 989.3h8.2M1926.2 989.3h-8.2" stroke="#fff" stroke-width="1" fill="none"/>
</svg></body></html>
